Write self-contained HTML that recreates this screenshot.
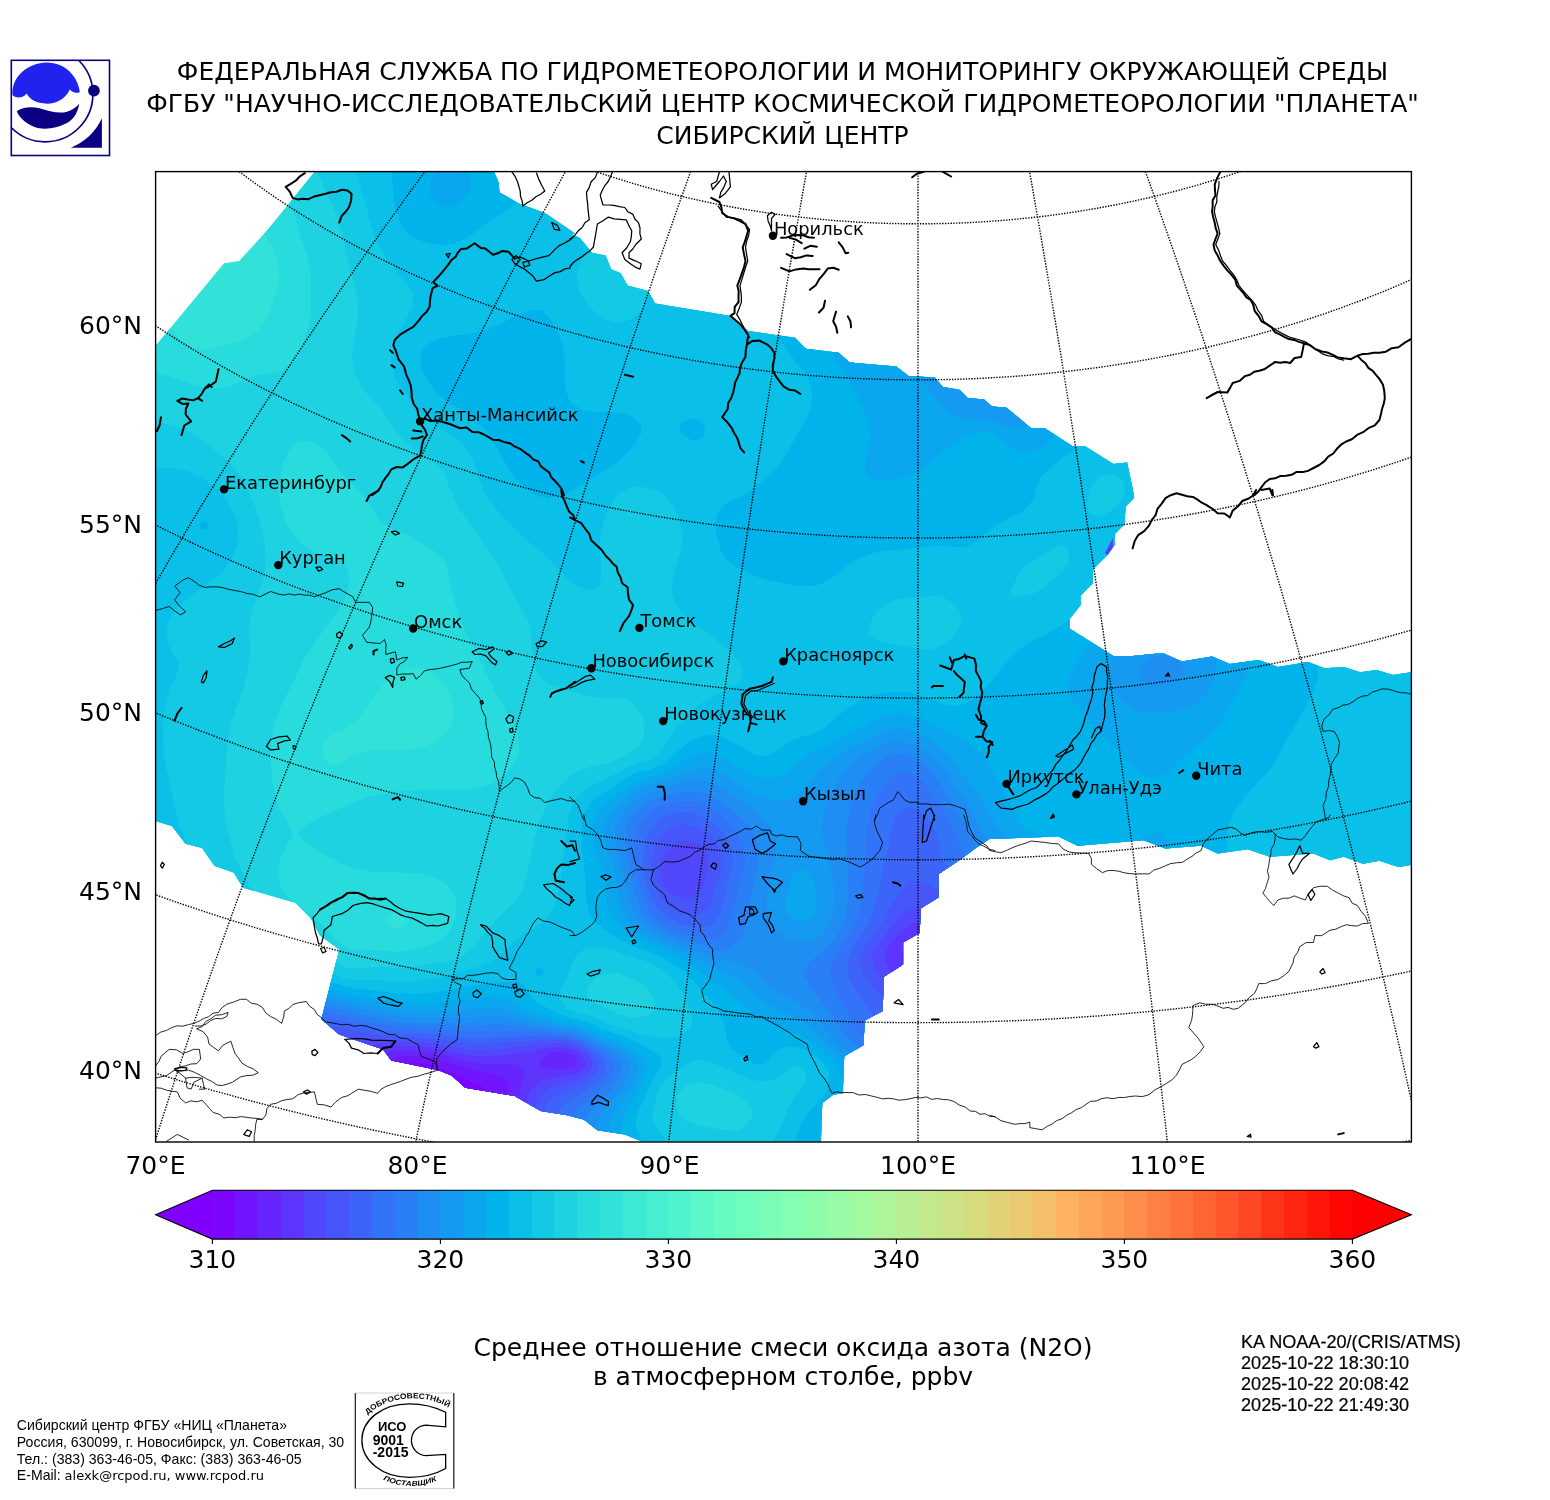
<!DOCTYPE html>
<html lang="ru"><head><meta charset="utf-8"><title>N2O</title>
<style>html,body{margin:0;padding:0;background:#fff}svg{display:block}text{font-family:"DejaVu Sans","Liberation Sans",sans-serif;fill:#000}.a text,.a{font-family:"Liberation Sans","DejaVu Sans",sans-serif}</style></head><body>
<svg width="1550" height="1500" viewBox="0 0 1550 1500">
<rect width="1550" height="1500" fill="#fff"/>
<defs>
<clipPath id="frame"><rect x="155.6" y="171.6" width="1255.8000000000002" height="970.4"/></clipPath>
<clipPath id="reg"><polygon points="314.5,171.9 287.1,206.1 267.9,229.4 239.1,261.0 224.0,263.2 155.5,346.0 155.5,821.0 171.9,826.0 185.6,843.8 202.1,847.9 214.4,865.7 233.6,872.6 243.2,887.7 295.3,902.7 310.4,917.8 320.0,935.6 339.2,949.4 321.4,1019.3 339.2,1034.4 383.1,1049.4 391.3,1060.4 437.9,1070.0 451.6,1075.5 465.3,1087.8 514.7,1096.0 540.7,1111.1 575.0,1116.6 570.0,1116.1 583.7,1119.4 597.4,1130.3 624.8,1134.4 641.3,1141.3 820.9,1141.3 822.3,1102.9 833.2,1094.7 842.8,1093.3 844.2,1056.3 863.4,1045.3 864.8,1020.6 882.6,1011.0 884.0,976.8 903.1,964.4 903.1,942.5 919.6,932.9 921.0,908.2 938.8,897.3 938.8,874.0 959.4,860.2 975.8,847.9 989.5,839.1 995.0,839.1 990.0,839.1 1058.5,836.4 1077.7,845.7 1143.5,840.2 1165.5,848.5 1201.1,845.7 1217.6,853.4 1247.7,849.3 1269.7,856.7 1313.5,853.4 1330.0,860.2 1343.7,856.7 1362.9,863.8 1379.4,860.8 1398.5,867.1 1410.9,864.9 1410.9,672.3 1393.1,675.1 1376.6,670.1 1360.2,672.3 1343.7,666.9 1324.5,668.2 1308.1,661.9 1277.9,666.9 1258.7,660.0 1229.9,664.1 1212.1,656.4 1181.9,661.4 1162.7,653.1 1132.6,655.9 1113.4,655.9 1069.5,628.5 1069.5,618.9 1080.5,605.2 1080.5,595.6 1092.8,583.2 1092.8,569.5 1107.9,554.4 1114.8,544.8 1114.8,533.9 1124.4,524.3 1125.7,506.5 1134.0,498.2 1134.0,490.0 1134.0,495.1 1127.1,462.5 1113.4,463.9 1084.6,446.0 1072.3,446.0 1044.8,428.2 1031.1,428.2 1006.5,407.7 990.0,406.3 995.0,409.0 984.0,399.4 967.6,398.1 959.4,389.8 942.9,387.1 934.7,377.5 908.6,376.1 896.3,366.5 849.7,362.4 838.7,352.8 805.8,348.7 794.8,337.7 748.2,330.9 729.0,315.8 655.0,303.5 648.1,291.1 627.6,285.6 620.7,273.3 611.1,269.2 605.6,255.5 591.9,252.7 579.6,237.7 570.0,233.5 575.0,233.5 544.8,213.0 518.8,203.4 499.6,192.4 498.2,181.5 494.1,171.9"/></clipPath>
</defs>
<g clip-path="url(#frame)"><g clip-path="url(#reg)">
<rect x="155.6" y="171.6" width="1255.8000000000002" height="970.4" fill="#32e2d9"/>
<path d="M148,164 153,164 158,164 163,164 168,164 173,164 178,164 183,164 188,164 193,164 198,164 203,164 208,164 213,164 218,164 223,164 228,164 233,164 238,164 243,164 248,164 253,164 258,164 263,164 268,164 273,164 278,164 283,164 288,164 293,164 298,164 303,164 308,164 313,164 318,164 323,164 328,164 333,164 338,164 343,164 348,164 353,164 358,164 363,164 368,164 373,164 378,164 383,164 388,164 393,164 398,164 403,164 408,164 413,164 418,164 423,164 428,164 433,164 438,164 443,164 448,164 453,164 458,164 463,164 468,164 473,164 478,164 483,164 488,164 493,164 498,164 503,164 508,164 513,164 518,164 523,164 528,164 533,164 538,164 543,164 548,164 553,164 558,164 563,164 568,164 573,164 578,164 583,164 588,164 593,164 598,164 603,164 608,164 613,164 618,164 623,164 628,164 633,164 638,164 643,164 648,164 653,164 658,164 663,164 668,164 673,164 678,164 683,164 688,164 693,164 698,164 703,164 708,164 713,164 718,164 723,164 728,164 733,164 738,164 743,164 748,164 753,164 758,164 763,164 768,164 773,164 778,164 783,164 788,164 793,164 798,164 803,164 808,164 813,164 818,164 823,164 828,164 833,164 838,164 843,164 848,164 853,164 858,164 863,164 868,164 873,164 878,164 883,164 888,164 893,164 898,164 903,164 908,164 913,164 918,164 923,164 928,164 933,164 938,164 943,164 948,164 953,164 958,164 963,164 968,164 973,164 978,164 983,164 988,164 993,164 998,164 1003,164 1008,164 1013,164 1018,164 1023,164 1028,164 1033,164 1038,164 1043,164 1048,164 1053,164 1058,164 1063,164 1068,164 1073,164 1078,164 1083,164 1088,164 1093,164 1098,164 1103,164 1108,164 1113,164 1118,164 1123,164 1128,164 1133,164 1138,164 1143,164 1148,164 1153,164 1158,164 1163,164 1168,164 1173,164 1178,164 1183,164 1188,164 1193,164 1198,164 1203,164 1208,164 1213,164 1218,164 1223,164 1228,164 1233,164 1238,164 1243,164 1248,164 1253,164 1258,164 1263,164 1268,164 1273,164 1278,164 1283,164 1288,164 1293,164 1298,164 1303,164 1308,164 1313,164 1318,164 1323,164 1328,164 1333,164 1338,164 1343,164 1348,164 1353,164 1358,164 1363,164 1368,164 1373,164 1378,164 1383,164 1388,164 1393,164 1398,164 1403,164 1408,164 1413,164 1418,164 1423,164 1423,169 1423,174 1423,179 1423,184 1423,189 1423,194 1423,199 1423,204 1423,209 1423,214 1423,219 1423,224 1423,229 1423,234 1423,239 1423,244 1423,249 1423,254 1423,259 1423,264 1423,269 1423,274 1423,279 1423,284 1423,289 1423,294 1423,299 1423,304 1423,309 1423,314 1423,319 1423,324 1423,329 1423,334 1423,339 1423,344 1423,349 1423,354 1423,359 1423,364 1423,369 1423,374 1423,379 1423,384 1423,389 1423,394 1423,399 1423,404 1423,409 1423,414 1423,419 1423,424 1423,429 1423,434 1423,439 1423,444 1423,449 1423,454 1423,459 1423,464 1423,469 1423,474 1423,479 1423,484 1423,489 1423,494 1423,499 1423,504 1423,509 1423,514 1423,519 1423,524 1423,529 1423,534 1423,539 1423,544 1423,549 1423,554 1423,559 1423,564 1423,569 1423,574 1423,579 1423,584 1423,589 1423,594 1423,599 1423,604 1423,609 1423,614 1423,619 1423,624 1423,629 1423,634 1423,639 1423,644 1423,649 1423,654 1423,659 1423,664 1423,669 1423,674 1423,679 1423,684 1423,689 1423,694 1423,699 1423,704 1423,709 1423,714 1423,719 1423,724 1423,729 1423,734 1423,739 1423,744 1423,749 1423,754 1423,759 1423,764 1423,769 1423,774 1423,779 1423,784 1423,789 1423,794 1423,799 1423,804 1423,809 1423,814 1423,819 1423,824 1423,829 1423,834 1423,839 1423,844 1423,849 1423,854 1423,859 1423,864 1423,869 1423,874 1423,879 1423,884 1423,889 1423,894 1423,899 1423,904 1423,909 1423,914 1423,919 1423,924 1423,929 1423,934 1423,939 1423,944 1423,949 1423,954 1423,959 1423,964 1423,969 1423,974 1423,979 1423,984 1423,989 1423,994 1423,999 1423,1004 1423,1009 1423,1014 1423,1019 1423,1024 1423,1029 1423,1034 1423,1039 1423,1044 1423,1049 1423,1054 1423,1059 1423,1064 1423,1069 1423,1074 1423,1079 1423,1084 1423,1089 1423,1094 1423,1099 1423,1104 1423,1109 1423,1114 1423,1119 1423,1124 1423,1129 1423,1134 1423,1139 1423,1144 1423,1149 1423,1154 1418,1154 1413,1154 1408,1154 1403,1154 1398,1154 1393,1154 1388,1154 1383,1154 1378,1154 1373,1154 1368,1154 1363,1154 1358,1154 1353,1154 1348,1154 1343,1154 1338,1154 1333,1154 1328,1154 1323,1154 1318,1154 1313,1154 1308,1154 1303,1154 1298,1154 1293,1154 1288,1154 1283,1154 1278,1154 1273,1154 1268,1154 1263,1154 1258,1154 1253,1154 1248,1154 1243,1154 1238,1154 1233,1154 1228,1154 1223,1154 1218,1154 1213,1154 1208,1154 1203,1154 1198,1154 1193,1154 1188,1154 1183,1154 1178,1154 1173,1154 1168,1154 1163,1154 1158,1154 1153,1154 1148,1154 1143,1154 1138,1154 1133,1154 1128,1154 1123,1154 1118,1154 1113,1154 1108,1154 1103,1154 1098,1154 1093,1154 1088,1154 1083,1154 1078,1154 1073,1154 1068,1154 1063,1154 1058,1154 1053,1154 1048,1154 1043,1154 1038,1154 1033,1154 1028,1154 1023,1154 1018,1154 1013,1154 1008,1154 1003,1154 998,1154 993,1154 988,1154 983,1154 978,1154 973,1154 968,1154 963,1154 958,1154 953,1154 948,1154 943,1154 938,1154 933,1154 928,1154 923,1154 918,1154 913,1154 908,1154 903,1154 898,1154 893,1154 888,1154 883,1154 878,1154 873,1154 868,1154 863,1154 858,1154 853,1154 848,1154 843,1154 838,1154 833,1154 828,1154 823,1154 818,1154 813,1154 808,1154 803,1154 798,1154 793,1154 788,1154 783,1154 778,1154 773,1154 768,1154 763,1154 758,1154 753,1154 748,1154 743,1154 738,1154 733,1154 728,1154 723,1154 718,1154 713,1154 708,1154 703,1154 698,1154 693,1154 688,1154 683,1154 678,1154 673,1154 668,1154 663,1154 658,1154 653,1154 648,1154 643,1154 638,1154 633,1154 628,1154 623,1154 618,1154 613,1154 608,1154 603,1154 598,1154 593,1154 588,1154 583,1154 578,1154 573,1154 568,1154 563,1154 558,1154 553,1154 548,1154 543,1154 538,1154 533,1154 528,1154 523,1154 518,1154 513,1154 508,1154 503,1154 498,1154 493,1154 488,1154 483,1154 478,1154 473,1154 468,1154 463,1154 458,1154 453,1154 448,1154 443,1154 438,1154 433,1154 428,1154 423,1154 418,1154 413,1154 408,1154 403,1154 398,1154 393,1154 388,1154 383,1154 378,1154 373,1154 368,1154 363,1154 358,1154 353,1154 348,1154 343,1154 338,1154 333,1154 328,1154 323,1154 318,1154 313,1154 308,1154 303,1154 298,1154 293,1154 288,1154 283,1154 278,1154 273,1154 268,1154 263,1154 258,1154 253,1154 248,1154 243,1154 238,1154 233,1154 228,1154 223,1154 218,1154 213,1154 208,1154 203,1154 198,1154 193,1154 188,1154 183,1154 178,1154 173,1154 168,1154 163,1154 158,1154 153,1154 148,1154 148,1149 148,1144 148,1139 148,1134 148,1129 148,1124 148,1119 148,1114 148,1109 148,1104 148,1099 148,1094 148,1089 148,1084 148,1079 148,1074 148,1069 148,1064 148,1059 148,1054 148,1049 148,1044 148,1039 148,1034 148,1029 148,1024 148,1019 148,1014 148,1009 148,1004 148,999 148,994 148,989 148,984 148,979 148,974 148,969 148,964 148,959 148,954 148,949 148,944 148,939 148,934 148,929 148,924 148,919 148,914 148,909 148,904 148,899 148,894 148,889 148,884 148,879 148,874 148,869 148,864 148,859 148,854 148,849 148,844 148,839 148,834 148,829 148,824 148,819 148,814 148,809 148,804 148,799 148,794 148,789 148,784 148,779 148,774 148,769 148,764 148,759 148,754 148,749 148,744 148,739 148,734 148,729 148,724 148,719 148,714 148,709 148,704 148,699 148,694 148,689 148,684 148,679 148,674 148,669 148,664 148,659 148,654 148,649 148,644 148,639 148,634 148,629 148,624 148,619 148,614 148,609 148,604 148,599 148,594 148,589 148,584 148,579 148,574 148,569 148,564 148,559 148,554 148,549 148,544 148,539 148,534 148,529 148,524 148,519 148,514 148,509 148,504 148,499 148,494 148,489 148,484 148,479 148,474 148,469 148,464 148,459 148,454 148,449 148,444 148,439 148,434 148,429 148,424 148,419 148,414 148,409 148,404 148,399 148,394 148,389 148,384 148,379 148,374 148,369 148,364 148,359 148,354 148,349 148,344 148,339 148,334 148,329 148,324 148,319 148,314 148,309 148,304 148,299 148,294 148,293 148,294 151,299 153,301 154,304 157,309 158,310 160,314 163,318 163,319 167,324 168,325 171,329 173,331 175,334 178,336 180,339 183,341 185,344 188,345 193,348 194,349 198,349 203,349 208,349 208,349 213,348 218,347 223,345 228,344 230,344 233,343 238,341 243,340 245,339 248,337 253,334 254,334 258,330 259,329 263,324 263,324 266,319 268,315 268,314 271,309 272,304 273,303 274,299 276,294 277,289 278,285 278,284 279,279 279,274 279,269 278,264 278,261 277,259 275,254 273,249 273,247 271,244 268,239 268,238 264,234 263,231 260,229 258,227 254,224 253,223 248,219 246,219 243,217 238,214 236,214 233,212 228,211 223,209 218,209 218,208 213,208 208,208 203,208 198,208 193,209 193,209 188,210 183,211 178,213 177,214 173,216 169,219 168,220 163,224 163,224 158,229 158,229 154,234 153,236 150,239 148,242 148,239 148,234 148,229 148,224 148,219 148,214 148,209 148,204 148,199 148,194 148,189 148,184 148,179 148,174 148,169ZM413,668 411,669 408,669 403,670 398,673 396,674 393,676 389,679 388,680 384,684 383,685 380,689 378,692 376,694 373,699 373,699 369,704 368,706 366,709 363,713 362,714 358,719 358,719 353,724 353,724 348,727 345,729 343,730 338,732 334,734 333,734 328,737 326,739 323,744 323,746 322,749 323,752 323,754 325,759 328,763 329,764 333,765 338,765 340,764 343,762 348,759 348,759 353,756 357,754 358,754 363,752 368,751 373,750 378,750 383,750 388,750 393,751 398,750 403,750 408,750 413,749 415,749 418,748 423,747 428,745 431,744 433,743 438,740 440,739 443,736 445,734 448,731 449,729 451,724 453,719 453,718 453,714 453,709 453,704 453,704 451,699 450,694 448,690 447,689 444,684 443,682 439,679 438,677 433,674 432,674 428,671 423,669 418,669 418,669ZM393,913 390,914 388,916 386,919 387,924 388,924 393,928 396,929 398,929 399,929 403,927 406,924 406,919 403,914 401,914 398,912Z" fill="#28dbdd" fill-rule="evenodd"/>
<path d="M260,164 263,164 268,164 273,164 278,164 283,164 288,164 293,164 298,164 303,164 308,164 313,164 318,164 323,164 328,164 333,164 338,164 343,164 348,164 353,164 358,164 363,164 368,164 373,164 378,164 383,164 388,164 393,164 398,164 403,164 408,164 413,164 418,164 423,164 428,164 433,164 438,164 443,164 448,164 453,164 458,164 463,164 468,164 473,164 478,164 483,164 488,164 493,164 498,164 503,164 508,164 513,164 518,164 523,164 528,164 533,164 538,164 543,164 548,164 553,164 558,164 563,164 568,164 573,164 578,164 583,164 588,164 593,164 598,164 603,164 608,164 613,164 618,164 623,164 628,164 633,164 638,164 643,164 648,164 653,164 658,164 663,164 668,164 673,164 678,164 683,164 688,164 693,164 698,164 703,164 708,164 713,164 718,164 723,164 728,164 733,164 738,164 743,164 748,164 753,164 758,164 763,164 768,164 773,164 778,164 783,164 788,164 793,164 798,164 803,164 808,164 813,164 818,164 823,164 828,164 833,164 838,164 843,164 848,164 853,164 858,164 863,164 868,164 873,164 878,164 883,164 888,164 893,164 898,164 903,164 908,164 913,164 918,164 923,164 928,164 933,164 938,164 943,164 948,164 953,164 958,164 963,164 968,164 973,164 978,164 983,164 988,164 993,164 998,164 1003,164 1008,164 1013,164 1018,164 1023,164 1028,164 1033,164 1038,164 1043,164 1048,164 1053,164 1058,164 1063,164 1068,164 1073,164 1078,164 1083,164 1088,164 1093,164 1098,164 1103,164 1108,164 1113,164 1118,164 1123,164 1128,164 1133,164 1138,164 1143,164 1148,164 1153,164 1158,164 1163,164 1168,164 1173,164 1178,164 1183,164 1188,164 1193,164 1198,164 1203,164 1208,164 1213,164 1218,164 1223,164 1228,164 1233,164 1238,164 1243,164 1248,164 1253,164 1258,164 1263,164 1268,164 1273,164 1278,164 1283,164 1288,164 1293,164 1298,164 1303,164 1308,164 1313,164 1318,164 1323,164 1328,164 1333,164 1338,164 1343,164 1348,164 1353,164 1358,164 1363,164 1368,164 1373,164 1378,164 1383,164 1388,164 1393,164 1398,164 1403,164 1408,164 1413,164 1418,164 1423,164 1423,169 1423,174 1423,179 1423,184 1423,189 1423,194 1423,199 1423,204 1423,209 1423,214 1423,219 1423,224 1423,229 1423,234 1423,239 1423,244 1423,249 1423,254 1423,259 1423,264 1423,269 1423,274 1423,279 1423,284 1423,289 1423,294 1423,299 1423,304 1423,309 1423,314 1423,319 1423,324 1423,329 1423,334 1423,339 1423,344 1423,349 1423,354 1423,359 1423,364 1423,369 1423,374 1423,379 1423,384 1423,389 1423,394 1423,399 1423,404 1423,409 1423,414 1423,419 1423,424 1423,429 1423,434 1423,439 1423,444 1423,449 1423,454 1423,459 1423,464 1423,469 1423,474 1423,479 1423,484 1423,489 1423,494 1423,499 1423,504 1423,509 1423,514 1423,519 1423,524 1423,529 1423,534 1423,539 1423,544 1423,549 1423,554 1423,559 1423,564 1423,569 1423,574 1423,579 1423,584 1423,589 1423,594 1423,599 1423,604 1423,609 1423,614 1423,619 1423,624 1423,629 1423,634 1423,639 1423,644 1423,649 1423,654 1423,659 1423,664 1423,669 1423,674 1423,679 1423,684 1423,689 1423,694 1423,699 1423,704 1423,709 1423,714 1423,719 1423,724 1423,729 1423,734 1423,739 1423,744 1423,749 1423,754 1423,759 1423,764 1423,769 1423,774 1423,779 1423,784 1423,789 1423,794 1423,799 1423,804 1423,809 1423,814 1423,819 1423,824 1423,829 1423,834 1423,839 1423,844 1423,849 1423,854 1423,859 1423,864 1423,869 1423,874 1423,879 1423,884 1423,889 1423,894 1423,899 1423,904 1423,909 1423,914 1423,919 1423,924 1423,929 1423,934 1423,939 1423,944 1423,949 1423,954 1423,959 1423,964 1423,969 1423,974 1423,979 1423,984 1423,989 1423,994 1423,999 1423,1004 1423,1009 1423,1014 1423,1019 1423,1024 1423,1029 1423,1034 1423,1039 1423,1044 1423,1049 1423,1054 1423,1059 1423,1064 1423,1069 1423,1074 1423,1079 1423,1084 1423,1089 1423,1094 1423,1099 1423,1104 1423,1109 1423,1114 1423,1119 1423,1124 1423,1129 1423,1134 1423,1139 1423,1144 1423,1149 1423,1154 1418,1154 1413,1154 1408,1154 1403,1154 1398,1154 1393,1154 1388,1154 1383,1154 1378,1154 1373,1154 1368,1154 1363,1154 1358,1154 1353,1154 1348,1154 1343,1154 1338,1154 1333,1154 1328,1154 1323,1154 1318,1154 1313,1154 1308,1154 1303,1154 1298,1154 1293,1154 1288,1154 1283,1154 1278,1154 1273,1154 1268,1154 1263,1154 1258,1154 1253,1154 1248,1154 1243,1154 1238,1154 1233,1154 1228,1154 1223,1154 1218,1154 1213,1154 1208,1154 1203,1154 1198,1154 1193,1154 1188,1154 1183,1154 1178,1154 1173,1154 1168,1154 1163,1154 1158,1154 1153,1154 1148,1154 1143,1154 1138,1154 1133,1154 1128,1154 1123,1154 1118,1154 1113,1154 1108,1154 1103,1154 1098,1154 1093,1154 1088,1154 1083,1154 1078,1154 1073,1154 1068,1154 1063,1154 1058,1154 1053,1154 1048,1154 1043,1154 1038,1154 1033,1154 1028,1154 1023,1154 1018,1154 1013,1154 1008,1154 1003,1154 998,1154 993,1154 988,1154 983,1154 978,1154 973,1154 968,1154 963,1154 958,1154 953,1154 948,1154 943,1154 938,1154 933,1154 928,1154 923,1154 918,1154 913,1154 908,1154 903,1154 898,1154 893,1154 888,1154 883,1154 878,1154 873,1154 868,1154 863,1154 858,1154 853,1154 848,1154 843,1154 838,1154 833,1154 828,1154 823,1154 818,1154 813,1154 808,1154 803,1154 798,1154 793,1154 788,1154 783,1154 778,1154 773,1154 768,1154 763,1154 758,1154 753,1154 748,1154 743,1154 738,1154 733,1154 728,1154 723,1154 718,1154 713,1154 708,1154 703,1154 698,1154 693,1154 688,1154 683,1154 678,1154 673,1154 668,1154 663,1154 658,1154 653,1154 648,1154 643,1154 638,1154 633,1154 628,1154 623,1154 618,1154 613,1154 608,1154 603,1154 598,1154 593,1154 588,1154 583,1154 578,1154 573,1154 568,1154 563,1154 558,1154 553,1154 548,1154 543,1154 538,1154 533,1154 528,1154 523,1154 518,1154 513,1154 508,1154 503,1154 498,1154 493,1154 488,1154 483,1154 478,1154 473,1154 468,1154 463,1154 458,1154 453,1154 448,1154 443,1154 438,1154 433,1154 428,1154 423,1154 418,1154 413,1154 408,1154 403,1154 398,1154 393,1154 388,1154 383,1154 378,1154 373,1154 368,1154 363,1154 358,1154 353,1154 348,1154 343,1154 338,1154 333,1154 328,1154 323,1154 318,1154 313,1154 308,1154 303,1154 298,1154 293,1154 288,1154 283,1154 278,1154 273,1154 268,1154 263,1154 258,1154 253,1154 248,1154 243,1154 238,1154 233,1154 228,1154 223,1154 218,1154 213,1154 208,1154 203,1154 198,1154 193,1154 188,1154 183,1154 178,1154 173,1154 168,1154 163,1154 158,1154 153,1154 148,1154 148,1149 148,1144 148,1139 148,1134 148,1129 148,1124 148,1119 148,1114 148,1109 148,1104 148,1099 148,1094 148,1089 148,1084 148,1079 148,1074 148,1069 148,1064 148,1059 148,1054 148,1049 148,1044 148,1039 148,1034 148,1029 148,1024 148,1019 148,1014 148,1009 148,1004 148,999 148,994 148,989 148,984 148,979 148,974 148,969 148,964 148,959 148,954 148,949 148,944 148,939 148,934 148,929 148,924 148,919 148,914 148,909 148,904 148,899 148,894 148,889 148,884 148,879 148,874 148,869 148,864 148,859 148,854 148,849 148,844 148,839 148,834 148,829 148,824 148,819 148,814 148,809 148,804 148,799 148,794 148,789 148,784 148,779 148,774 148,769 148,764 148,759 148,754 148,749 148,744 148,739 148,734 148,729 148,724 148,719 148,714 148,709 148,704 148,699 148,694 148,689 148,684 148,679 148,674 148,669 148,664 148,659 148,654 148,649 148,644 148,639 148,634 148,629 148,624 148,619 148,614 148,609 148,604 148,599 148,594 148,589 148,584 148,579 148,574 148,569 148,564 148,559 148,554 148,549 148,544 148,539 148,534 148,529 148,524 148,519 148,514 148,509 148,504 148,499 148,494 148,489 148,484 148,479 148,474 148,469 148,464 148,459 148,454 148,449 148,444 148,439 148,434 148,429 148,424 148,419 148,414 148,409 148,404 148,399 148,394 148,389 148,384 148,379 148,374 148,370 153,371 158,373 159,374 163,375 168,376 173,378 175,379 178,379 183,381 188,383 190,384 193,385 198,386 203,387 208,388 213,388 218,388 223,388 228,387 233,385 236,384 238,383 243,380 245,379 248,378 253,376 258,375 263,374 268,374 270,374 273,373 278,372 283,370 285,369 288,367 291,364 293,362 295,359 298,355 298,354 301,349 303,344 303,344 305,339 306,334 308,329 308,329 309,324 310,319 311,314 311,309 311,304 311,299 311,294 311,289 311,284 311,279 311,274 310,269 309,264 308,259 308,256 307,254 305,249 303,244 303,242 301,239 300,234 298,229 298,225 297,224 296,219 294,214 293,210 292,209 289,204 288,200 286,199 283,194 283,193 280,189 278,186 276,184 273,180 272,179 268,174 268,174 263,169 263,167ZM298,442 295,444 293,446 290,449 288,452 287,454 285,459 283,464 283,464 282,469 281,474 280,479 279,484 279,489 279,494 280,499 280,504 281,509 283,513 283,514 284,519 287,524 288,525 290,529 293,533 293,534 297,539 298,539 302,544 303,544 308,548 308,549 313,551 318,553 318,554 323,555 328,556 333,557 338,559 338,559 343,562 345,564 348,569 348,569 349,574 349,579 349,584 348,589 348,589 346,594 345,599 343,604 343,604 339,609 338,611 336,614 333,617 332,619 328,624 328,624 324,629 323,631 321,634 318,638 317,639 314,644 313,646 311,649 308,653 307,654 304,659 303,661 301,664 299,669 298,672 297,674 295,679 293,683 292,684 290,689 288,692 287,694 284,699 283,702 282,704 280,709 278,714 278,714 276,719 274,724 273,729 273,731 272,734 271,739 271,744 271,749 270,754 271,759 271,764 271,769 272,774 272,779 273,782 273,784 274,789 275,794 276,799 278,802 278,804 280,809 282,814 283,814 285,819 288,823 288,824 291,829 293,833 293,834 293,834 291,839 288,843 287,844 285,849 283,852 282,854 280,859 279,864 278,869 278,874 279,879 280,884 281,889 283,891 285,894 288,897 289,899 293,902 295,904 298,905 302,909 303,909 308,913 309,914 313,917 315,919 318,921 320,924 323,926 325,929 328,931 330,934 333,937 334,939 338,941 340,944 343,945 348,948 349,949 353,950 358,950 363,950 368,950 373,950 378,951 383,951 388,951 393,952 398,952 403,951 408,951 413,950 417,949 418,948 423,947 428,945 433,944 433,944 438,941 442,939 443,938 447,934 448,933 451,929 453,924 453,924 455,919 456,914 456,909 456,904 456,899 454,894 453,892 451,889 448,886 445,884 443,882 438,879 437,879 433,877 428,875 423,874 419,874 418,873 413,873 408,873 403,873 398,872 393,872 388,872 383,872 378,872 373,872 368,871 363,870 358,869 355,869 353,868 348,866 343,864 341,864 338,862 333,859 331,859 328,857 323,854 322,854 318,851 314,849 313,847 308,844 307,844 303,839 302,839 298,834 301,829 303,828 308,824 308,824 313,821 317,819 318,818 323,816 328,814 328,814 333,811 338,809 339,809 343,807 348,805 350,804 353,803 358,801 363,799 364,799 368,797 373,796 378,795 383,794 383,794 388,793 393,792 398,791 403,791 408,791 413,790 418,790 423,790 428,790 433,790 438,790 443,790 448,790 453,790 458,790 463,790 468,790 473,789 476,789 478,788 483,787 488,785 491,784 493,783 498,780 499,779 503,776 505,774 508,771 510,769 513,765 513,764 516,759 518,755 518,754 519,749 519,744 518,739 518,736 517,734 515,729 513,724 513,724 510,719 508,714 507,714 505,709 503,705 502,704 499,699 498,696 496,694 494,689 493,686 491,684 489,679 488,676 486,674 484,669 483,665 482,664 479,659 478,655 477,654 474,649 473,646 471,644 469,639 468,637 466,634 464,629 463,625 462,624 460,619 458,614 458,611 457,609 455,604 454,599 453,595 452,594 451,589 450,584 449,579 448,574 448,572 447,569 445,564 443,559 443,559 438,554 438,554 433,550 430,549 428,547 423,544 423,544 418,541 414,539 413,538 408,535 404,534 403,533 398,531 393,529 392,529 388,526 383,524 383,523 378,519 378,518 375,514 373,509 372,509 369,504 368,501 366,499 363,495 362,494 358,489 357,489 353,485 352,484 348,480 346,479 343,475 342,474 338,469 338,467 335,464 333,459 332,459 328,454 328,453 323,449 323,448 318,445 315,444 313,442 308,441 303,441Z" fill="#1ed2e1" fill-rule="evenodd"/>
<path d="M315,164 318,164 323,164 328,164 333,164 338,164 343,164 348,164 353,164 358,164 363,164 368,164 373,164 378,164 383,164 388,164 393,164 398,164 403,164 408,164 413,164 418,164 423,164 428,164 433,164 438,164 443,164 448,164 453,164 458,164 463,164 468,164 473,164 478,164 483,164 488,164 493,164 498,164 503,164 508,164 513,164 518,164 523,164 528,164 533,164 538,164 543,164 548,164 553,164 558,164 563,164 568,164 573,164 578,164 583,164 588,164 593,164 598,164 603,164 608,164 613,164 618,164 623,164 628,164 633,164 638,164 643,164 648,164 653,164 658,164 663,164 668,164 673,164 678,164 683,164 688,164 693,164 698,164 703,164 708,164 713,164 718,164 723,164 728,164 733,164 738,164 743,164 748,164 753,164 758,164 763,164 768,164 773,164 778,164 783,164 788,164 793,164 798,164 803,164 808,164 813,164 818,164 823,164 828,164 833,164 838,164 843,164 848,164 853,164 858,164 863,164 868,164 873,164 878,164 883,164 888,164 893,164 898,164 903,164 908,164 913,164 918,164 923,164 928,164 933,164 938,164 943,164 948,164 953,164 958,164 963,164 968,164 973,164 978,164 983,164 988,164 993,164 998,164 1003,164 1008,164 1013,164 1018,164 1023,164 1028,164 1033,164 1038,164 1043,164 1048,164 1053,164 1058,164 1063,164 1068,164 1073,164 1078,164 1083,164 1088,164 1093,164 1098,164 1103,164 1108,164 1113,164 1118,164 1123,164 1128,164 1133,164 1138,164 1143,164 1148,164 1153,164 1158,164 1163,164 1168,164 1173,164 1178,164 1183,164 1188,164 1193,164 1198,164 1203,164 1208,164 1213,164 1218,164 1223,164 1228,164 1233,164 1238,164 1243,164 1248,164 1253,164 1258,164 1263,164 1268,164 1273,164 1278,164 1283,164 1288,164 1293,164 1298,164 1303,164 1308,164 1313,164 1318,164 1323,164 1328,164 1333,164 1338,164 1343,164 1348,164 1353,164 1358,164 1363,164 1368,164 1373,164 1378,164 1383,164 1388,164 1393,164 1398,164 1403,164 1408,164 1413,164 1418,164 1423,164 1423,169 1423,174 1423,179 1423,184 1423,189 1423,194 1423,199 1423,204 1423,209 1423,214 1423,219 1423,224 1423,229 1423,234 1423,239 1423,244 1423,249 1423,254 1423,259 1423,264 1423,269 1423,274 1423,279 1423,284 1423,289 1423,294 1423,299 1423,304 1423,309 1423,314 1423,319 1423,324 1423,329 1423,334 1423,339 1423,344 1423,349 1423,354 1423,359 1423,364 1423,369 1423,374 1423,379 1423,384 1423,389 1423,394 1423,399 1423,404 1423,409 1423,414 1423,419 1423,424 1423,429 1423,434 1423,439 1423,444 1423,449 1423,454 1423,459 1423,464 1423,469 1423,474 1423,479 1423,484 1423,489 1423,494 1423,499 1423,504 1423,509 1423,514 1423,519 1423,524 1423,529 1423,534 1423,539 1423,544 1423,549 1423,554 1423,559 1423,564 1423,569 1423,574 1423,579 1423,584 1423,589 1423,594 1423,599 1423,604 1423,609 1423,614 1423,619 1423,624 1423,629 1423,634 1423,639 1423,644 1423,649 1423,654 1423,659 1423,664 1423,669 1423,674 1423,679 1423,684 1423,689 1423,694 1423,699 1423,704 1423,709 1423,714 1423,719 1423,724 1423,729 1423,734 1423,739 1423,744 1423,749 1423,754 1423,759 1423,764 1423,769 1423,774 1423,779 1423,784 1423,789 1423,794 1423,799 1423,804 1423,809 1423,814 1423,819 1423,824 1423,829 1423,834 1423,839 1423,844 1423,849 1423,854 1423,859 1423,864 1423,869 1423,874 1423,879 1423,884 1423,889 1423,894 1423,899 1423,904 1423,909 1423,914 1423,919 1423,924 1423,929 1423,934 1423,939 1423,944 1423,949 1423,954 1423,959 1423,964 1423,969 1423,974 1423,979 1423,984 1423,989 1423,994 1423,999 1423,1004 1423,1009 1423,1014 1423,1019 1423,1024 1423,1029 1423,1034 1423,1039 1423,1044 1423,1049 1423,1054 1423,1059 1423,1064 1423,1069 1423,1074 1423,1079 1423,1084 1423,1089 1423,1094 1423,1099 1423,1104 1423,1109 1423,1114 1423,1119 1423,1124 1423,1129 1423,1134 1423,1139 1423,1144 1423,1149 1423,1154 1418,1154 1413,1154 1408,1154 1403,1154 1398,1154 1393,1154 1388,1154 1383,1154 1378,1154 1373,1154 1368,1154 1363,1154 1358,1154 1353,1154 1348,1154 1343,1154 1338,1154 1333,1154 1328,1154 1323,1154 1318,1154 1313,1154 1308,1154 1303,1154 1298,1154 1293,1154 1288,1154 1283,1154 1278,1154 1273,1154 1268,1154 1263,1154 1258,1154 1253,1154 1248,1154 1243,1154 1238,1154 1233,1154 1228,1154 1223,1154 1218,1154 1213,1154 1208,1154 1203,1154 1198,1154 1193,1154 1188,1154 1183,1154 1178,1154 1173,1154 1168,1154 1163,1154 1158,1154 1153,1154 1148,1154 1143,1154 1138,1154 1133,1154 1128,1154 1123,1154 1118,1154 1113,1154 1108,1154 1103,1154 1098,1154 1093,1154 1088,1154 1083,1154 1078,1154 1073,1154 1068,1154 1063,1154 1058,1154 1053,1154 1048,1154 1043,1154 1038,1154 1033,1154 1028,1154 1023,1154 1018,1154 1013,1154 1008,1154 1003,1154 998,1154 993,1154 988,1154 983,1154 978,1154 973,1154 968,1154 963,1154 958,1154 953,1154 948,1154 943,1154 938,1154 933,1154 928,1154 923,1154 918,1154 913,1154 908,1154 903,1154 898,1154 893,1154 888,1154 883,1154 878,1154 873,1154 868,1154 863,1154 858,1154 853,1154 848,1154 843,1154 838,1154 833,1154 828,1154 823,1154 818,1154 813,1154 808,1154 803,1154 798,1154 793,1154 788,1154 783,1154 778,1154 773,1154 768,1154 763,1154 758,1154 753,1154 748,1154 743,1154 738,1154 733,1154 728,1154 723,1154 718,1154 713,1154 708,1154 703,1154 698,1154 693,1154 688,1154 683,1154 678,1154 673,1154 668,1154 663,1154 658,1154 653,1154 648,1154 643,1154 638,1154 633,1154 628,1154 623,1154 618,1154 613,1154 608,1154 603,1154 598,1154 593,1154 588,1154 583,1154 578,1154 573,1154 568,1154 563,1154 558,1154 553,1154 548,1154 543,1154 538,1154 533,1154 528,1154 523,1154 518,1154 513,1154 508,1154 503,1154 498,1154 493,1154 488,1154 483,1154 478,1154 473,1154 468,1154 463,1154 458,1154 453,1154 448,1154 443,1154 438,1154 433,1154 428,1154 423,1154 418,1154 413,1154 408,1154 403,1154 398,1154 393,1154 388,1154 383,1154 378,1154 373,1154 368,1154 363,1154 358,1154 353,1154 348,1154 343,1154 338,1154 333,1154 328,1154 323,1154 318,1154 313,1154 308,1154 303,1154 298,1154 293,1154 288,1154 283,1154 278,1154 273,1154 268,1154 263,1154 258,1154 253,1154 248,1154 243,1154 238,1154 233,1154 228,1154 223,1154 218,1154 213,1154 208,1154 203,1154 198,1154 193,1154 188,1154 183,1154 178,1154 173,1154 168,1154 163,1154 158,1154 153,1154 148,1154 148,1149 148,1144 148,1139 148,1134 148,1129 148,1124 148,1119 148,1114 148,1109 148,1104 148,1099 148,1094 148,1089 148,1084 148,1079 148,1074 148,1069 148,1064 148,1059 148,1054 148,1049 148,1044 148,1039 148,1034 148,1029 148,1024 148,1019 148,1014 148,1009 148,1004 148,999 148,994 148,989 148,984 148,979 148,974 148,969 148,964 148,959 148,954 148,949 148,944 148,939 148,934 148,929 148,924 148,919 148,914 148,909 148,904 148,899 148,894 148,889 148,884 148,879 148,874 148,869 148,864 148,859 148,854 148,849 148,844 148,839 148,834 148,829 148,824 148,819 148,814 148,809 148,804 148,799 148,794 148,789 148,784 148,779 148,774 148,769 148,764 148,759 148,754 148,749 148,744 148,739 148,734 148,729 148,724 148,719 148,714 148,709 148,704 148,699 148,694 148,689 148,684 148,679 148,674 148,669 148,664 148,659 148,654 148,649 148,644 148,639 148,634 148,629 148,624 148,619 148,614 148,609 148,604 148,599 148,594 148,589 148,584 148,579 148,574 148,569 148,564 148,559 148,554 148,549 148,544 148,539 148,534 148,529 148,524 148,519 148,514 148,509 148,504 148,499 148,494 148,489 148,484 148,479 148,474 148,469 148,464 148,459 148,454 148,449 148,444 148,439 148,434 148,429 148,424 148,420 153,421 158,422 163,423 166,424 168,424 173,425 178,427 182,429 183,429 188,431 193,433 193,434 198,436 201,439 203,440 208,444 208,444 213,448 213,449 218,452 219,454 223,457 225,459 228,461 230,464 233,466 235,469 238,472 239,474 242,479 243,480 245,484 247,489 248,489 250,494 252,499 253,500 254,504 256,509 257,514 258,514 259,519 260,524 262,529 263,533 263,534 264,539 265,544 265,549 265,554 266,559 265,564 265,569 264,574 263,579 263,580 262,584 260,589 258,594 258,595 256,599 254,604 253,608 252,609 251,614 250,619 250,624 249,629 249,634 250,639 250,644 250,649 250,654 250,659 249,664 248,669 248,673 247,674 246,679 245,684 243,689 243,690 241,694 240,699 238,704 238,704 236,709 234,714 233,718 232,719 231,724 230,729 229,734 228,739 228,740 227,744 227,749 226,754 226,759 226,764 226,769 225,774 225,779 225,784 224,789 224,794 224,799 224,804 224,809 225,814 225,819 226,824 227,829 228,830 228,834 230,839 231,844 233,848 233,849 234,854 236,859 238,862 238,864 241,869 243,873 243,874 245,879 248,882 248,884 251,889 253,890 255,894 258,897 258,899 263,904 263,904 267,909 268,909 273,913 273,914 278,918 279,919 283,921 285,924 288,925 292,929 293,929 298,932 299,934 303,936 306,939 308,940 313,943 313,944 318,947 319,949 323,951 326,954 328,955 332,959 333,959 338,962 339,964 343,966 348,968 352,969 353,969 354,969 358,968 363,968 368,967 373,967 378,967 383,967 388,967 393,968 398,968 403,968 408,967 413,967 418,966 423,965 428,964 430,964 433,963 438,963 443,962 448,961 453,960 456,959 458,958 463,955 465,954 468,951 471,949 473,947 476,944 478,941 480,939 483,935 484,934 488,929 488,929 493,924 493,924 497,919 498,918 502,914 503,913 507,909 508,908 512,904 513,903 516,899 518,897 520,894 522,889 523,888 524,884 526,879 527,874 528,870 528,869 529,864 530,859 531,854 532,849 533,846 533,844 534,839 536,834 537,829 538,828 539,824 541,819 543,814 543,814 545,809 547,804 548,803 550,799 553,795 553,794 557,789 558,788 562,784 563,783 567,779 568,778 573,774 574,774 578,771 583,769 584,769 588,767 593,766 598,765 603,764 605,764 608,763 613,761 618,759 619,759 623,756 627,754 628,753 633,750 634,749 638,746 640,744 643,739 643,739 644,734 644,729 644,724 643,719 643,717 641,714 638,709 638,708 633,704 633,703 628,700 623,699 621,699 618,698 613,698 608,698 603,698 598,698 593,697 588,696 583,695 579,694 578,693 573,692 568,690 563,689 561,689 558,687 553,686 548,684 548,683 543,679 542,679 538,674 538,672 536,669 535,664 534,659 533,654 533,651 532,649 532,644 531,639 531,634 530,629 529,624 528,620 527,619 524,614 523,611 521,609 518,604 518,602 516,599 513,594 513,593 510,589 508,584 508,584 505,579 503,574 502,574 500,569 498,565 497,564 494,559 493,556 491,554 488,549 488,549 484,544 483,541 481,539 478,535 477,534 473,529 473,528 469,524 468,521 466,519 463,514 463,514 459,509 458,505 457,504 454,499 453,495 452,494 450,489 448,484 448,482 446,479 444,474 443,470 441,469 438,465 436,464 433,462 428,459 428,459 423,456 420,454 418,452 413,449 413,448 408,444 407,444 403,439 402,439 398,434 398,434 394,429 393,427 391,424 388,419 388,419 384,414 383,411 381,409 378,405 376,404 373,400 372,399 368,394 367,394 363,389 363,388 360,384 358,379 357,379 355,374 354,369 353,364 353,361 352,359 352,354 353,350 353,349 353,344 354,339 355,334 356,329 357,324 358,319 358,318 358,314 358,309 358,304 358,301 357,299 356,294 355,289 354,284 353,279 353,278 352,274 350,269 349,264 348,259 348,259 346,254 345,249 344,244 343,239 343,237 342,234 341,229 339,224 338,219 338,218 336,214 334,209 333,206 331,204 329,199 328,195 327,194 325,189 323,184 323,184 320,179 318,174 318,172 316,169ZM693,1083 691,1084 688,1085 683,1088 682,1089 678,1094 678,1094 676,1099 676,1104 677,1109 678,1110 679,1114 683,1117 684,1119 688,1121 693,1123 694,1124 698,1125 703,1126 708,1127 713,1128 717,1129 718,1129 723,1130 728,1130 733,1130 738,1130 740,1129 743,1127 747,1124 748,1123 751,1119 752,1114 752,1109 748,1104 748,1103 743,1099 742,1099 738,1096 734,1094 733,1093 728,1091 723,1089 723,1088 718,1087 713,1085 708,1084 707,1084 703,1083 698,1083ZM608,973 604,974 603,974 598,977 595,979 593,981 590,984 588,989 588,989 587,994 588,996 589,999 593,1001 596,1004 598,1004 603,1007 606,1009 608,1009 613,1011 617,1014 618,1014 623,1015 628,1017 633,1018 638,1017 643,1017 648,1015 650,1014 653,1011 654,1009 655,1004 654,999 653,996 651,994 648,989 647,989 643,985 641,984 638,982 633,979 632,979 628,977 623,975 619,974 618,973 613,973Z" fill="#14c9e4" fill-rule="evenodd"/>
<path d="M356,164 358,164 363,164 368,164 373,164 378,164 383,164 388,164 393,164 398,164 403,164 408,164 413,164 418,164 423,164 428,164 433,164 438,164 443,164 448,164 453,164 458,164 463,164 468,164 473,164 478,164 483,164 488,164 493,164 498,164 503,164 508,164 513,164 518,164 523,164 528,164 533,164 538,164 543,164 548,164 553,164 558,164 563,164 568,164 573,164 578,164 583,164 588,164 593,164 598,164 603,164 608,164 613,164 618,164 623,164 628,164 633,164 638,164 643,164 648,164 653,164 658,164 663,164 668,164 673,164 678,164 683,164 688,164 693,164 698,164 703,164 708,164 713,164 718,164 723,164 728,164 733,164 738,164 743,164 748,164 753,164 758,164 763,164 768,164 773,164 778,164 783,164 788,164 793,164 798,164 803,164 808,164 813,164 818,164 823,164 828,164 833,164 838,164 843,164 848,164 853,164 858,164 863,164 868,164 873,164 878,164 883,164 888,164 893,164 898,164 903,164 908,164 913,164 918,164 923,164 928,164 933,164 938,164 943,164 948,164 953,164 958,164 963,164 968,164 973,164 978,164 983,164 988,164 993,164 998,164 1003,164 1008,164 1013,164 1018,164 1023,164 1028,164 1033,164 1038,164 1043,164 1048,164 1053,164 1058,164 1063,164 1068,164 1073,164 1078,164 1083,164 1088,164 1093,164 1098,164 1103,164 1108,164 1113,164 1118,164 1123,164 1128,164 1133,164 1138,164 1143,164 1148,164 1153,164 1158,164 1163,164 1168,164 1173,164 1178,164 1183,164 1188,164 1193,164 1198,164 1203,164 1208,164 1213,164 1218,164 1223,164 1228,164 1233,164 1238,164 1243,164 1248,164 1253,164 1258,164 1263,164 1268,164 1273,164 1278,164 1283,164 1288,164 1293,164 1298,164 1303,164 1308,164 1313,164 1318,164 1323,164 1328,164 1333,164 1338,164 1343,164 1348,164 1353,164 1358,164 1363,164 1368,164 1373,164 1378,164 1383,164 1388,164 1393,164 1398,164 1403,164 1408,164 1413,164 1418,164 1423,164 1423,169 1423,174 1423,179 1423,184 1423,189 1423,194 1423,199 1423,204 1423,209 1423,214 1423,219 1423,224 1423,229 1423,234 1423,239 1423,244 1423,249 1423,254 1423,259 1423,264 1423,269 1423,274 1423,279 1423,284 1423,289 1423,294 1423,299 1423,304 1423,309 1423,314 1423,319 1423,324 1423,329 1423,334 1423,339 1423,344 1423,349 1423,354 1423,359 1423,364 1423,369 1423,374 1423,379 1423,384 1423,389 1423,394 1423,399 1423,404 1423,409 1423,414 1423,419 1423,424 1423,429 1423,434 1423,439 1423,444 1423,449 1423,454 1423,459 1423,464 1423,469 1423,474 1423,479 1423,484 1423,489 1423,494 1423,499 1423,504 1423,509 1423,514 1423,519 1423,524 1423,529 1423,534 1423,539 1423,544 1423,549 1423,554 1423,559 1423,564 1423,569 1423,574 1423,579 1423,584 1423,589 1423,594 1423,599 1423,604 1423,609 1423,614 1423,619 1423,624 1423,629 1423,634 1423,639 1423,644 1423,649 1423,654 1423,659 1423,664 1423,669 1423,674 1423,679 1423,684 1423,689 1423,694 1423,699 1423,704 1423,709 1423,714 1423,719 1423,724 1423,729 1423,734 1423,739 1423,744 1423,749 1423,754 1423,759 1423,764 1423,769 1423,774 1423,779 1423,784 1423,789 1423,794 1423,799 1423,804 1423,809 1423,814 1423,819 1423,824 1423,829 1423,834 1423,839 1423,844 1423,849 1423,854 1423,859 1423,864 1423,869 1423,874 1423,879 1423,884 1423,889 1423,894 1423,899 1423,904 1423,909 1423,914 1423,919 1423,924 1423,929 1423,934 1423,939 1423,944 1423,949 1423,954 1423,959 1423,964 1423,969 1423,974 1423,979 1423,984 1423,989 1423,994 1423,999 1423,1004 1423,1009 1423,1014 1423,1019 1423,1024 1423,1029 1423,1034 1423,1039 1423,1044 1423,1049 1423,1054 1423,1059 1423,1064 1423,1069 1423,1074 1423,1079 1423,1084 1423,1089 1423,1094 1423,1099 1423,1104 1423,1109 1423,1114 1423,1119 1423,1124 1423,1129 1423,1134 1423,1139 1423,1144 1423,1149 1423,1154 1418,1154 1413,1154 1408,1154 1403,1154 1398,1154 1393,1154 1388,1154 1383,1154 1378,1154 1373,1154 1368,1154 1363,1154 1358,1154 1353,1154 1348,1154 1343,1154 1338,1154 1333,1154 1328,1154 1323,1154 1318,1154 1313,1154 1308,1154 1303,1154 1298,1154 1293,1154 1288,1154 1283,1154 1278,1154 1273,1154 1268,1154 1263,1154 1258,1154 1253,1154 1248,1154 1243,1154 1238,1154 1233,1154 1228,1154 1223,1154 1218,1154 1213,1154 1208,1154 1203,1154 1198,1154 1193,1154 1188,1154 1183,1154 1178,1154 1173,1154 1168,1154 1163,1154 1158,1154 1153,1154 1148,1154 1143,1154 1138,1154 1133,1154 1128,1154 1123,1154 1118,1154 1113,1154 1108,1154 1103,1154 1098,1154 1093,1154 1088,1154 1083,1154 1078,1154 1073,1154 1068,1154 1063,1154 1058,1154 1053,1154 1048,1154 1043,1154 1038,1154 1033,1154 1028,1154 1023,1154 1018,1154 1013,1154 1008,1154 1003,1154 998,1154 993,1154 988,1154 983,1154 978,1154 973,1154 968,1154 963,1154 958,1154 953,1154 948,1154 943,1154 938,1154 933,1154 928,1154 923,1154 918,1154 913,1154 908,1154 903,1154 898,1154 893,1154 888,1154 883,1154 878,1154 873,1154 868,1154 863,1154 858,1154 853,1154 848,1154 843,1154 838,1154 833,1154 828,1154 823,1154 818,1154 813,1154 808,1154 803,1154 798,1154 793,1154 788,1154 783,1154 778,1154 773,1154 768,1154 763,1154 766,1149 768,1147 770,1144 773,1141 774,1139 777,1134 778,1133 780,1129 782,1124 783,1121 784,1119 786,1114 788,1109 788,1109 791,1104 793,1100 794,1099 797,1094 798,1093 801,1089 803,1085 804,1084 806,1079 806,1074 804,1069 803,1068 798,1066 793,1067 791,1069 788,1071 784,1074 783,1075 778,1078 776,1079 773,1080 768,1081 763,1081 758,1081 753,1080 748,1079 748,1078 743,1076 738,1074 737,1074 733,1072 728,1069 726,1069 723,1067 718,1065 715,1064 713,1063 708,1061 703,1060 698,1060 693,1061 688,1064 688,1064 683,1067 680,1069 678,1070 673,1073 672,1074 668,1077 666,1079 663,1083 662,1084 659,1089 658,1093 657,1094 656,1099 655,1104 653,1109 653,1114 653,1119 655,1124 657,1129 658,1129 661,1134 663,1136 665,1139 668,1141 670,1144 673,1146 676,1149 678,1151 681,1154 678,1154 673,1154 668,1154 663,1154 658,1154 653,1154 648,1154 643,1154 638,1154 633,1154 628,1154 623,1154 618,1154 613,1154 608,1154 603,1154 598,1154 593,1154 588,1154 583,1154 578,1154 573,1154 568,1154 563,1154 558,1154 553,1154 548,1154 543,1154 538,1154 533,1154 528,1154 523,1154 518,1154 513,1154 508,1154 503,1154 498,1154 493,1154 488,1154 483,1154 478,1154 473,1154 468,1154 463,1154 458,1154 453,1154 448,1154 443,1154 438,1154 433,1154 428,1154 423,1154 418,1154 413,1154 408,1154 403,1154 398,1154 393,1154 388,1154 383,1154 378,1154 373,1154 368,1154 363,1154 358,1154 353,1154 348,1154 343,1154 338,1154 333,1154 328,1154 323,1154 318,1154 313,1154 308,1154 303,1154 298,1154 293,1154 288,1154 283,1154 278,1154 273,1154 268,1154 263,1154 258,1154 253,1154 248,1154 243,1154 238,1154 233,1154 228,1154 223,1154 218,1154 213,1154 208,1154 203,1154 198,1154 193,1154 188,1154 183,1154 178,1154 173,1154 168,1154 163,1154 158,1154 153,1154 148,1154 148,1149 148,1144 148,1139 148,1134 148,1129 148,1124 148,1119 148,1114 148,1109 148,1104 148,1099 148,1094 148,1089 148,1084 148,1079 148,1074 148,1069 148,1064 148,1059 148,1054 148,1049 148,1044 148,1039 148,1034 148,1029 148,1024 148,1019 148,1014 148,1009 148,1004 148,999 148,994 148,989 148,984 148,979 148,974 148,969 148,964 148,959 148,954 148,949 148,944 148,939 148,934 148,929 148,924 148,919 148,914 148,909 148,904 148,899 148,894 148,889 148,884 148,879 148,874 148,869 148,864 148,859 148,854 148,849 148,844 148,839 148,834 148,829 148,824 148,819 148,814 148,809 148,804 148,799 148,794 148,789 148,784 148,779 148,774 148,769 148,764 148,759 148,754 148,749 148,744 148,739 148,734 148,729 148,724 148,719 148,714 148,709 148,704 148,699 148,694 148,689 148,684 148,679 148,674 148,669 148,664 148,659 148,654 148,649 148,644 148,639 148,634 148,629 148,624 148,619 148,614 148,609 148,604 148,599 148,594 148,589 148,584 148,579 148,574 148,569 148,564 148,559 148,554 148,549 148,544 148,539 148,534 148,529 148,524 148,519 148,514 148,509 148,504 148,499 148,494 148,489 148,484 148,479 148,474 148,469 153,469 156,469 158,468 163,468 168,468 173,468 173,469 178,469 183,470 188,471 193,473 193,474 198,476 203,478 203,479 208,481 210,484 213,485 216,489 218,490 221,494 223,495 226,499 228,501 229,504 232,509 233,510 234,514 236,519 237,524 238,526 238,529 238,534 238,539 238,540 237,544 235,549 234,554 233,556 231,559 228,564 228,564 224,569 223,571 220,574 218,576 214,579 213,580 208,584 208,584 203,588 201,589 198,591 194,594 193,595 188,598 187,599 183,602 181,604 178,607 176,609 173,613 172,614 170,619 168,624 168,625 167,629 167,634 167,639 168,640 168,644 171,649 173,653 173,654 176,659 178,663 178,664 178,669 178,670 177,674 175,679 173,683 172,684 170,689 169,694 168,696 167,699 166,704 164,709 164,714 163,719 163,724 163,728 163,729 163,732 163,734 163,739 163,744 164,749 164,754 165,759 166,764 166,769 167,774 168,774 169,779 170,784 171,789 172,794 173,797 173,799 174,804 175,809 176,814 178,819 178,819 179,824 181,829 183,833 183,834 185,839 188,844 188,844 190,849 193,853 193,854 196,859 198,861 199,864 202,869 203,869 206,874 208,876 209,879 213,883 213,884 217,889 218,889 222,894 223,895 226,899 228,900 231,904 233,905 236,909 238,910 242,914 243,914 248,918 248,919 253,922 254,924 258,926 261,929 263,929 268,933 269,934 273,936 277,939 278,939 283,942 285,944 288,945 293,948 294,949 298,951 302,954 303,954 308,957 310,959 313,960 318,963 318,964 323,966 326,969 328,969 333,972 334,974 338,975 343,978 345,979 348,979 353,980 358,980 363,980 368,980 373,980 378,980 383,981 388,981 393,982 398,982 403,982 408,982 413,981 418,981 423,980 428,979 433,979 434,979 438,978 443,977 448,976 453,975 457,974 458,973 463,972 468,970 472,969 473,968 478,967 483,965 486,964 488,963 493,960 495,959 498,957 501,954 503,953 507,949 508,948 512,944 513,943 518,939 518,939 523,935 525,934 528,932 532,929 533,929 538,925 540,924 543,922 546,919 548,917 551,914 553,910 553,909 555,904 557,899 558,896 558,894 559,889 560,884 561,879 561,874 562,869 562,864 563,862 563,859 564,854 565,849 565,844 566,839 567,834 567,829 568,826 568,824 568,819 569,814 571,809 573,805 573,804 576,799 578,797 581,794 583,792 587,789 588,788 593,785 596,784 598,783 603,780 607,779 608,778 613,775 616,774 618,773 623,770 625,769 628,767 633,765 637,764 638,763 643,762 648,761 653,759 653,759 658,755 659,754 663,749 663,749 666,744 668,741 669,739 672,734 673,733 676,729 678,726 680,724 683,720 684,719 688,715 689,714 693,710 694,709 698,706 701,704 703,702 708,699 709,699 713,696 718,694 719,694 723,692 728,689 729,689 733,686 737,684 738,683 742,679 743,675 743,674 743,672 742,669 740,664 738,660 736,659 733,654 732,654 728,649 727,649 723,645 721,644 718,641 715,639 713,637 708,634 708,633 703,630 701,629 698,626 694,624 693,622 688,619 688,618 683,614 683,613 679,609 678,606 676,604 674,599 673,594 672,594 672,589 672,584 673,579 673,579 674,574 675,569 677,564 678,561 678,559 680,554 681,549 682,544 682,539 682,534 681,529 681,524 679,519 678,514 677,514 675,509 673,504 672,504 668,499 668,498 663,494 662,494 658,491 653,489 651,489 648,488 643,487 638,487 633,487 628,488 627,489 623,491 618,494 618,494 614,499 613,501 611,504 609,509 608,511 606,514 605,519 603,524 603,525 602,529 601,534 600,539 600,544 600,549 600,554 601,559 601,564 601,569 601,574 601,579 599,584 598,586 595,589 593,590 588,590 584,589 583,588 578,586 574,584 573,583 568,579 568,579 563,574 563,573 558,569 558,568 554,564 553,562 549,559 548,558 543,554 543,553 538,549 537,549 533,545 531,544 528,541 525,539 523,537 519,534 518,532 514,529 513,527 509,524 508,522 504,519 503,517 500,514 498,511 496,509 493,505 492,504 488,499 488,497 485,494 483,489 483,488 481,484 479,479 478,474 478,473 476,469 474,464 473,460 472,459 469,454 468,451 466,449 463,445 461,444 458,440 456,439 453,436 449,434 448,433 443,430 441,429 438,426 434,424 433,423 428,419 428,419 423,414 422,414 418,409 417,409 413,404 413,403 409,399 408,396 406,394 403,389 402,389 399,384 398,381 396,379 394,374 393,370 392,369 391,364 391,359 391,354 392,349 393,346 393,344 395,339 398,334 398,334 401,329 403,325 403,324 406,319 408,316 409,314 411,309 413,304 413,304 413,299 413,295 412,294 410,289 408,285 407,284 403,279 403,279 398,274 398,273 394,269 393,266 390,264 388,260 387,259 384,254 383,252 381,249 378,244 378,243 376,239 374,234 373,230 372,229 371,224 369,219 368,214 368,212 367,209 365,204 364,199 363,195 362,194 361,189 360,184 358,179 358,175 357,174 356,169ZM598,248 596,249 593,250 588,253 587,254 583,258 582,259 580,264 578,269 578,270 577,274 577,279 578,282 578,284 579,289 581,294 583,297 584,299 587,304 588,304 592,309 593,310 597,314 598,314 603,317 605,319 608,320 613,322 618,322 623,322 628,320 631,319 633,318 638,314 638,314 642,309 643,308 645,304 647,299 648,296 648,294 649,289 648,284 648,280 647,279 646,274 644,269 643,267 640,264 638,260 636,259 633,255 630,254 628,252 623,249 620,249 618,248 613,247 608,247 603,247ZM903,598 901,599 898,599 893,601 888,603 887,604 883,607 880,609 878,611 875,614 873,617 872,619 870,624 869,629 870,634 873,637 874,639 878,640 883,642 888,643 889,644 893,644 898,645 903,646 908,647 913,648 918,648 920,649 923,649 928,649 933,649 933,649 938,647 943,645 946,644 948,642 951,639 953,637 955,634 958,630 958,629 961,624 962,619 961,614 958,609 958,608 953,604 953,603 948,600 946,599 943,597 938,596 933,596 928,596 923,597 918,597 913,598 908,598ZM1008,598 1007,599 1008,599 1009,599ZM1053,548 1052,549 1048,552 1044,554 1043,555 1038,558 1036,559 1033,561 1028,564 1028,564 1023,568 1022,569 1018,574 1018,575 1016,579 1014,584 1013,587 1012,589 1010,594 1013,598 1018,597 1023,596 1028,595 1033,594 1033,594 1038,591 1042,589 1043,588 1048,584 1048,584 1053,579 1054,579 1058,575 1059,574 1063,570 1064,569 1067,564 1068,563 1069,559 1069,554 1068,549 1068,548 1063,545 1058,546ZM1098,478 1097,479 1093,484 1093,484 1090,489 1089,494 1088,498 1088,499 1087,504 1088,509 1088,509 1090,514 1093,515 1098,516 1103,515 1106,514 1108,513 1113,509 1113,509 1118,505 1119,504 1123,499 1123,499 1125,494 1125,489 1124,484 1123,481 1120,479 1118,477 1113,475 1108,475 1103,475ZM588,948 586,949 583,950 578,954 578,954 574,959 573,962 572,964 570,969 568,974 568,974 566,979 564,984 563,986 561,989 560,994 560,999 562,1004 563,1004 567,1009 568,1009 573,1011 578,1013 581,1014 583,1014 588,1015 593,1017 596,1019 598,1019 603,1021 607,1024 608,1024 613,1025 618,1027 623,1028 624,1029 628,1030 633,1032 638,1034 638,1034 643,1035 648,1036 653,1037 658,1037 663,1038 668,1038 673,1037 678,1036 683,1034 683,1034 688,1030 689,1029 692,1024 692,1019 692,1014 690,1009 688,1004 688,1003 686,999 683,994 683,993 680,989 678,985 677,984 673,979 672,979 668,974 667,974 663,971 660,969 658,967 653,964 652,964 648,962 643,960 638,959 637,959 633,957 628,956 623,954 623,954 618,952 613,950 608,949 608,949 603,948 598,947 593,948Z" fill="#0abfe8" fill-rule="evenodd"/>
<path d="M392,164 393,164 398,164 403,164 408,164 413,164 418,164 423,164 428,164 433,164 438,164 443,164 448,164 453,164 458,164 463,164 468,164 473,164 478,164 483,164 488,164 493,164 498,164 503,164 508,164 513,164 518,164 523,164 528,164 533,164 538,164 543,164 548,164 553,164 554,164 553,166 551,169 548,172 546,174 543,177 542,179 538,183 537,184 533,188 532,189 528,192 526,194 523,197 521,199 518,201 515,204 513,205 509,209 508,209 503,213 502,214 498,216 494,219 493,219 488,223 486,224 483,226 480,229 478,230 473,234 473,234 468,237 465,239 463,240 458,242 453,243 452,244 448,244 443,245 438,245 433,244 430,244 428,243 423,242 418,239 416,239 413,237 408,234 408,233 404,229 403,227 401,224 399,219 398,214 397,214 396,209 395,204 394,199 393,194 393,189 393,187 392,184 392,179 392,174 392,169ZM705,164 708,164 713,164 718,164 723,164 728,164 733,164 738,164 743,164 748,164 753,164 758,164 763,164 768,164 773,164 778,164 783,164 788,164 793,164 798,164 803,164 808,164 813,164 818,164 823,164 828,164 833,164 838,164 843,164 848,164 853,164 858,164 863,164 868,164 873,164 878,164 883,164 888,164 893,164 898,164 903,164 908,164 913,164 918,164 923,164 928,164 933,164 938,164 943,164 948,164 953,164 958,164 963,164 968,164 973,164 978,164 983,164 988,164 993,164 998,164 1003,164 1008,164 1013,164 1018,164 1023,164 1028,164 1033,164 1038,164 1043,164 1048,164 1053,164 1058,164 1063,164 1068,164 1073,164 1078,164 1083,164 1088,164 1093,164 1098,164 1103,164 1108,164 1113,164 1118,164 1123,164 1128,164 1133,164 1138,164 1143,164 1148,164 1153,164 1158,164 1163,164 1168,164 1173,164 1178,164 1183,164 1188,164 1193,164 1198,164 1203,164 1208,164 1213,164 1218,164 1223,164 1228,164 1233,164 1238,164 1243,164 1248,164 1253,164 1258,164 1263,164 1268,164 1273,164 1278,164 1283,164 1288,164 1293,164 1298,164 1303,164 1308,164 1313,164 1318,164 1323,164 1328,164 1333,164 1338,164 1343,164 1348,164 1353,164 1358,164 1363,164 1368,164 1373,164 1378,164 1383,164 1388,164 1393,164 1398,164 1403,164 1408,164 1413,164 1418,164 1423,164 1423,169 1423,174 1423,177 1422,179 1419,184 1418,186 1417,189 1415,194 1413,198 1412,199 1410,204 1408,209 1408,210 1406,214 1404,219 1403,221 1402,224 1399,229 1398,232 1397,234 1395,239 1393,243 1392,244 1390,249 1388,252 1387,254 1384,259 1383,261 1381,264 1379,269 1378,270 1376,274 1373,279 1373,279 1370,284 1368,287 1367,289 1363,294 1363,295 1360,299 1358,302 1357,304 1353,309 1353,309 1350,314 1348,316 1346,319 1343,323 1342,324 1338,329 1338,330 1334,334 1333,336 1330,339 1328,342 1326,344 1323,348 1322,349 1318,353 1317,354 1313,359 1313,359 1308,364 1308,364 1303,368 1302,369 1298,373 1297,374 1293,377 1291,379 1288,381 1285,384 1283,385 1278,389 1278,389 1273,392 1270,394 1268,395 1263,397 1260,399 1258,400 1253,402 1248,403 1247,404 1243,405 1238,406 1233,407 1228,408 1225,409 1223,409 1218,410 1213,410 1208,411 1203,411 1198,411 1193,412 1188,412 1183,413 1178,413 1175,414 1173,414 1168,414 1163,415 1158,416 1153,417 1148,418 1144,419 1143,419 1138,420 1133,421 1128,423 1125,424 1123,424 1118,426 1113,428 1111,429 1108,430 1103,432 1100,434 1098,435 1093,437 1091,439 1088,440 1083,443 1082,444 1078,447 1075,449 1073,450 1068,454 1068,454 1063,457 1061,459 1058,461 1055,464 1053,466 1049,469 1048,470 1044,474 1043,475 1040,479 1038,484 1038,484 1036,489 1035,494 1033,499 1033,499 1030,504 1028,506 1025,509 1023,511 1018,514 1018,514 1013,516 1008,518 1007,519 1003,521 998,524 998,524 993,527 991,529 988,531 985,534 983,536 979,539 978,540 973,543 972,544 968,546 963,547 958,547 953,547 948,546 943,546 938,546 933,546 928,547 923,547 918,548 913,548 908,549 907,549 903,549 898,550 893,550 888,551 883,551 878,552 873,553 871,554 868,555 863,557 858,559 858,559 853,562 850,564 848,565 843,569 843,569 838,573 837,574 833,577 830,579 828,580 823,583 820,584 818,585 813,586 808,586 803,586 798,586 793,585 788,584 784,584 783,583 778,582 773,581 768,580 763,579 763,578 758,577 753,575 750,574 748,573 743,570 739,569 738,568 733,565 731,564 728,560 726,559 723,554 723,554 720,549 719,544 718,539 718,539 716,534 716,529 715,524 716,519 717,514 718,513 721,509 723,506 726,504 728,503 733,500 736,499 738,498 743,495 745,494 748,492 752,489 753,488 758,484 759,484 763,480 765,479 768,476 770,474 773,471 775,469 778,466 779,464 783,459 783,459 786,454 788,451 789,449 792,444 793,442 795,439 798,434 798,434 800,429 803,425 803,424 806,419 808,415 808,414 810,409 811,404 812,399 812,394 811,389 810,384 808,379 808,378 805,374 803,370 801,369 798,364 797,364 793,359 793,357 790,354 788,351 786,349 783,344 782,344 779,339 778,336 776,334 773,329 773,328 770,324 768,319 768,319 765,314 763,309 763,307 761,304 759,299 758,294 757,294 756,289 754,284 753,279 753,279 751,274 750,269 748,264 748,262 747,259 745,254 744,249 743,245 742,244 741,239 739,234 738,230 737,229 735,224 733,219 733,216 732,214 729,209 728,204 727,204 725,199 723,194 722,194 720,189 718,185 717,184 714,179 713,177 711,174 708,169 708,169ZM520,314 523,313 528,311 533,310 538,310 543,311 545,314 548,316 550,319 553,322 553,324 556,329 558,331 559,334 560,339 562,344 563,346 563,349 564,354 565,359 565,364 565,369 565,374 565,379 565,384 566,389 567,394 568,396 569,399 572,404 573,404 578,407 580,409 583,410 588,411 593,412 598,412 603,412 608,412 613,412 618,413 623,414 623,414 628,415 633,417 635,419 638,421 640,424 642,429 641,434 638,439 638,439 635,444 633,446 631,449 628,452 626,454 623,457 621,459 618,461 615,464 613,465 608,469 607,469 603,472 599,474 598,475 593,478 591,479 588,481 583,484 583,484 578,487 575,489 573,490 568,493 565,494 563,495 558,496 553,497 548,498 543,497 538,496 534,494 533,493 528,490 526,489 523,485 521,484 518,480 516,479 513,474 512,474 509,469 508,467 506,464 503,459 503,458 500,454 498,449 497,449 494,444 493,441 491,439 488,434 488,433 484,429 483,427 479,424 478,422 474,419 473,418 468,414 467,414 463,411 459,409 458,408 453,405 450,404 448,402 443,399 443,398 438,394 438,394 433,389 433,388 430,384 428,380 427,379 424,374 423,370 422,369 421,364 420,359 421,354 423,349 423,349 428,344 428,344 433,341 438,339 439,339 443,338 448,337 453,336 458,335 463,335 468,334 469,334 473,333 478,332 483,331 488,329 489,329 493,327 498,325 500,324 503,322 508,320 509,319 513,317 518,315ZM691,419 693,418 693,419 698,420 703,423 703,424 705,429 705,434 703,438 701,439 698,440 693,440 689,439 688,438 683,434 682,434 680,429 680,424 683,422 688,419ZM1240,509 1243,508 1248,508 1253,508 1258,509 1258,509 1263,510 1268,511 1273,514 1273,514 1278,516 1281,519 1283,520 1287,524 1288,524 1292,529 1293,530 1296,534 1298,536 1299,539 1303,544 1303,544 1305,549 1308,554 1308,554 1310,559 1312,564 1313,567 1313,569 1315,574 1316,579 1317,584 1318,588 1318,589 1318,594 1319,599 1319,604 1320,609 1320,614 1320,619 1320,624 1320,629 1320,634 1320,639 1319,644 1319,649 1319,654 1319,659 1318,664 1318,669 1318,674 1318,675 1317,679 1316,684 1314,689 1313,691 1312,694 1309,699 1308,702 1307,704 1304,709 1303,712 1302,714 1299,719 1298,721 1296,724 1293,729 1293,729 1290,734 1288,737 1287,739 1284,744 1283,747 1282,749 1280,754 1278,757 1277,759 1274,764 1273,765 1270,769 1268,772 1266,774 1263,777 1261,779 1258,782 1257,784 1253,788 1252,789 1248,793 1247,794 1243,799 1243,799 1240,804 1238,806 1236,809 1233,814 1233,815 1231,819 1229,824 1228,829 1228,831 1227,834 1227,839 1227,844 1228,847 1228,849 1229,854 1230,859 1232,864 1233,865 1234,869 1237,874 1238,875 1240,879 1243,883 1243,884 1247,889 1248,889 1251,894 1253,895 1256,899 1258,901 1260,904 1263,906 1265,909 1268,911 1271,914 1273,915 1276,919 1278,920 1282,924 1283,924 1288,928 1289,929 1293,932 1295,934 1298,936 1302,939 1303,939 1308,943 1309,944 1313,946 1316,949 1318,950 1323,953 1323,954 1328,956 1331,959 1333,960 1338,963 1339,964 1343,966 1347,969 1348,969 1353,972 1356,974 1358,975 1363,977 1365,979 1368,980 1373,983 1374,984 1378,986 1383,988 1384,989 1388,991 1393,993 1394,994 1398,996 1403,998 1404,999 1408,1000 1413,1002 1416,1004 1418,1004 1423,1006 1423,1009 1423,1014 1423,1019 1423,1024 1423,1029 1423,1034 1423,1039 1423,1044 1423,1049 1423,1054 1423,1059 1423,1064 1423,1069 1423,1074 1423,1079 1423,1084 1423,1089 1423,1094 1423,1099 1423,1104 1423,1109 1423,1114 1423,1119 1423,1124 1423,1129 1423,1134 1423,1139 1423,1144 1423,1149 1423,1154 1418,1154 1413,1154 1408,1154 1403,1154 1398,1154 1393,1154 1388,1154 1383,1154 1378,1154 1373,1154 1368,1154 1363,1154 1358,1154 1353,1154 1348,1154 1343,1154 1338,1154 1333,1154 1328,1154 1323,1154 1318,1154 1313,1154 1308,1154 1303,1154 1298,1154 1293,1154 1288,1154 1283,1154 1278,1154 1273,1154 1268,1154 1263,1154 1258,1154 1253,1154 1248,1154 1243,1154 1238,1154 1233,1154 1228,1154 1223,1154 1218,1154 1213,1154 1208,1154 1203,1154 1198,1154 1193,1154 1188,1154 1183,1154 1178,1154 1173,1154 1168,1154 1163,1154 1158,1154 1153,1154 1148,1154 1143,1154 1138,1154 1133,1154 1128,1154 1123,1154 1118,1154 1113,1154 1108,1154 1103,1154 1098,1154 1093,1154 1088,1154 1083,1154 1078,1154 1073,1154 1068,1154 1063,1154 1058,1154 1053,1154 1048,1154 1043,1154 1038,1154 1033,1154 1028,1154 1023,1154 1018,1154 1013,1154 1008,1154 1003,1154 998,1154 993,1154 988,1154 983,1154 978,1154 973,1154 968,1154 963,1154 958,1154 953,1154 948,1154 943,1154 938,1154 933,1154 928,1154 923,1154 918,1154 913,1154 908,1154 903,1154 898,1154 893,1154 888,1154 883,1154 878,1154 873,1154 868,1154 863,1154 858,1154 853,1154 848,1154 843,1154 838,1154 833,1154 828,1154 823,1154 818,1154 813,1154 808,1154 803,1154 798,1154 793,1154 792,1154 793,1151 793,1149 794,1144 796,1139 797,1134 798,1133 799,1129 801,1124 803,1120 804,1119 807,1114 808,1113 812,1109 813,1108 817,1104 818,1103 821,1099 823,1097 825,1094 827,1089 828,1087 829,1084 829,1079 829,1074 828,1069 828,1068 824,1064 823,1062 818,1059 818,1058 813,1055 811,1054 808,1051 803,1049 801,1049 798,1047 793,1047 788,1047 783,1048 780,1049 778,1050 773,1054 773,1054 769,1059 768,1060 763,1064 762,1064 758,1064 755,1064 753,1063 748,1060 746,1059 743,1056 738,1054 738,1053 733,1049 732,1049 729,1044 728,1041 727,1039 726,1034 725,1029 724,1024 723,1020 722,1019 720,1014 718,1010 717,1009 713,1004 713,1003 709,999 708,997 704,994 703,992 700,989 698,986 696,984 693,980 691,979 688,975 687,974 683,970 681,969 678,967 673,964 673,964 668,961 664,959 663,958 658,955 655,954 653,953 648,951 643,949 640,949 638,948 633,946 628,944 628,943 623,941 619,939 618,938 613,935 610,934 608,932 603,929 603,928 598,924 597,924 593,919 593,919 589,914 588,909 588,908 587,904 586,899 586,894 586,889 586,884 585,879 585,874 584,869 584,864 583,859 583,854 583,854 582,849 582,844 582,839 582,834 582,829 582,824 583,821 583,819 584,814 587,809 588,807 590,804 593,801 595,799 598,797 602,794 603,793 608,791 611,789 613,787 618,784 618,784 623,780 625,779 628,777 633,774 635,774 638,772 643,771 648,770 652,769 653,768 658,766 663,764 663,764 668,760 670,759 673,756 675,754 678,751 681,749 683,747 687,744 688,743 693,740 695,739 698,738 703,736 708,735 713,735 718,736 723,737 725,739 728,740 733,742 735,744 738,745 743,748 743,749 748,751 752,754 753,754 758,756 763,756 768,755 771,754 773,753 778,750 779,749 783,746 787,744 788,743 793,740 796,739 798,738 803,736 808,735 812,734 813,733 818,732 823,729 823,729 828,725 829,724 833,720 834,719 838,716 840,714 843,712 847,709 848,708 853,705 854,704 858,702 863,699 863,699 868,697 873,695 878,694 878,694 883,693 888,692 893,692 898,692 903,692 908,692 913,693 913,694 918,695 923,696 928,698 930,699 933,700 938,702 941,704 943,704 948,705 953,706 958,705 963,704 963,704 968,702 973,699 973,699 978,695 979,694 983,690 984,689 988,685 989,684 993,679 993,679 997,674 998,673 1001,669 1003,667 1005,664 1008,661 1010,659 1013,656 1015,654 1018,651 1020,649 1023,647 1027,644 1028,643 1033,641 1037,639 1038,638 1043,636 1047,634 1048,633 1053,631 1056,629 1058,628 1063,624 1063,624 1068,620 1069,619 1073,616 1075,614 1078,611 1080,609 1083,606 1085,604 1088,601 1090,599 1093,596 1095,594 1098,591 1100,589 1103,586 1105,584 1108,581 1111,579 1113,577 1117,574 1118,573 1123,569 1123,569 1128,565 1130,564 1133,562 1138,559 1138,559 1143,555 1146,554 1148,552 1153,549 1154,549 1158,546 1162,544 1163,543 1168,541 1171,539 1173,538 1178,535 1180,534 1183,532 1188,529 1189,529 1193,527 1198,524 1199,524 1203,522 1208,519 1209,519 1213,517 1218,515 1221,514 1223,513 1228,511 1233,510 1238,509ZM199,524 203,521 208,522 209,524 208,529 208,529 203,529 202,529ZM148,864 148,860 152,864 153,864 157,869 158,869 161,874 163,875 166,879 168,880 171,884 173,885 176,889 178,890 181,894 183,895 187,899 188,899 193,904 193,904 198,908 199,909 203,912 205,914 208,916 212,919 213,919 218,923 219,924 223,926 226,929 228,929 233,932 234,934 238,935 243,938 243,939 248,941 252,944 253,944 258,946 262,949 263,949 268,951 273,954 273,954 278,956 283,958 283,959 288,961 293,963 294,964 298,965 303,967 305,969 308,970 313,972 315,974 318,975 323,977 326,979 328,980 333,982 336,984 338,984 343,986 348,987 353,988 356,989 358,989 363,989 368,990 373,990 378,991 383,992 388,992 393,993 398,993 403,993 408,994 408,994 413,994 418,994 423,994 425,994 428,993 433,993 438,992 443,991 448,990 453,989 455,989 458,988 463,987 468,986 473,985 478,985 483,984 485,984 488,983 493,983 498,982 503,982 508,982 513,982 518,982 521,984 523,984 527,989 528,990 529,994 532,999 533,999 538,1004 538,1004 543,1006 548,1008 549,1009 553,1010 558,1013 558,1014 563,1015 568,1017 573,1019 573,1019 578,1019 583,1021 588,1022 591,1024 593,1024 598,1027 600,1029 603,1030 608,1031 613,1033 615,1034 618,1034 623,1036 628,1038 629,1039 633,1041 638,1043 638,1044 643,1046 648,1048 648,1049 653,1051 657,1054 658,1054 661,1059 661,1064 659,1069 658,1070 656,1074 653,1079 653,1079 651,1084 648,1089 648,1091 646,1094 644,1099 643,1101 642,1104 639,1109 638,1113 637,1114 636,1119 636,1124 637,1129 638,1130 639,1134 641,1139 643,1142 643,1144 646,1149 648,1152 648,1154 648,1154 643,1154 638,1154 633,1154 628,1154 623,1154 618,1154 613,1154 608,1154 603,1154 598,1154 593,1154 588,1154 583,1154 578,1154 573,1154 568,1154 563,1154 558,1154 553,1154 548,1154 543,1154 538,1154 533,1154 528,1154 523,1154 518,1154 513,1154 508,1154 503,1154 498,1154 493,1154 488,1154 483,1154 478,1154 473,1154 468,1154 463,1154 458,1154 453,1154 448,1154 443,1154 438,1154 433,1154 428,1154 423,1154 418,1154 413,1154 408,1154 403,1154 398,1154 393,1154 388,1154 383,1154 378,1154 373,1154 368,1154 363,1154 358,1154 353,1154 348,1154 343,1154 338,1154 333,1154 328,1154 323,1154 318,1154 313,1154 308,1154 303,1154 298,1154 293,1154 288,1154 283,1154 278,1154 273,1154 268,1154 263,1154 258,1154 253,1154 248,1154 243,1154 238,1154 233,1154 228,1154 223,1154 218,1154 213,1154 208,1154 203,1154 198,1154 193,1154 188,1154 183,1154 178,1154 173,1154 168,1154 163,1154 158,1154 153,1154 148,1154 148,1149 148,1144 148,1139 148,1134 148,1129 148,1124 148,1119 148,1114 148,1109 148,1104 148,1099 148,1094 148,1089 148,1084 148,1079 148,1074 148,1069 148,1064 148,1059 148,1054 148,1049 148,1044 148,1039 148,1034 148,1029 148,1024 148,1019 148,1014 148,1009 148,1004 148,999 148,994 148,989 148,984 148,979 148,974 148,969 148,964 148,959 148,954 148,949 148,944 148,939 148,934 148,929 148,924 148,919 148,914 148,909 148,904 148,899 148,894 148,889 148,884 148,879 148,874 148,869ZM536,969 538,968 543,968 543,969 544,974 543,975 538,976 535,974Z" fill="#00b4eb" fill-rule="evenodd"/>
<path d="M443,164 443,164 448,164 453,164 458,164 463,164 464,164 467,169 468,170 469,174 470,179 471,184 470,189 468,194 468,194 464,199 463,200 458,204 458,204 453,206 448,207 443,206 438,204 437,204 433,200 432,199 430,194 430,189 430,184 432,179 433,178 435,174 438,170 439,169ZM851,164 853,164 858,164 863,164 868,164 873,164 878,164 883,164 888,164 893,164 898,164 903,164 908,164 913,164 918,164 923,164 928,164 933,164 938,164 943,164 948,164 953,164 958,164 963,164 968,164 973,164 978,164 983,164 988,164 993,164 998,164 1003,164 1008,164 1013,164 1018,164 1023,164 1028,164 1033,164 1038,164 1043,164 1048,164 1053,164 1058,164 1063,164 1068,164 1073,164 1078,164 1083,164 1088,164 1093,164 1098,164 1103,164 1108,164 1113,164 1118,164 1123,164 1128,164 1133,164 1138,164 1143,164 1148,164 1153,164 1158,164 1163,164 1164,164 1165,169 1166,174 1167,179 1168,182 1168,184 1169,189 1169,194 1170,199 1170,204 1171,209 1171,214 1171,219 1171,224 1171,229 1170,234 1170,239 1169,244 1169,249 1168,254 1168,255 1167,259 1166,264 1165,269 1164,274 1163,277 1162,279 1161,284 1159,289 1158,292 1157,294 1155,299 1153,304 1153,305 1151,309 1149,314 1148,316 1146,319 1144,324 1143,325 1141,329 1138,334 1138,334 1135,339 1133,342 1132,344 1128,349 1128,349 1125,354 1123,357 1121,359 1118,363 1117,364 1114,369 1113,370 1110,374 1108,376 1106,379 1103,382 1101,384 1098,388 1097,389 1093,394 1093,394 1088,399 1088,400 1084,404 1083,405 1080,409 1078,411 1075,414 1073,417 1071,419 1068,422 1066,424 1063,428 1062,429 1058,433 1057,434 1053,439 1053,439 1048,443 1047,444 1043,447 1039,449 1038,449 1033,451 1028,452 1023,452 1018,451 1013,449 1013,448 1008,445 1006,444 1003,441 1000,439 998,437 993,434 993,433 988,432 983,432 978,432 973,434 973,434 968,436 963,438 961,439 958,441 953,444 953,444 948,448 947,449 943,452 941,454 938,457 935,459 933,461 929,464 928,465 923,468 922,469 918,471 913,474 913,474 908,476 903,478 900,479 898,479 893,480 888,481 883,481 878,480 873,479 871,479 868,476 866,474 864,469 865,464 866,459 867,454 868,451 868,449 869,444 869,439 870,434 869,429 869,424 868,420 867,419 865,414 863,409 863,408 861,404 858,399 858,397 856,394 853,389 853,387 851,384 848,379 847,379 844,374 843,371 841,369 838,364 837,364 834,359 833,355 832,354 830,349 829,344 828,339 828,338 827,334 827,329 827,324 826,319 826,314 826,309 827,304 827,299 827,294 827,289 827,284 828,282 828,279 828,274 829,269 829,264 830,259 831,254 831,249 832,244 833,239 833,239 834,234 834,229 835,224 836,219 837,214 838,212 838,209 840,204 841,199 842,194 843,192 843,189 845,184 846,179 848,175 848,174 849,169ZM1162,589 1163,588 1168,587 1173,586 1178,585 1183,585 1188,585 1193,585 1198,585 1203,586 1208,587 1213,588 1213,589 1218,590 1223,593 1224,594 1228,596 1231,599 1233,600 1236,604 1238,605 1240,609 1243,612 1244,614 1246,619 1248,621 1248,624 1250,629 1251,634 1252,639 1252,644 1252,649 1252,654 1251,659 1250,664 1248,669 1248,671 1247,674 1245,679 1243,683 1242,684 1240,689 1238,692 1237,694 1234,699 1233,700 1231,704 1228,709 1228,710 1226,714 1223,719 1223,719 1219,724 1218,726 1216,729 1213,732 1211,734 1208,737 1206,739 1203,741 1200,744 1198,745 1193,749 1193,749 1188,753 1187,754 1183,757 1181,759 1178,762 1176,764 1173,767 1171,769 1168,772 1165,774 1163,776 1158,778 1153,778 1148,777 1143,775 1141,774 1138,771 1135,769 1133,767 1130,764 1128,762 1125,759 1123,756 1120,754 1118,751 1115,749 1113,747 1110,744 1108,742 1105,739 1103,736 1100,734 1098,731 1096,729 1093,724 1092,724 1089,719 1088,717 1085,714 1083,711 1080,709 1078,706 1075,704 1073,700 1071,699 1069,694 1068,689 1068,684 1069,679 1071,674 1073,670 1073,669 1076,664 1078,661 1079,659 1082,654 1083,652 1085,649 1088,645 1088,644 1092,639 1093,638 1096,634 1098,631 1100,629 1103,626 1105,624 1108,621 1110,619 1113,616 1115,614 1118,612 1122,609 1123,608 1128,605 1129,604 1133,601 1138,599 1138,599 1143,596 1148,594 1148,594 1153,592 1158,590ZM898,714 898,714 898,714 903,714 908,714 913,716 918,717 921,719 923,719 928,722 931,724 933,724 938,727 941,729 943,729 948,732 952,734 953,734 958,736 961,739 963,739 968,742 969,744 973,746 976,749 978,750 981,754 983,755 986,759 988,761 989,764 992,769 993,769 995,774 998,778 998,779 1000,784 1003,788 1003,789 1006,794 1008,798 1008,799 1010,804 1013,809 1013,809 1015,814 1018,818 1018,819 1021,824 1023,825 1026,829 1028,830 1033,832 1036,834 1038,834 1043,836 1048,837 1053,838 1054,839 1058,840 1063,841 1068,842 1073,843 1074,844 1078,844 1083,845 1088,846 1093,847 1098,847 1103,847 1108,847 1113,847 1118,846 1123,845 1128,844 1129,844 1133,842 1138,840 1142,839 1143,838 1148,835 1151,834 1153,833 1158,831 1163,833 1163,834 1166,839 1168,842 1168,844 1169,849 1170,854 1171,859 1173,863 1173,864 1174,869 1176,874 1178,877 1178,879 1180,884 1183,888 1183,889 1185,894 1188,898 1188,899 1191,904 1193,907 1194,909 1197,914 1198,915 1200,919 1203,923 1203,924 1206,929 1208,931 1209,934 1213,938 1213,939 1216,944 1218,945 1220,949 1223,952 1224,954 1227,959 1228,959 1231,964 1233,966 1235,969 1238,972 1239,974 1243,979 1243,979 1246,984 1248,985 1250,989 1253,991 1254,994 1258,998 1258,999 1262,1004 1263,1004 1267,1009 1268,1010 1271,1014 1273,1016 1275,1019 1278,1022 1279,1024 1283,1028 1283,1029 1288,1034 1288,1034 1292,1039 1293,1039 1296,1044 1298,1045 1301,1049 1303,1051 1305,1054 1308,1056 1310,1059 1313,1062 1314,1064 1318,1067 1319,1069 1323,1073 1324,1074 1328,1078 1328,1079 1333,1083 1333,1084 1338,1088 1338,1089 1343,1093 1343,1094 1348,1098 1348,1099 1353,1103 1353,1104 1358,1108 1358,1109 1363,1113 1363,1114 1368,1118 1369,1119 1373,1122 1374,1124 1378,1127 1380,1129 1383,1131 1385,1134 1388,1136 1391,1139 1393,1140 1397,1144 1398,1145 1402,1149 1403,1150 1406,1154 1403,1154 1398,1154 1393,1154 1388,1154 1383,1154 1378,1154 1373,1154 1368,1154 1363,1154 1358,1154 1353,1154 1348,1154 1343,1154 1338,1154 1333,1154 1328,1154 1323,1154 1318,1154 1313,1154 1308,1154 1303,1154 1298,1154 1293,1154 1288,1154 1283,1154 1278,1154 1273,1154 1268,1154 1263,1154 1258,1154 1253,1154 1248,1154 1243,1154 1238,1154 1233,1154 1228,1154 1223,1154 1218,1154 1213,1154 1208,1154 1203,1154 1198,1154 1193,1154 1188,1154 1183,1154 1178,1154 1173,1154 1168,1154 1163,1154 1158,1154 1153,1154 1148,1154 1143,1154 1138,1154 1133,1154 1128,1154 1123,1154 1118,1154 1113,1154 1108,1154 1103,1154 1098,1154 1093,1154 1088,1154 1083,1154 1078,1154 1073,1154 1068,1154 1063,1154 1058,1154 1053,1154 1048,1154 1043,1154 1038,1154 1033,1154 1028,1154 1023,1154 1018,1154 1013,1154 1008,1154 1003,1154 998,1154 993,1154 988,1154 983,1154 978,1154 973,1154 968,1154 963,1154 958,1154 953,1154 948,1154 943,1154 938,1154 933,1154 928,1154 923,1154 918,1154 913,1154 908,1154 903,1154 898,1154 893,1154 888,1154 883,1154 878,1154 873,1154 868,1154 863,1154 858,1154 853,1154 848,1154 843,1154 838,1154 833,1154 828,1154 823,1154 820,1154 820,1149 821,1144 822,1139 823,1137 824,1134 827,1129 828,1128 831,1124 833,1121 834,1119 837,1114 838,1113 839,1109 841,1104 842,1099 843,1096 843,1094 843,1089 843,1084 843,1080 842,1079 841,1074 839,1069 838,1066 836,1064 833,1059 832,1059 828,1055 826,1054 823,1051 820,1049 818,1047 814,1044 813,1043 808,1039 806,1039 803,1036 798,1034 797,1034 793,1032 788,1030 783,1029 783,1028 778,1027 773,1024 771,1024 768,1022 763,1020 761,1019 758,1017 753,1014 752,1014 748,1010 746,1009 743,1005 741,1004 738,1000 736,999 733,996 730,994 728,991 724,989 723,988 718,984 716,984 713,981 709,979 708,978 703,974 703,974 698,970 696,969 693,966 689,964 688,963 683,960 680,959 678,957 673,955 670,954 668,953 663,950 660,949 658,948 653,945 648,944 648,943 643,941 638,939 637,939 633,936 629,934 628,933 623,929 623,929 618,924 618,923 614,919 613,917 611,914 608,909 608,906 607,904 606,899 605,894 605,889 605,884 604,879 603,874 603,871 602,869 600,864 598,859 598,857 597,854 595,849 594,844 594,839 593,834 593,829 593,824 595,819 597,814 598,812 600,809 603,806 605,804 608,802 612,799 613,798 618,794 618,794 623,790 625,789 628,787 632,784 633,783 638,781 642,779 643,779 648,777 653,776 658,774 659,774 663,772 668,770 671,769 673,767 678,764 679,764 683,761 687,759 688,758 693,756 698,754 698,754 703,752 708,752 713,753 716,754 718,754 723,757 726,759 728,759 733,763 734,764 738,766 742,769 743,769 748,772 752,774 753,774 758,776 763,777 768,778 773,777 778,776 783,774 783,774 788,771 791,769 793,767 797,764 798,763 802,759 803,758 808,754 809,754 813,752 818,750 820,749 823,748 828,746 831,744 833,743 838,740 839,739 843,737 848,734 849,734 853,732 858,729 859,729 863,727 867,724 868,723 873,720 876,719 878,718 883,716 888,715 893,714ZM148,914 148,910 153,912 156,914 158,915 163,918 164,919 168,921 172,924 173,924 178,927 181,929 183,930 188,932 190,934 193,935 198,938 199,939 203,940 208,943 210,944 213,945 218,947 220,949 223,950 228,952 232,954 233,954 238,956 243,958 245,959 248,960 253,961 258,963 258,964 263,965 268,967 273,968 273,969 278,970 283,972 288,973 288,974 293,975 298,977 303,979 303,979 308,980 313,982 317,984 318,984 323,986 328,988 330,989 333,989 338,991 343,993 346,994 348,994 353,995 358,996 363,997 368,997 373,998 374,999 378,999 383,1000 388,1001 393,1001 398,1002 403,1002 408,1003 413,1003 416,1004 418,1004 423,1004 428,1004 428,1004 433,1003 438,1003 443,1002 448,1001 453,1001 458,1000 463,1000 468,999 473,999 474,999 478,998 483,998 488,997 493,997 498,997 503,998 507,999 508,999 513,1001 518,1004 518,1004 523,1007 525,1009 528,1010 533,1012 538,1014 538,1014 543,1015 548,1016 553,1018 554,1019 558,1020 563,1021 568,1022 573,1023 574,1024 578,1024 583,1026 588,1028 590,1029 593,1030 598,1033 599,1034 603,1035 608,1037 613,1039 613,1039 618,1040 623,1042 625,1044 628,1045 633,1048 633,1049 638,1052 640,1054 643,1056 645,1059 647,1064 647,1069 646,1074 644,1079 643,1082 642,1084 639,1089 638,1092 637,1094 634,1099 633,1100 630,1104 628,1108 627,1109 625,1114 623,1119 623,1122 622,1124 622,1129 622,1134 623,1134 623,1139 625,1144 626,1149 628,1153 628,1154 628,1154 623,1154 618,1154 613,1154 608,1154 603,1154 598,1154 593,1154 588,1154 583,1154 578,1154 573,1154 568,1154 563,1154 558,1154 553,1154 548,1154 543,1154 538,1154 533,1154 528,1154 523,1154 518,1154 513,1154 508,1154 503,1154 498,1154 493,1154 488,1154 483,1154 478,1154 473,1154 468,1154 463,1154 458,1154 453,1154 448,1154 443,1154 438,1154 433,1154 428,1154 423,1154 418,1154 413,1154 408,1154 403,1154 398,1154 393,1154 388,1154 383,1154 378,1154 373,1154 368,1154 363,1154 358,1154 353,1154 348,1154 343,1154 338,1154 333,1154 328,1154 323,1154 318,1154 313,1154 308,1154 303,1154 298,1154 293,1154 288,1154 283,1154 278,1154 273,1154 268,1154 263,1154 258,1154 253,1154 248,1154 243,1154 238,1154 233,1154 228,1154 223,1154 218,1154 213,1154 208,1154 203,1154 198,1154 193,1154 188,1154 183,1154 178,1154 173,1154 168,1154 163,1154 158,1154 153,1154 148,1154 148,1149 148,1144 148,1139 148,1134 148,1129 148,1124 148,1119 148,1114 148,1109 148,1104 148,1099 148,1094 148,1089 148,1084 148,1079 148,1074 148,1069 148,1064 148,1059 148,1054 148,1049 148,1044 148,1039 148,1034 148,1029 148,1024 148,1019 148,1014 148,1009 148,1004 148,999 148,994 148,989 148,984 148,979 148,974 148,969 148,964 148,959 148,954 148,949 148,944 148,939 148,934 148,929 148,924 148,919Z" fill="#0ba7ee" fill-rule="evenodd"/>
<path d="M968,249 973,248 978,247 983,246 988,246 993,247 998,247 1003,248 1004,249 1008,250 1013,252 1017,254 1018,254 1023,257 1025,259 1028,261 1031,264 1033,265 1036,269 1038,270 1041,274 1043,276 1044,279 1047,284 1048,284 1050,289 1052,294 1053,294 1054,299 1056,304 1057,309 1058,310 1058,314 1059,319 1060,324 1060,329 1060,334 1060,339 1060,344 1060,349 1059,354 1059,359 1058,364 1058,364 1057,369 1055,374 1054,379 1053,383 1052,384 1051,389 1049,394 1048,396 1047,399 1044,404 1043,407 1042,409 1039,414 1038,415 1035,419 1033,421 1030,424 1028,425 1023,427 1018,428 1013,427 1008,426 1003,425 1000,424 998,423 993,421 988,420 983,419 978,419 973,419 968,419 967,419 963,418 958,417 953,415 951,414 948,411 944,409 943,406 940,404 938,400 937,399 933,394 933,394 928,389 928,388 924,384 923,382 920,379 918,376 916,374 913,369 913,367 911,364 908,359 908,357 906,354 905,349 903,344 903,339 903,338 902,334 902,329 903,325 903,324 904,319 905,314 906,309 908,305 908,304 910,299 913,294 913,294 916,289 918,286 919,284 923,279 923,279 928,274 928,274 933,269 933,269 938,264 939,264 943,261 946,259 948,257 953,255 955,254 958,252 963,250 968,249ZM1156,624 1158,623 1163,622 1168,622 1173,622 1178,622 1183,623 1185,624 1188,624 1193,627 1196,629 1198,629 1203,633 1203,634 1208,639 1208,639 1211,644 1213,647 1213,649 1215,654 1216,659 1216,664 1216,669 1216,674 1214,679 1213,682 1212,684 1209,689 1208,691 1206,694 1203,697 1201,699 1198,702 1194,704 1193,705 1188,707 1184,709 1183,709 1178,710 1173,711 1168,712 1163,713 1158,713 1153,713 1148,713 1143,712 1138,711 1133,709 1133,708 1128,705 1126,704 1123,701 1120,699 1118,695 1117,694 1114,689 1113,686 1112,684 1110,679 1110,674 1110,669 1110,664 1112,659 1113,657 1114,654 1117,649 1118,648 1121,644 1123,642 1126,639 1128,638 1133,634 1133,634 1138,631 1142,629 1143,628 1148,626 1153,624ZM879,734 883,732 888,730 893,729 898,729 903,729 908,730 913,731 918,733 918,734 923,736 927,739 928,739 933,742 935,744 938,745 942,749 943,749 947,754 948,754 952,759 953,760 955,764 958,767 959,769 962,774 963,774 966,779 968,780 970,784 973,786 974,789 978,793 978,794 981,799 983,801 984,804 987,809 988,809 990,814 992,819 993,819 995,824 998,827 999,829 1003,833 1003,834 1008,839 1008,839 1013,843 1013,844 1018,847 1020,849 1023,851 1027,854 1028,854 1033,857 1036,859 1038,859 1043,862 1046,864 1048,865 1053,867 1056,869 1058,870 1063,872 1066,874 1068,875 1073,877 1076,879 1078,880 1083,882 1085,884 1088,885 1093,888 1094,889 1098,891 1102,894 1103,894 1108,897 1110,899 1113,901 1116,904 1118,905 1122,909 1123,909 1127,914 1128,914 1132,919 1133,919 1137,924 1138,925 1141,929 1143,931 1145,934 1148,937 1148,939 1152,944 1153,945 1155,949 1158,952 1158,954 1162,959 1163,960 1165,964 1168,969 1168,969 1170,974 1173,978 1173,979 1176,984 1178,987 1179,989 1181,994 1183,996 1184,999 1186,1004 1188,1006 1189,1009 1191,1014 1193,1016 1194,1019 1196,1024 1198,1027 1199,1029 1201,1034 1203,1037 1203,1039 1205,1044 1208,1048 1208,1049 1210,1054 1212,1059 1213,1060 1214,1064 1216,1069 1218,1071 1219,1074 1221,1079 1223,1083 1223,1084 1225,1089 1227,1094 1228,1095 1229,1099 1231,1104 1233,1107 1233,1109 1236,1114 1238,1118 1238,1119 1240,1124 1242,1129 1243,1130 1244,1134 1246,1139 1248,1142 1248,1144 1250,1149 1252,1154 1248,1154 1243,1154 1238,1154 1233,1154 1228,1154 1223,1154 1218,1154 1213,1154 1208,1154 1203,1154 1198,1154 1193,1154 1188,1154 1183,1154 1178,1154 1173,1154 1168,1154 1163,1154 1158,1154 1153,1154 1148,1154 1143,1154 1138,1154 1133,1154 1128,1154 1123,1154 1118,1154 1113,1154 1108,1154 1103,1154 1098,1154 1093,1154 1088,1154 1083,1154 1078,1154 1073,1154 1068,1154 1063,1154 1058,1154 1053,1154 1048,1154 1043,1154 1038,1154 1033,1154 1028,1154 1023,1154 1018,1154 1013,1154 1008,1154 1003,1154 998,1154 993,1154 988,1154 983,1154 978,1154 973,1154 968,1154 963,1154 958,1154 953,1154 948,1154 943,1154 938,1154 933,1154 928,1154 923,1154 918,1154 913,1154 908,1154 903,1154 898,1154 893,1154 888,1154 883,1154 878,1154 873,1154 868,1154 864,1154 864,1149 864,1144 863,1139 863,1134 863,1129 863,1124 863,1119 863,1114 863,1111 862,1109 862,1104 861,1099 860,1094 859,1089 858,1085 857,1084 855,1079 853,1074 853,1073 850,1069 848,1065 847,1064 843,1059 843,1058 838,1054 838,1053 833,1049 832,1049 828,1045 826,1044 823,1040 821,1039 818,1035 816,1034 813,1030 811,1029 808,1026 804,1024 803,1022 798,1019 796,1019 793,1017 788,1014 786,1014 783,1012 778,1010 775,1009 773,1007 768,1004 767,1004 763,1001 760,999 758,997 754,994 753,992 749,989 748,988 744,984 743,983 738,979 737,979 733,976 728,974 727,974 723,972 718,970 715,969 713,968 708,965 706,964 703,962 698,959 697,959 693,957 688,954 686,954 683,952 678,950 674,949 673,948 668,946 663,944 663,943 658,941 653,939 652,939 648,937 643,934 642,934 638,930 636,929 633,926 631,924 628,920 627,919 624,914 623,911 621,909 620,904 618,899 618,894 618,894 617,889 617,884 616,879 615,874 614,869 613,864 612,864 610,859 608,854 608,851 607,849 606,844 605,839 604,834 604,829 605,824 606,819 608,817 609,814 613,810 614,809 618,805 619,804 623,800 624,799 628,796 631,794 633,792 638,789 638,789 643,786 648,785 650,784 653,783 658,782 663,780 667,779 668,778 673,777 678,775 680,774 683,773 688,771 693,769 694,769 698,767 703,767 708,767 713,768 714,769 718,770 723,773 723,774 728,776 731,779 733,780 738,783 738,784 743,787 746,789 748,790 753,793 755,794 758,795 763,797 768,798 770,799 773,799 778,800 783,800 788,799 789,799 793,797 798,794 798,794 803,790 804,789 808,785 808,784 813,779 813,779 817,774 818,773 821,769 823,768 827,764 828,763 833,759 833,759 838,756 840,754 843,752 848,749 848,749 853,746 858,744 859,744 863,742 868,740 870,739 873,737 878,734ZM798,870 794,874 793,875 791,879 790,884 788,889 788,891 787,894 786,899 785,904 786,909 787,914 788,914 793,918 793,919 798,920 803,921 808,919 809,919 813,915 813,914 816,909 817,904 817,899 817,894 815,889 814,884 813,880 812,879 809,874 808,872 803,869ZM148,949 148,945 153,946 158,948 159,949 163,950 168,952 173,954 173,954 178,955 183,957 187,959 188,959 193,961 198,962 202,964 203,964 208,965 213,967 218,968 219,969 223,970 228,971 233,972 238,974 238,974 243,975 248,976 253,977 258,978 259,979 263,979 268,981 273,982 278,983 281,984 283,984 288,985 293,986 298,987 303,988 304,989 308,989 313,991 318,992 323,993 324,994 328,995 333,996 338,997 342,999 343,999 348,1000 353,1001 358,1002 363,1003 365,1004 368,1004 373,1005 378,1006 383,1007 388,1008 393,1009 393,1009 398,1009 403,1010 408,1011 413,1011 418,1011 423,1012 428,1011 433,1011 438,1011 443,1011 448,1010 453,1010 458,1010 463,1010 468,1009 473,1009 477,1009 478,1009 483,1008 488,1008 493,1007 498,1007 503,1008 506,1009 508,1009 513,1011 518,1013 519,1014 523,1015 528,1017 533,1019 533,1019 538,1019 543,1020 548,1021 553,1023 555,1024 558,1024 563,1025 568,1026 573,1027 578,1028 579,1029 583,1030 588,1032 591,1034 593,1035 598,1037 600,1039 603,1040 608,1042 613,1043 613,1044 618,1046 623,1048 623,1049 628,1052 630,1054 633,1056 635,1059 637,1064 638,1066 638,1069 638,1071 637,1074 636,1079 633,1084 633,1085 631,1089 628,1093 627,1094 624,1099 623,1100 620,1104 618,1107 616,1109 614,1114 613,1116 611,1119 610,1124 609,1129 609,1134 609,1139 610,1144 610,1149 611,1154 608,1154 603,1154 598,1154 593,1154 588,1154 583,1154 578,1154 573,1154 568,1154 563,1154 558,1154 553,1154 548,1154 543,1154 538,1154 533,1154 528,1154 523,1154 518,1154 513,1154 508,1154 503,1154 498,1154 493,1154 488,1154 483,1154 478,1154 473,1154 468,1154 463,1154 458,1154 453,1154 448,1154 443,1154 438,1154 433,1154 428,1154 423,1154 418,1154 413,1154 408,1154 403,1154 398,1154 393,1154 388,1154 383,1154 378,1154 373,1154 368,1154 363,1154 358,1154 353,1154 348,1154 343,1154 338,1154 333,1154 328,1154 323,1154 318,1154 313,1154 308,1154 303,1154 298,1154 293,1154 288,1154 283,1154 278,1154 273,1154 268,1154 263,1154 258,1154 253,1154 248,1154 243,1154 238,1154 233,1154 228,1154 223,1154 218,1154 213,1154 208,1154 203,1154 198,1154 193,1154 188,1154 183,1154 178,1154 173,1154 168,1154 163,1154 158,1154 153,1154 148,1154 148,1149 148,1144 148,1139 148,1134 148,1129 148,1124 148,1119 148,1114 148,1109 148,1104 148,1099 148,1094 148,1089 148,1084 148,1079 148,1074 148,1069 148,1064 148,1059 148,1054 148,1049 148,1044 148,1039 148,1034 148,1029 148,1024 148,1019 148,1014 148,1009 148,1004 148,999 148,994 148,989 148,984 148,979 148,974 148,969 148,964 148,959 148,954Z" fill="#159af1" fill-rule="evenodd"/>
<path d="M979,374 983,372 988,373 989,374 993,376 995,379 997,384 997,389 995,394 993,396 989,399 988,399 983,400 978,399 977,399 973,395 972,394 970,389 971,384 973,379 973,379 978,374ZM1151,659 1153,658 1158,656 1163,655 1168,656 1173,657 1176,659 1178,660 1181,664 1183,667 1183,669 1183,674 1183,674 1179,679 1178,679 1173,682 1168,683 1167,684 1163,684 1158,684 1153,684 1152,684 1148,683 1143,680 1141,679 1139,674 1140,669 1143,665 1144,664 1148,661ZM885,744 888,743 893,742 898,741 903,742 908,743 910,744 913,744 918,747 921,749 923,750 928,753 928,754 933,758 934,759 938,763 939,764 943,768 943,769 947,774 948,775 950,779 953,782 954,784 957,789 958,789 961,794 963,796 965,799 968,803 968,804 971,809 973,812 974,814 976,819 978,822 978,824 981,829 983,832 984,834 987,839 988,839 991,844 993,845 996,849 998,851 1001,854 1003,856 1006,859 1008,860 1011,864 1013,865 1017,869 1018,869 1023,873 1024,874 1028,877 1030,879 1033,880 1037,884 1038,884 1043,888 1043,889 1048,892 1050,894 1053,896 1056,899 1058,900 1062,904 1063,904 1068,909 1068,909 1073,913 1073,914 1078,918 1078,919 1083,924 1083,924 1087,929 1088,929 1091,934 1093,935 1095,939 1098,942 1099,944 1102,949 1103,949 1105,954 1108,957 1108,959 1111,964 1113,966 1114,969 1116,974 1118,976 1119,979 1121,984 1123,988 1123,989 1125,994 1127,999 1128,1001 1128,1004 1130,1009 1132,1014 1133,1017 1133,1019 1134,1024 1136,1029 1137,1034 1138,1038 1138,1039 1139,1044 1140,1049 1140,1054 1141,1059 1142,1064 1142,1069 1143,1070 1143,1074 1143,1079 1144,1084 1144,1089 1144,1094 1144,1099 1144,1104 1144,1109 1144,1114 1144,1119 1144,1124 1144,1129 1143,1134 1143,1139 1143,1140 1142,1144 1142,1149 1141,1154 1138,1154 1133,1154 1128,1154 1123,1154 1118,1154 1113,1154 1108,1154 1103,1154 1098,1154 1093,1154 1088,1154 1083,1154 1078,1154 1073,1154 1068,1154 1063,1154 1058,1154 1053,1154 1048,1154 1043,1154 1038,1154 1033,1154 1028,1154 1023,1154 1018,1154 1013,1154 1008,1154 1003,1154 998,1154 993,1154 988,1154 983,1154 978,1154 973,1154 968,1154 963,1154 958,1154 953,1154 948,1154 943,1154 938,1154 933,1154 928,1154 923,1154 918,1154 913,1154 910,1154 909,1149 908,1147 906,1144 904,1139 903,1137 901,1134 898,1129 898,1127 896,1124 893,1119 893,1117 891,1114 888,1109 888,1107 886,1104 883,1099 883,1098 880,1094 878,1089 877,1089 875,1084 873,1081 871,1079 868,1074 868,1073 864,1069 863,1067 860,1064 858,1061 855,1059 853,1056 850,1054 848,1051 845,1049 843,1047 839,1044 838,1043 833,1039 833,1038 829,1034 828,1031 825,1029 823,1025 822,1024 818,1019 817,1019 813,1014 812,1014 808,1010 806,1009 803,1006 799,1004 798,1002 793,1000 791,999 788,997 783,995 780,994 778,992 773,989 771,989 768,985 766,984 763,981 761,979 758,975 756,974 753,971 750,969 748,967 743,964 742,964 738,962 733,962 728,961 723,961 718,960 715,959 713,958 708,955 704,954 703,953 698,951 693,949 691,949 688,947 683,946 678,944 677,944 673,942 668,940 665,939 663,937 658,935 655,934 653,932 648,929 647,929 643,925 641,924 638,919 637,919 634,914 633,911 632,909 630,904 628,899 628,896 627,894 626,889 625,884 624,879 623,874 623,869 622,869 621,864 620,859 618,854 618,851 617,849 616,844 615,839 615,834 615,829 616,824 618,821 619,819 622,814 623,813 626,809 628,807 631,804 633,802 637,799 638,798 643,795 645,794 648,793 653,791 658,789 659,789 663,788 668,786 673,785 678,784 678,784 683,782 688,781 693,781 698,780 703,781 708,782 713,783 713,784 718,786 723,789 723,789 728,792 730,794 733,795 737,799 738,799 743,803 744,804 748,806 751,809 753,810 758,813 758,814 763,818 764,819 768,823 768,824 772,829 773,830 774,834 776,839 776,844 776,849 775,854 775,859 774,864 773,868 772,869 771,874 771,879 770,884 769,889 768,894 768,896 767,899 767,904 767,909 767,914 768,917 768,919 770,924 773,927 774,929 778,932 781,934 783,935 788,938 790,939 793,940 798,942 803,942 808,942 813,940 816,939 818,938 822,934 823,933 826,929 828,926 829,924 831,919 833,914 833,914 833,909 834,904 834,899 834,894 834,889 833,884 833,879 833,878 832,874 831,869 830,864 829,859 828,855 827,854 826,849 824,844 823,839 823,835 822,834 822,829 822,824 823,821 823,819 824,814 825,809 827,804 828,803 829,799 831,794 833,791 834,789 836,784 838,782 839,779 843,774 843,774 847,769 848,767 851,764 853,762 857,759 858,758 863,755 866,754 868,753 873,750 875,749 878,747 883,745ZM148,979 148,975 153,976 158,977 163,978 167,979 168,979 173,980 178,981 183,982 188,982 193,983 194,984 198,984 203,985 208,986 213,987 218,987 223,988 226,989 228,989 233,989 238,990 243,991 248,991 253,992 258,992 263,993 268,993 269,994 273,994 278,995 283,995 288,996 293,996 298,997 303,997 308,998 313,998 313,999 318,999 323,1000 328,1001 333,1002 338,1003 339,1004 343,1004 348,1006 353,1007 358,1008 360,1009 363,1009 368,1010 373,1011 378,1012 383,1013 384,1014 388,1014 393,1015 398,1016 403,1017 408,1017 413,1018 418,1018 423,1018 428,1018 433,1018 438,1018 443,1018 448,1018 453,1018 458,1018 463,1018 468,1018 473,1018 478,1017 483,1017 488,1016 493,1016 498,1016 503,1016 508,1017 512,1019 513,1019 518,1020 523,1022 528,1023 532,1024 533,1024 538,1024 543,1025 548,1026 553,1027 558,1028 561,1029 563,1029 568,1030 573,1030 578,1032 583,1033 583,1034 588,1036 592,1039 593,1039 598,1041 602,1044 603,1044 608,1046 613,1048 613,1049 618,1051 621,1054 623,1055 626,1059 628,1061 629,1064 630,1069 629,1074 628,1078 627,1079 625,1084 623,1087 621,1089 618,1093 617,1094 613,1099 613,1099 609,1104 608,1106 605,1109 603,1112 602,1114 599,1119 598,1123 597,1124 596,1129 596,1134 596,1139 596,1144 596,1149 597,1154 593,1154 588,1154 583,1154 578,1154 573,1154 568,1154 563,1154 558,1154 553,1154 548,1154 543,1154 538,1154 533,1154 528,1154 523,1154 518,1154 513,1154 508,1154 503,1154 498,1154 493,1154 488,1154 483,1154 478,1154 473,1154 468,1154 463,1154 458,1154 453,1154 448,1154 443,1154 438,1154 433,1154 428,1154 423,1154 418,1154 413,1154 408,1154 403,1154 398,1154 393,1154 388,1154 383,1154 378,1154 373,1154 368,1154 363,1154 358,1154 353,1154 348,1154 343,1154 338,1154 333,1154 328,1154 323,1154 318,1154 313,1154 308,1154 303,1154 298,1154 293,1154 288,1154 283,1154 278,1154 273,1154 268,1154 263,1154 258,1154 253,1154 248,1154 243,1154 238,1154 233,1154 228,1154 223,1154 218,1154 213,1154 208,1154 203,1154 198,1154 193,1154 188,1154 183,1154 178,1154 173,1154 168,1154 163,1154 158,1154 153,1154 148,1154 148,1149 148,1144 148,1139 148,1134 148,1129 148,1124 148,1119 148,1114 148,1109 148,1104 148,1099 148,1094 148,1089 148,1084 148,1079 148,1074 148,1069 148,1064 148,1059 148,1054 148,1049 148,1044 148,1039 148,1034 148,1029 148,1024 148,1019 148,1014 148,1009 148,1004 148,999 148,994 148,989 148,984Z" fill="#1f8ef3" fill-rule="evenodd"/>
<path d="M897,754 898,754 898,754 903,754 908,755 913,757 915,759 918,760 922,764 923,764 928,768 928,769 933,773 933,774 937,779 938,780 940,784 943,787 944,789 947,794 948,795 950,799 953,802 953,804 956,809 958,811 959,814 962,819 963,820 965,824 967,829 968,830 969,834 972,839 973,840 974,844 978,849 978,849 981,854 983,856 985,859 988,862 989,864 993,867 994,869 998,873 998,874 1003,878 1003,879 1008,883 1008,884 1013,888 1013,889 1018,893 1018,894 1023,898 1023,899 1028,903 1028,904 1033,908 1033,909 1037,914 1038,914 1042,919 1043,920 1046,924 1048,926 1049,929 1053,933 1053,934 1056,939 1058,941 1059,944 1062,949 1063,949 1065,954 1067,959 1068,959 1070,964 1072,969 1073,971 1074,974 1076,979 1077,984 1078,986 1078,989 1080,994 1081,999 1082,1004 1082,1009 1083,1010 1083,1014 1083,1019 1084,1024 1084,1029 1084,1034 1084,1039 1083,1044 1083,1049 1083,1049 1082,1054 1081,1059 1080,1064 1079,1069 1078,1072 1077,1074 1075,1079 1073,1084 1073,1085 1071,1089 1069,1094 1068,1095 1066,1099 1063,1103 1062,1104 1059,1109 1058,1110 1054,1114 1053,1115 1049,1119 1048,1120 1043,1124 1043,1124 1038,1127 1035,1129 1033,1130 1028,1132 1023,1134 1023,1134 1018,1135 1013,1136 1008,1137 1003,1138 998,1138 993,1137 988,1137 983,1136 978,1135 974,1134 973,1133 968,1131 963,1129 961,1129 958,1127 953,1125 951,1124 948,1122 943,1119 942,1119 938,1116 935,1114 933,1112 928,1109 928,1108 923,1104 922,1104 918,1100 916,1099 913,1096 910,1094 908,1091 905,1089 903,1087 899,1084 898,1082 894,1079 893,1077 889,1074 888,1072 884,1069 883,1068 878,1064 878,1063 873,1059 872,1059 868,1055 866,1054 863,1051 860,1049 858,1047 854,1044 853,1043 848,1039 848,1038 843,1034 843,1033 840,1029 838,1025 837,1024 834,1019 833,1017 830,1014 828,1009 827,1009 823,1004 823,1003 819,999 818,996 815,994 813,990 812,989 808,984 808,982 805,979 804,974 805,969 808,964 808,964 813,959 813,959 818,954 818,954 823,950 824,949 828,945 829,944 833,940 834,939 838,934 838,933 841,929 843,925 843,924 845,919 846,914 847,909 847,904 848,900 848,899 848,894 848,889 848,884 848,879 848,874 848,869 848,864 848,859 848,858 847,854 847,849 847,844 847,839 847,834 847,829 847,824 848,821 848,819 849,814 850,809 851,804 853,800 853,799 855,794 857,789 858,788 860,784 863,779 863,779 866,774 868,772 871,769 873,767 877,764 878,763 883,759 883,759 888,756 893,754ZM672,794 673,794 678,793 683,792 688,792 693,792 698,792 703,793 704,794 708,795 713,797 716,799 718,800 723,803 724,804 728,806 731,809 733,810 737,814 738,814 742,819 743,819 747,824 748,824 751,829 753,832 753,834 756,839 757,844 758,848 758,849 758,854 758,859 758,863 758,864 757,869 756,874 755,879 754,884 753,889 753,891 752,894 751,899 750,904 749,909 748,914 748,915 747,919 746,924 745,929 743,934 743,934 740,939 738,941 735,944 733,946 728,949 728,949 723,951 718,951 713,949 711,949 708,947 703,945 698,944 698,944 693,942 688,941 683,939 680,939 678,938 673,936 668,934 668,933 663,931 658,929 658,928 653,925 651,924 648,920 647,919 643,914 643,913 641,909 638,904 638,901 637,899 635,894 634,889 633,884 633,884 631,879 631,874 630,869 629,864 628,859 628,858 627,854 626,849 626,844 625,839 626,834 626,829 628,824 628,824 630,819 633,815 634,814 638,810 639,809 643,805 645,804 648,802 653,799 654,799 658,797 663,796 668,795ZM148,1004 148,1003 153,1003 158,1003 160,1004 163,1004 168,1004 173,1004 178,1005 183,1005 188,1005 193,1005 198,1005 203,1005 208,1006 213,1006 218,1006 223,1006 228,1006 233,1006 238,1006 243,1006 248,1006 253,1006 258,1006 263,1006 268,1006 273,1006 278,1006 283,1006 288,1006 293,1006 298,1006 303,1006 308,1006 313,1006 318,1006 323,1006 328,1007 333,1008 338,1009 338,1009 343,1010 348,1011 353,1012 357,1014 358,1014 363,1015 368,1016 373,1017 378,1018 380,1019 383,1019 388,1020 393,1021 398,1022 403,1022 408,1023 413,1023 418,1024 419,1024 423,1024 428,1024 433,1024 438,1024 443,1024 448,1024 453,1024 458,1025 463,1025 468,1025 473,1025 478,1025 483,1025 488,1024 493,1024 498,1024 503,1024 508,1025 513,1026 518,1026 523,1027 528,1028 533,1028 538,1028 539,1029 543,1029 548,1030 553,1030 558,1031 563,1032 568,1033 573,1034 573,1034 578,1035 583,1037 586,1039 588,1039 593,1042 595,1044 598,1045 603,1048 604,1049 608,1051 613,1053 613,1054 618,1058 618,1059 621,1064 622,1069 621,1074 619,1079 618,1080 616,1084 613,1087 612,1089 608,1093 607,1094 603,1098 602,1099 598,1103 597,1104 593,1108 592,1109 589,1114 588,1116 586,1119 584,1124 583,1129 583,1133 582,1134 582,1139 582,1144 582,1149 583,1153 583,1154 583,1154 578,1154 573,1154 568,1154 563,1154 558,1154 553,1154 548,1154 543,1154 538,1154 533,1154 528,1154 523,1154 518,1154 513,1154 508,1154 503,1154 498,1154 493,1154 488,1154 483,1154 478,1154 473,1154 468,1154 463,1154 458,1154 453,1154 448,1154 443,1154 438,1154 433,1154 428,1154 423,1154 418,1154 413,1154 408,1154 403,1154 398,1154 393,1154 388,1154 383,1154 378,1154 373,1154 368,1154 363,1154 358,1154 353,1154 348,1154 343,1154 338,1154 333,1154 328,1154 323,1154 318,1154 313,1154 308,1154 303,1154 298,1154 293,1154 288,1154 283,1154 278,1154 273,1154 268,1154 263,1154 258,1154 253,1154 248,1154 243,1154 238,1154 233,1154 228,1154 223,1154 218,1154 213,1154 208,1154 203,1154 198,1154 193,1154 188,1154 183,1154 178,1154 173,1154 168,1154 163,1154 158,1154 153,1154 148,1154 148,1149 148,1144 148,1139 148,1134 148,1129 148,1124 148,1119 148,1114 148,1109 148,1104 148,1099 148,1094 148,1089 148,1084 148,1079 148,1074 148,1069 148,1064 148,1059 148,1054 148,1049 148,1044 148,1039 148,1034 148,1029 148,1024 148,1019 148,1014 148,1009Z" fill="#2980f6" fill-rule="evenodd"/>
<path d="M897,774 898,773 903,772 908,772 911,774 913,774 918,777 919,779 923,781 925,784 928,786 929,789 933,794 933,794 935,799 938,802 938,804 942,809 943,810 945,814 948,818 948,819 951,824 953,827 953,829 956,834 958,837 958,839 960,844 962,849 963,850 964,854 967,859 968,860 970,864 973,868 973,869 977,874 978,874 981,879 983,880 985,884 988,886 990,889 993,892 994,894 998,898 999,899 1003,904 1003,904 1007,909 1008,910 1011,914 1013,917 1014,919 1018,924 1018,924 1021,929 1023,932 1024,934 1026,939 1028,941 1029,944 1031,949 1033,952 1033,954 1035,959 1037,964 1038,966 1038,969 1040,974 1041,979 1041,984 1042,989 1042,994 1043,999 1042,1004 1042,1009 1042,1014 1041,1019 1040,1024 1038,1029 1038,1031 1037,1034 1035,1039 1033,1043 1032,1044 1029,1049 1028,1051 1026,1054 1023,1058 1022,1059 1018,1063 1017,1064 1013,1068 1011,1069 1008,1071 1004,1074 1003,1074 998,1077 993,1078 992,1079 988,1080 983,1081 978,1082 973,1082 968,1082 963,1082 958,1081 953,1081 948,1080 944,1079 943,1078 938,1077 933,1075 930,1074 928,1073 923,1071 919,1069 918,1068 913,1066 909,1064 908,1063 903,1060 901,1059 898,1057 893,1054 892,1054 888,1051 884,1049 883,1048 878,1045 876,1044 873,1042 868,1039 867,1039 863,1035 861,1034 858,1030 856,1029 853,1024 853,1022 851,1019 848,1014 848,1012 846,1009 843,1004 843,1003 840,999 838,994 837,994 835,989 833,984 832,984 831,979 830,974 830,969 831,964 833,960 833,959 836,954 838,952 840,949 843,944 843,944 846,939 848,937 850,934 852,929 853,928 855,924 857,919 858,916 859,914 860,909 861,904 861,899 862,894 862,889 863,884 863,884 863,879 864,874 864,869 864,864 865,859 865,854 866,849 866,844 866,839 867,834 867,829 868,826 868,824 869,819 870,814 871,809 873,805 873,804 875,799 877,794 878,793 880,789 883,786 884,784 888,780 889,779 893,776ZM668,804 673,803 678,802 683,802 688,802 693,802 698,803 698,804 703,805 708,807 710,809 713,810 718,813 719,814 723,816 725,819 728,821 731,824 733,826 735,829 738,832 738,834 741,839 743,844 743,844 744,849 744,854 745,859 744,864 744,869 743,874 743,874 741,879 740,884 738,889 738,891 737,894 736,899 735,904 733,909 733,910 732,914 731,919 729,924 728,927 727,929 724,934 723,935 718,939 718,939 713,939 711,939 708,938 703,937 698,936 693,935 688,934 686,934 683,933 678,931 673,929 672,929 668,926 663,924 663,923 658,919 657,919 653,914 652,914 649,909 648,906 647,904 644,899 643,894 643,894 641,889 639,884 638,879 638,875 637,874 637,869 636,864 635,859 635,854 635,849 635,844 635,839 636,834 638,829 638,829 640,824 643,819 643,819 648,814 648,814 653,810 655,809 658,807 663,805 668,804ZM312,1014 313,1014 318,1013 323,1013 328,1013 333,1013 335,1014 338,1014 343,1015 348,1017 353,1018 355,1019 358,1019 363,1021 368,1022 373,1023 378,1024 378,1024 383,1024 388,1025 393,1026 398,1027 403,1028 408,1028 413,1028 418,1029 418,1029 423,1029 428,1029 433,1029 438,1029 443,1030 448,1030 453,1030 458,1031 463,1031 468,1032 473,1032 478,1032 483,1031 488,1031 493,1031 498,1031 503,1031 508,1031 513,1031 518,1032 523,1032 528,1032 533,1032 538,1032 543,1033 548,1033 553,1034 553,1034 558,1034 563,1035 568,1035 573,1037 578,1038 579,1039 583,1040 588,1043 589,1044 593,1046 597,1049 598,1049 603,1052 605,1054 608,1056 610,1059 613,1062 613,1064 614,1069 613,1074 613,1074 610,1079 608,1082 606,1084 603,1087 601,1089 598,1091 595,1094 593,1096 589,1099 588,1100 583,1104 582,1104 578,1108 577,1109 574,1114 573,1116 572,1119 570,1124 569,1129 569,1134 569,1139 569,1144 569,1149 569,1154 568,1154 563,1154 558,1154 553,1154 548,1154 543,1154 538,1154 533,1154 528,1154 523,1154 518,1154 513,1154 508,1154 503,1154 498,1154 493,1154 488,1154 483,1154 478,1154 473,1154 468,1154 463,1154 458,1154 453,1154 448,1154 443,1154 438,1154 433,1154 428,1154 423,1154 418,1154 413,1154 408,1154 403,1154 398,1154 393,1154 388,1154 383,1154 378,1154 373,1154 368,1154 363,1154 358,1154 353,1154 348,1154 343,1154 338,1154 333,1154 328,1154 323,1154 318,1154 313,1154 308,1154 303,1154 298,1154 293,1154 288,1154 283,1154 278,1154 273,1154 268,1154 263,1154 258,1154 253,1154 248,1154 243,1154 238,1154 233,1154 228,1154 223,1154 218,1154 213,1154 208,1154 203,1154 198,1154 193,1154 188,1154 183,1154 178,1154 173,1154 168,1154 163,1154 158,1154 153,1154 148,1154 148,1149 148,1144 148,1139 148,1134 148,1129 148,1124 148,1119 148,1114 148,1109 148,1104 148,1099 148,1094 148,1089 148,1084 148,1079 148,1074 148,1069 148,1064 148,1059 148,1054 148,1049 148,1044 148,1039 148,1034 148,1031 153,1031 158,1030 163,1030 168,1029 173,1029 175,1029 178,1028 183,1028 188,1027 193,1027 198,1027 203,1026 208,1026 213,1025 218,1024 223,1024 226,1024 228,1023 233,1023 238,1022 243,1022 248,1021 253,1021 258,1020 263,1019 268,1019 269,1019 273,1018 278,1018 283,1017 288,1016 293,1016 298,1015 303,1015 308,1014Z" fill="#3373f8" fill-rule="evenodd"/>
<path d="M902,809 903,808 908,807 913,808 915,809 918,810 922,814 923,814 927,819 928,819 931,824 933,826 934,829 937,834 938,836 938,839 940,844 940,849 941,854 942,859 943,859 945,864 948,867 949,869 953,873 953,874 958,878 958,879 963,884 963,884 967,889 968,889 972,894 973,895 976,899 978,901 980,904 983,907 984,909 987,914 988,914 991,919 993,921 994,924 997,929 998,930 999,934 1002,939 1003,941 1004,944 1006,949 1007,954 1008,956 1008,959 1009,964 1010,969 1011,974 1011,979 1011,984 1010,989 1010,994 1009,999 1008,1003 1007,1004 1006,1009 1003,1014 1003,1015 1001,1019 998,1023 997,1024 993,1029 993,1029 988,1034 988,1034 983,1038 981,1039 978,1041 973,1043 971,1044 968,1045 963,1046 958,1047 953,1048 948,1048 943,1048 938,1047 933,1047 928,1046 923,1045 919,1044 918,1043 913,1041 908,1040 905,1039 903,1037 898,1035 895,1034 893,1032 888,1029 886,1029 883,1026 879,1024 878,1022 874,1019 873,1016 871,1014 868,1009 868,1008 865,1004 863,1001 861,999 858,994 858,993 854,989 853,985 852,984 849,979 848,974 848,972 847,969 847,964 848,962 848,959 850,954 852,949 853,947 855,944 858,939 858,939 861,934 863,931 864,929 868,924 868,923 870,919 872,914 873,912 874,909 875,904 876,899 878,894 878,893 879,889 880,884 881,879 882,874 883,870 883,869 884,864 886,859 887,854 888,849 888,849 889,844 889,839 890,834 891,829 893,824 893,823 894,819 897,814 898,812ZM671,814 673,813 678,812 683,812 688,812 693,813 693,814 698,815 703,817 705,819 708,820 713,823 713,824 718,827 719,829 723,832 724,834 727,839 728,839 730,844 731,849 732,854 733,859 732,864 732,869 731,874 729,879 728,883 727,884 726,889 725,894 724,899 723,904 723,904 721,909 720,914 718,918 717,919 713,924 713,924 708,926 703,926 698,926 693,926 688,926 683,925 679,924 678,923 673,920 670,919 668,917 663,914 663,913 659,909 658,907 655,904 653,899 652,899 650,894 648,889 648,888 646,884 645,879 644,874 643,869 643,864 643,859 643,854 644,849 645,844 646,839 648,834 648,834 650,829 653,825 654,824 658,820 660,819 663,817 668,815ZM304,1024 308,1023 313,1022 318,1021 323,1020 328,1019 333,1019 338,1020 343,1021 348,1022 352,1024 353,1024 358,1025 363,1026 368,1027 373,1028 377,1029 378,1029 383,1030 388,1031 393,1031 398,1032 403,1033 408,1033 413,1033 418,1033 423,1033 425,1034 428,1034 433,1034 438,1034 443,1035 448,1035 453,1036 458,1037 463,1037 468,1038 473,1038 478,1038 483,1038 488,1038 493,1037 498,1037 503,1037 508,1037 513,1037 518,1037 523,1037 528,1036 533,1036 538,1036 543,1036 548,1036 553,1037 558,1037 563,1038 568,1038 569,1039 573,1040 578,1041 583,1044 583,1044 588,1046 591,1049 593,1050 598,1053 598,1054 603,1058 603,1059 606,1064 606,1069 604,1074 603,1076 601,1079 598,1082 595,1084 593,1086 588,1089 588,1089 583,1092 580,1094 578,1095 573,1098 572,1099 568,1102 565,1104 563,1107 561,1109 559,1114 558,1118 557,1119 557,1124 556,1129 556,1134 556,1139 556,1144 556,1149 556,1154 553,1154 548,1154 543,1154 538,1154 533,1154 528,1154 523,1154 518,1154 513,1154 508,1154 503,1154 498,1154 493,1154 488,1154 483,1154 478,1154 473,1154 468,1154 463,1154 458,1154 453,1154 448,1154 443,1154 438,1154 433,1154 428,1154 423,1154 418,1154 413,1154 408,1154 403,1154 398,1154 393,1154 388,1154 383,1154 378,1154 373,1154 368,1154 363,1154 358,1154 353,1154 348,1154 343,1154 338,1154 333,1154 328,1154 323,1154 318,1154 313,1154 308,1154 303,1154 298,1154 293,1154 288,1154 283,1154 278,1154 273,1154 268,1154 263,1154 258,1154 253,1154 248,1154 243,1154 238,1154 233,1154 228,1154 223,1154 218,1154 213,1154 208,1154 203,1154 198,1154 193,1154 188,1154 183,1154 178,1154 173,1154 168,1154 163,1154 158,1154 153,1154 148,1154 148,1149 148,1144 148,1139 148,1134 148,1129 148,1124 148,1119 148,1114 148,1109 148,1104 148,1099 148,1094 148,1089 148,1084 148,1079 148,1074 148,1069 148,1064 148,1060 153,1059 156,1059 158,1058 163,1057 168,1056 173,1055 177,1054 178,1054 183,1052 188,1051 193,1050 198,1049 199,1049 203,1048 208,1047 213,1045 218,1044 220,1044 223,1043 228,1042 233,1041 238,1039 241,1039 243,1038 248,1037 253,1036 258,1035 262,1034 263,1033 268,1032 273,1031 278,1030 283,1029 283,1029 288,1028 293,1026 298,1025 303,1024Z" fill="#3d64f9" fill-rule="evenodd"/>
<path d="M668,829 673,826 678,825 683,824 688,825 693,826 698,828 699,829 703,831 707,834 708,834 713,839 713,839 716,844 718,847 719,849 720,854 721,859 721,864 721,869 720,874 718,879 718,881 717,884 715,889 713,894 713,896 712,899 710,904 708,908 707,909 703,912 699,914 698,914 693,915 688,915 683,914 682,914 678,912 673,909 672,909 668,905 666,904 663,899 662,899 659,894 658,892 656,889 654,884 653,881 652,879 651,874 651,869 651,864 652,859 653,854 653,854 654,849 656,844 658,841 659,839 662,834 663,833 668,829ZM907,884 908,883 913,881 918,881 923,882 925,884 928,884 933,887 936,889 938,889 943,892 945,894 948,896 951,899 953,900 957,904 958,905 961,909 963,910 965,914 968,917 969,919 972,924 973,924 975,929 977,934 978,934 979,939 981,944 983,949 983,949 984,954 984,959 985,964 985,969 985,974 984,979 983,984 983,984 981,989 979,994 978,996 976,999 973,1003 972,1004 968,1009 968,1009 963,1013 961,1014 958,1016 953,1018 951,1019 948,1020 943,1021 938,1022 933,1022 928,1022 923,1021 918,1020 913,1019 911,1019 908,1017 903,1015 900,1014 898,1012 893,1009 892,1009 888,1004 887,1004 883,999 882,999 878,994 878,993 874,989 873,987 870,984 868,980 866,979 863,974 863,972 861,969 860,964 860,959 861,954 863,949 863,949 866,944 868,941 869,939 873,935 874,934 878,929 878,929 881,924 883,921 884,919 886,914 888,911 889,909 892,904 893,902 895,899 898,894 898,894 902,889 903,888ZM322,1029 323,1028 328,1027 333,1027 338,1027 343,1028 346,1029 348,1029 353,1030 358,1031 363,1032 368,1033 373,1033 375,1034 378,1034 383,1035 388,1036 393,1036 398,1037 403,1037 408,1037 413,1037 418,1038 423,1038 428,1038 432,1039 433,1039 438,1039 443,1040 448,1040 453,1041 458,1042 463,1043 468,1044 468,1044 473,1044 478,1044 483,1044 488,1044 488,1044 493,1043 498,1043 503,1042 508,1042 513,1042 518,1042 523,1041 528,1041 533,1041 538,1040 543,1040 548,1040 553,1040 558,1040 563,1040 568,1041 573,1043 575,1044 578,1044 583,1047 585,1049 588,1050 592,1054 593,1054 597,1059 598,1061 599,1064 599,1069 598,1071 596,1074 593,1077 590,1079 588,1081 583,1084 583,1084 578,1086 573,1089 573,1089 568,1091 563,1093 560,1094 558,1095 553,1098 552,1099 548,1104 548,1104 546,1109 545,1114 545,1119 544,1124 544,1129 544,1134 543,1139 543,1144 543,1149 543,1154 543,1154 538,1154 533,1154 528,1154 523,1154 518,1154 513,1154 508,1154 503,1154 498,1154 493,1154 488,1154 483,1154 478,1154 473,1154 468,1154 463,1154 458,1154 453,1154 448,1154 443,1154 438,1154 433,1154 428,1154 423,1154 418,1154 413,1154 408,1154 403,1154 398,1154 393,1154 388,1154 383,1154 378,1154 373,1154 368,1154 363,1154 358,1154 353,1154 348,1154 343,1154 338,1154 333,1154 328,1154 323,1154 318,1154 313,1154 308,1154 303,1154 298,1154 293,1154 288,1154 283,1154 278,1154 273,1154 268,1154 263,1154 258,1154 253,1154 248,1154 243,1154 238,1154 233,1154 228,1154 223,1154 218,1154 213,1154 208,1154 203,1154 198,1154 193,1154 188,1154 183,1154 178,1154 173,1154 168,1154 163,1154 158,1154 153,1154 148,1154 148,1149 148,1144 148,1139 148,1134 148,1129 148,1124 148,1119 148,1114 148,1109 148,1104 148,1099 148,1094 148,1093 153,1091 158,1089 160,1089 163,1087 168,1085 172,1084 173,1083 178,1082 183,1080 185,1079 188,1078 193,1076 198,1074 198,1074 203,1072 208,1070 211,1069 213,1068 218,1066 223,1064 224,1064 228,1062 233,1060 237,1059 238,1058 243,1056 248,1055 250,1054 253,1053 258,1051 263,1049 264,1049 268,1047 273,1045 277,1044 278,1044 283,1042 288,1040 291,1039 293,1038 298,1037 303,1035 306,1034 308,1033 313,1031 318,1030Z" fill="#4756fb" fill-rule="evenodd"/>
<path d="M675,844 678,842 683,841 688,841 693,842 698,844 698,844 703,848 703,849 706,854 707,859 708,860 708,864 708,869 708,873 707,874 706,879 704,884 703,886 701,889 698,893 697,894 693,897 688,899 688,899 683,899 682,899 678,897 673,895 671,894 668,890 666,889 663,884 663,883 661,879 659,874 659,869 661,864 662,859 663,858 665,854 668,850 669,849 673,845ZM912,909 913,908 918,907 923,906 928,907 932,909 933,909 938,912 940,914 943,915 946,919 948,920 950,924 953,927 954,929 956,934 958,936 959,939 960,944 961,949 962,954 962,959 962,964 961,969 959,974 958,978 957,979 954,984 953,986 950,989 948,991 944,994 943,994 938,997 933,999 932,999 928,1000 923,1000 918,1000 913,999 912,999 908,997 903,995 899,994 898,993 893,989 892,989 888,984 887,984 883,979 882,979 878,974 878,972 875,969 873,964 873,961 872,959 873,955 873,954 875,949 878,944 878,944 882,939 883,937 886,934 888,931 890,929 893,925 894,924 898,919 898,919 903,914 903,914 908,910ZM324,1039 328,1038 333,1037 338,1036 343,1036 348,1037 353,1037 358,1038 363,1038 368,1038 369,1039 373,1039 378,1039 383,1040 388,1041 393,1041 398,1041 403,1041 408,1042 413,1042 418,1042 423,1042 428,1043 433,1043 436,1044 438,1044 443,1045 448,1046 453,1047 458,1048 463,1048 464,1049 468,1049 473,1050 478,1050 483,1050 488,1050 493,1049 498,1049 500,1049 503,1048 508,1048 513,1047 518,1047 523,1046 528,1046 533,1045 538,1045 543,1044 547,1044 548,1044 553,1043 558,1043 563,1043 564,1044 568,1044 573,1046 578,1048 579,1049 583,1051 586,1054 588,1055 591,1059 592,1064 591,1069 588,1073 587,1074 583,1076 578,1079 578,1079 573,1081 568,1082 563,1083 562,1084 558,1085 553,1087 548,1089 548,1089 543,1093 542,1094 538,1099 538,1100 536,1104 535,1109 534,1114 533,1119 533,1124 533,1126 532,1129 532,1134 531,1139 531,1144 530,1149 530,1154 528,1154 523,1154 518,1154 513,1154 508,1154 503,1154 498,1154 493,1154 488,1154 483,1154 478,1154 473,1154 468,1154 463,1154 458,1154 453,1154 448,1154 443,1154 438,1154 433,1154 428,1154 423,1154 418,1154 413,1154 408,1154 403,1154 398,1154 393,1154 388,1154 383,1154 378,1154 373,1154 368,1154 363,1154 358,1154 353,1154 348,1154 343,1154 338,1154 333,1154 328,1154 323,1154 318,1154 313,1154 308,1154 303,1154 298,1154 293,1154 288,1154 283,1154 278,1154 273,1154 268,1154 263,1154 258,1154 253,1154 248,1154 243,1154 238,1154 233,1154 228,1154 223,1154 218,1154 213,1154 208,1154 203,1154 198,1154 193,1154 188,1154 183,1154 178,1154 173,1154 168,1154 163,1154 158,1154 153,1154 148,1154 148,1149 148,1144 148,1139 148,1134 148,1132 153,1130 155,1129 158,1127 163,1124 164,1124 168,1121 172,1119 173,1118 178,1115 180,1114 183,1112 188,1109 188,1109 193,1106 197,1104 198,1103 203,1100 205,1099 208,1097 213,1094 214,1094 218,1092 223,1089 223,1089 228,1086 232,1084 233,1083 238,1080 241,1079 243,1078 248,1075 250,1074 253,1072 258,1070 260,1069 263,1067 268,1065 270,1064 273,1062 278,1060 279,1059 283,1057 288,1055 290,1054 293,1052 298,1050 300,1049 303,1048 308,1045 311,1044 313,1043 318,1041 323,1039Z" fill="#5147fc" fill-rule="evenodd"/>
<path d="M915,924 918,923 920,924 923,924 928,927 930,929 933,931 935,934 937,939 938,939 939,944 940,949 940,954 940,959 939,964 938,966 936,969 933,973 932,974 928,977 925,979 923,980 918,981 913,981 908,981 903,979 901,979 898,977 893,974 893,973 889,969 888,967 886,964 885,959 885,954 887,949 888,947 890,944 893,940 894,939 898,935 899,934 903,930 904,929 908,926 913,924ZM332,1049 333,1048 338,1047 343,1046 348,1046 353,1046 358,1046 363,1045 368,1045 373,1045 378,1045 383,1046 388,1046 393,1046 398,1046 403,1046 408,1046 413,1046 418,1046 423,1047 428,1047 433,1048 438,1049 438,1049 443,1050 448,1051 453,1052 458,1053 460,1054 463,1054 468,1055 473,1056 478,1056 483,1056 488,1056 493,1056 498,1056 503,1055 508,1055 513,1054 516,1054 518,1053 523,1053 528,1052 533,1052 538,1050 543,1049 544,1049 548,1048 553,1047 558,1047 563,1047 568,1048 570,1049 573,1050 578,1052 580,1054 583,1057 584,1059 586,1064 583,1069 583,1069 578,1072 574,1074 573,1074 568,1075 563,1076 558,1077 553,1078 548,1079 548,1079 543,1080 538,1083 537,1084 533,1088 532,1089 529,1094 528,1098 527,1099 526,1104 525,1109 524,1114 523,1119 523,1120 522,1124 521,1129 520,1134 519,1139 518,1144 518,1145 517,1149 516,1154 513,1154 508,1154 503,1154 498,1154 493,1154 488,1154 483,1154 478,1154 473,1154 468,1154 463,1154 458,1154 453,1154 448,1154 443,1154 438,1154 433,1154 428,1154 423,1154 418,1154 413,1154 408,1154 403,1154 398,1154 393,1154 388,1154 383,1154 378,1154 373,1154 368,1154 363,1154 358,1154 353,1154 348,1154 343,1154 338,1154 333,1154 328,1154 323,1154 318,1154 313,1154 308,1154 303,1154 298,1154 293,1154 288,1154 283,1154 278,1154 273,1154 268,1154 263,1154 258,1154 253,1154 248,1154 243,1154 238,1154 233,1154 228,1154 223,1154 218,1154 213,1154 208,1154 203,1154 198,1154 193,1154 188,1154 192,1149 193,1148 196,1144 198,1143 202,1139 203,1138 208,1134 208,1134 213,1129 213,1129 218,1125 219,1124 223,1121 225,1119 228,1117 231,1114 233,1113 238,1109 238,1109 243,1105 244,1104 248,1101 251,1099 253,1097 257,1094 258,1093 263,1090 264,1089 268,1086 271,1084 273,1083 278,1079 279,1079 283,1076 286,1074 288,1073 293,1069 294,1069 298,1066 302,1064 303,1063 308,1060 310,1059 313,1057 318,1055 320,1054 323,1052 328,1050Z" fill="#5d35fd" fill-rule="evenodd"/>
<path d="M907,949 908,948 909,949 913,951 914,954 913,959 913,959 908,962 903,961 900,959 901,954 903,951ZM367,1054 368,1054 373,1053 378,1052 383,1052 388,1052 393,1051 398,1051 403,1051 408,1051 413,1051 418,1051 423,1051 428,1052 433,1053 437,1054 438,1054 443,1055 448,1056 453,1058 456,1059 458,1059 463,1060 468,1061 473,1062 478,1063 483,1064 484,1064 488,1064 493,1064 498,1064 503,1064 508,1064 513,1064 518,1065 523,1068 523,1069 524,1074 523,1079 523,1079 522,1084 520,1089 519,1094 518,1099 518,1099 516,1104 515,1109 513,1114 513,1115 512,1119 510,1124 509,1129 508,1132 507,1134 506,1139 504,1144 503,1149 503,1151 502,1154 498,1154 493,1154 488,1154 483,1154 478,1154 473,1154 468,1154 463,1154 458,1154 453,1154 448,1154 443,1154 438,1154 433,1154 428,1154 423,1154 418,1154 413,1154 408,1154 403,1154 398,1154 393,1154 388,1154 383,1154 378,1154 373,1154 368,1154 363,1154 358,1154 353,1154 348,1154 343,1154 338,1154 333,1154 328,1154 323,1154 318,1154 313,1154 308,1154 303,1154 298,1154 293,1154 288,1154 283,1154 278,1154 273,1154 268,1154 263,1154 258,1154 253,1154 248,1154 243,1154 238,1154 240,1149 243,1146 244,1144 248,1139 248,1139 252,1134 253,1133 256,1129 258,1127 261,1124 263,1122 265,1119 268,1116 270,1114 273,1111 275,1109 278,1106 280,1104 283,1101 285,1099 288,1097 291,1094 293,1092 297,1089 298,1088 303,1084 303,1084 308,1080 309,1079 313,1076 316,1074 318,1072 323,1069 323,1069 328,1066 332,1064 333,1063 338,1061 343,1059 344,1059 348,1058 353,1056 358,1055 363,1054ZM549,1054 553,1052 558,1052 563,1052 568,1053 570,1054 573,1055 576,1059 577,1064 573,1067 568,1068 566,1069 563,1069 558,1069 553,1069 548,1069 547,1069 543,1067 539,1064 541,1059 543,1058 548,1054Z" fill="#6725fe" fill-rule="evenodd"/>
<path d="M388,1059 388,1059 393,1058 398,1057 403,1056 408,1056 413,1056 418,1056 423,1057 428,1057 433,1058 434,1059 438,1060 443,1061 448,1063 451,1064 453,1064 458,1066 463,1067 467,1069 468,1069 473,1070 478,1071 483,1072 488,1073 491,1074 493,1074 498,1075 503,1077 505,1079 508,1081 509,1084 509,1089 508,1094 508,1095 506,1099 504,1104 503,1108 502,1109 500,1114 498,1119 498,1121 496,1124 495,1129 493,1134 493,1134 491,1139 489,1144 488,1146 487,1149 485,1154 483,1154 478,1154 473,1154 468,1154 463,1154 458,1154 453,1154 448,1154 443,1154 438,1154 433,1154 428,1154 423,1154 418,1154 413,1154 408,1154 403,1154 398,1154 393,1154 388,1154 383,1154 378,1154 373,1154 368,1154 363,1154 358,1154 353,1154 348,1154 343,1154 338,1154 333,1154 328,1154 323,1154 318,1154 313,1154 308,1154 303,1154 298,1154 293,1154 288,1154 283,1154 280,1154 282,1149 283,1147 284,1144 287,1139 288,1138 290,1134 293,1129 293,1129 296,1124 298,1122 300,1119 303,1115 304,1114 308,1109 308,1109 312,1104 313,1103 316,1099 318,1097 321,1094 323,1092 326,1089 328,1087 332,1084 333,1083 338,1079 338,1079 343,1076 346,1074 348,1073 353,1070 356,1069 358,1068 363,1066 368,1064 369,1064 373,1063 378,1061 383,1060Z" fill="#7115fe" fill-rule="evenodd"/>
<path d="M406,1064 408,1063 413,1063 418,1063 423,1063 424,1064 428,1064 433,1066 438,1067 441,1069 443,1069 448,1071 453,1073 454,1074 458,1075 463,1077 466,1079 468,1080 473,1082 477,1084 478,1084 483,1087 484,1089 487,1094 487,1099 486,1104 485,1109 483,1114 483,1115 481,1119 479,1124 478,1126 476,1129 474,1134 473,1136 471,1139 468,1144 468,1145 466,1149 464,1154 463,1154 458,1154 453,1154 448,1154 443,1154 438,1154 433,1154 428,1154 423,1154 418,1154 413,1154 408,1154 403,1154 398,1154 393,1154 388,1154 383,1154 378,1154 373,1154 368,1154 363,1154 358,1154 353,1154 348,1154 343,1154 338,1154 333,1154 328,1154 323,1154 321,1154 322,1149 323,1145 323,1144 324,1139 326,1134 328,1130 328,1129 330,1124 333,1119 333,1119 336,1114 338,1111 339,1109 342,1104 343,1103 346,1099 348,1097 351,1094 353,1092 356,1089 358,1087 362,1084 363,1083 368,1080 369,1079 373,1077 378,1074 378,1074 383,1071 388,1069 388,1069 393,1067 398,1065 403,1064Z" fill="#7b06fe" fill-rule="evenodd"/>
<polygon points="1105,553 1113,538 1113,548 1108,556" fill="#5a3cf8"/>
</g></g>
<g clip-path="url(#frame)" fill="none" stroke="#000">
<path d="M-286.2,1642.7 L-281.7,1626.3 -277.1,1609.9 -272.4,1593.6 -267.7,1577.2 -262.9,1560.9 -258.1,1544.6 -253.1,1528.2 -248.2,1511.9 -243.1,1495.7 -238.0,1479.4 -232.8,1463.2 -227.6,1446.9 -222.3,1430.7 -216.9,1414.5 -211.5,1398.3 -206.0,1382.1 -200.5,1366.0 -194.9,1349.9 -189.2,1333.8 -183.5,1317.7 -177.7,1301.6 -171.8,1285.5 -165.9,1269.5 -159.9,1253.5 -153.9,1237.5 -147.8,1221.5 -141.7,1205.6 -135.4,1189.7 -129.2,1173.7 -122.8,1157.9 -116.4,1142.0 -110.0,1126.2 -103.5,1110.4 -96.9,1094.6 -90.3,1078.8 -83.6,1063.1 -76.8,1047.4 -70.0,1031.7 -63.2,1016.0 -56.2,1000.4 -49.3,984.8 -42.2,969.2 -35.1,953.6 -28.0,938.1 -20.8,922.6 -13.5,907.1 -6.2,891.7 1.2,876.3 8.7,860.9 16.1,845.6 23.7,830.2 31.3,814.9 39.0,799.7 46.7,784.5 54.5,769.3 62.3,754.1 70.2,739.0 78.1,723.9 86.1,708.8 94.2,693.8 102.3,678.8 110.4,663.9 118.7,648.9 126.9,634.1 135.3,619.2 143.6,604.4 152.1,589.6 160.6,574.9 169.1,560.2 177.7,545.5 186.3,530.9 195.0,516.3 203.8,501.8 212.6,487.3 221.5,472.8 230.4,458.4 239.3,444.0 248.4,429.6 257.4,415.3 266.6,401.1 275.7,386.9 285.0,372.7 294.3,358.5 303.6,344.5 313.0,330.4 322.4,316.4 331.9,302.5 341.4,288.5 351.0,274.7 360.7,260.9 370.4,247.1 380.1,233.4 389.9,219.7 399.8,206.1 409.6,192.5 419.6,178.9 429.6,165.5 439.6,152.0 449.7,138.6 459.9,125.3 470.1,112.0 480.3,98.8 490.6,85.6 501.0,72.5 511.4,59.4 521.8,46.4 532.3,33.4 542.9,20.5 553.5,7.6 564.1,-5.2 574.8,-17.9 585.5,-30.6 596.3,-43.3 607.2,-55.9 618.0,-68.4 629.0,-80.9 640.0,-93.3 651.0,-105.6 662.1,-117.9 673.2,-130.2 684.4,-142.3 695.6,-154.5 706.9,-166.5 718.2,-178.5 729.6,-190.5 741.0,-202.3 752.4,-214.1 763.9,-225.9 775.5,-237.6 787.1,-249.2 798.8,-260.8 810.5,-272.2 822.2,-283.7 834.0,-295.0 845.8,-306.3 857.7,-317.6 869.7,-328.7 881.6,-339.8 893.7,-350.9 M1.8,1731.5 L5.2,1715.2 8.6,1698.8 12.1,1682.5 15.6,1666.1 19.1,1649.8 22.7,1633.4 26.4,1617.1 30.1,1600.8 33.9,1584.5 37.7,1568.2 41.5,1551.9 45.4,1535.6 49.4,1519.3 53.3,1503.0 57.4,1486.8 61.5,1470.5 65.6,1454.3 69.8,1438.0 74.0,1421.8 78.3,1405.6 82.6,1389.4 87.0,1373.2 91.4,1357.0 95.9,1340.8 100.4,1324.6 105.0,1308.5 109.6,1292.4 114.2,1276.2 118.9,1260.1 123.7,1244.0 128.4,1227.9 133.3,1211.9 138.2,1195.8 143.1,1179.8 148.1,1163.8 153.1,1147.8 158.1,1131.8 163.2,1115.8 168.4,1099.8 173.6,1083.9 178.8,1068.0 184.1,1052.1 189.4,1036.2 194.8,1020.3 200.2,1004.5 205.7,988.7 211.2,972.9 216.8,957.1 222.4,941.3 228.0,925.6 233.7,909.8 239.4,894.1 245.2,878.4 251.0,862.8 256.9,847.1 262.8,831.5 268.7,815.9 274.7,800.4 280.8,784.8 286.9,769.3 293.0,753.8 299.1,738.4 305.4,722.9 311.6,707.5 317.9,692.1 324.2,676.7 330.6,661.4 337.0,646.1 343.5,630.8 350.0,615.6 356.6,600.3 363.2,585.1 369.8,570.0 376.5,554.8 383.2,539.7 390.0,524.6 396.8,509.6 403.6,494.6 410.5,479.6 417.4,464.6 424.4,449.7 431.4,434.8 438.5,420.0 445.6,405.2 452.7,390.4 459.9,375.6 467.1,360.9 474.4,346.2 481.7,331.5 489.0,316.9 496.4,302.4 503.9,287.8 511.3,273.3 518.8,258.8 526.4,244.4 534.0,230.0 541.6,215.6 549.3,201.3 557.0,187.0 564.8,172.8 572.6,158.6 580.4,144.4 588.3,130.3 596.2,116.2 604.2,102.2 612.2,88.2 620.2,74.2 628.3,60.3 636.4,46.4 644.6,32.6 652.8,18.8 661.1,5.1 669.4,-8.6 677.7,-22.3 686.0,-35.9 694.5,-49.5 702.9,-63.0 711.4,-76.5 719.9,-89.9 728.5,-103.3 737.1,-116.6 745.8,-129.9 754.5,-143.1 763.2,-156.3 772.0,-169.4 780.8,-182.5 789.6,-195.6 798.5,-208.6 807.5,-221.5 816.5,-234.4 825.5,-247.2 834.5,-260.0 843.6,-272.8 852.8,-285.4 862.0,-298.1 871.2,-310.6 880.4,-323.2 889.7,-335.6 899.1,-348.0 M301.1,1794.6 L303.3,1778.3 305.6,1761.9 307.9,1745.6 310.2,1729.3 312.5,1712.9 314.9,1696.6 317.4,1680.3 319.8,1663.9 322.3,1647.6 324.8,1631.3 327.4,1615.0 330.0,1598.6 332.6,1582.3 335.2,1566.0 337.9,1549.7 340.6,1533.3 343.4,1517.0 346.2,1500.7 349.0,1484.4 351.8,1468.1 354.7,1451.8 357.6,1435.5 360.5,1419.2 363.5,1403.0 366.5,1386.7 369.5,1370.4 372.6,1354.2 375.7,1337.9 378.8,1321.7 382.0,1305.4 385.2,1289.2 388.4,1273.0 391.6,1256.8 394.9,1240.6 398.2,1224.4 401.6,1208.2 404.9,1192.0 408.3,1175.8 411.8,1159.7 415.3,1143.5 418.8,1127.4 422.3,1111.3 425.8,1095.2 429.4,1079.1 433.0,1063.0 436.7,1046.9 440.4,1030.8 444.1,1014.8 447.8,998.8 451.6,982.7 455.4,966.7 459.2,950.8 463.1,934.8 467.0,918.8 470.9,902.9 474.9,887.0 478.8,871.0 482.9,855.1 486.9,839.3 491.0,823.4 495.1,807.6 499.2,791.8 503.4,775.9 507.6,760.2 511.8,744.4 516.0,728.6 520.3,712.9 524.6,697.2 528.9,681.5 533.3,665.9 537.7,650.2 542.1,634.6 546.6,619.0 551.1,603.4 555.6,587.9 560.1,572.3 564.7,556.8 569.3,541.3 573.9,525.9 578.6,510.4 583.3,495.0 588.0,479.6 592.8,464.2 597.5,448.9 602.3,433.6 607.2,418.3 612.0,403.0 616.9,387.8 621.9,372.6 626.8,357.4 631.8,342.3 636.8,327.1 641.8,312.0 646.9,297.0 652.0,281.9 657.1,266.9 662.3,251.9 667.5,237.0 672.7,222.1 677.9,207.2 683.2,192.3 688.5,177.5 693.8,162.7 699.2,147.9 704.6,133.2 710.0,118.5 715.4,103.8 720.9,89.2 726.4,74.6 731.9,60.1 737.5,45.5 743.1,31.0 748.7,16.6 754.3,2.1 760.0,-12.2 765.7,-26.6 771.5,-40.9 777.2,-55.2 783.0,-69.4 788.8,-83.6 794.7,-97.8 800.6,-111.9 806.5,-126.0 812.4,-140.1 818.4,-154.1 824.4,-168.1 830.4,-182.0 836.5,-195.9 842.6,-209.7 848.7,-223.5 854.8,-237.3 861.0,-251.0 867.2,-264.7 873.4,-278.4 879.7,-292.0 886.0,-305.5 892.3,-319.1 898.7,-332.5 905.1,-346.0 M607.7,1832.3 L608.8,1816.0 610.0,1799.7 611.1,1783.3 612.3,1767.0 613.4,1750.7 614.6,1734.4 615.8,1718.0 617.1,1701.7 618.3,1685.4 619.6,1669.0 620.8,1652.7 622.1,1636.3 623.4,1620.0 624.7,1603.6 626.1,1587.3 627.4,1570.9 628.8,1554.6 630.2,1538.2 631.6,1521.9 633.0,1505.6 634.4,1489.2 635.9,1472.9 637.4,1456.5 638.8,1440.2 640.3,1423.8 641.9,1407.5 643.4,1391.2 644.9,1374.8 646.5,1358.5 648.1,1342.2 649.7,1325.9 651.3,1309.6 652.9,1293.3 654.5,1277.0 656.2,1260.7 657.9,1244.4 659.6,1228.1 661.3,1211.8 663.0,1195.5 664.7,1179.3 666.5,1163.0 668.2,1146.8 670.0,1130.5 671.8,1114.3 673.6,1098.1 675.4,1081.8 677.3,1065.6 679.1,1049.4 681.0,1033.3 682.9,1017.1 684.8,1000.9 686.7,984.8 688.7,968.6 690.6,952.5 692.6,936.4 694.6,920.2 696.5,904.1 698.6,888.1 700.6,872.0 702.6,855.9 704.7,839.9 706.8,823.9 708.8,807.8 710.9,791.8 713.1,775.8 715.2,759.9 717.3,743.9 719.5,728.0 721.7,712.1 723.9,696.1 726.1,680.2 728.3,664.4 730.5,648.5 732.8,632.7 735.1,616.9 737.3,601.0 739.6,585.3 741.9,569.5 744.3,553.7 746.6,538.0 749.0,522.3 751.3,506.6 753.7,491.0 756.1,475.3 758.5,459.7 761.0,444.1 763.4,428.5 765.9,412.9 768.4,397.4 770.9,381.9 773.4,366.4 775.9,350.9 778.4,335.5 781.0,320.0 783.5,304.6 786.1,289.3 788.7,273.9 791.3,258.6 794.0,243.3 796.6,228.0 799.3,212.8 801.9,197.5 804.6,182.3 807.3,167.2 810.0,152.0 812.8,136.9 815.5,121.8 818.3,106.8 821.0,91.7 823.8,76.7 826.6,61.7 829.5,46.8 832.3,31.9 835.1,17.0 838.0,2.1 840.9,-12.7 843.8,-27.5 846.7,-42.3 849.6,-57.0 852.6,-71.7 855.5,-86.4 858.5,-101.0 861.5,-115.6 864.5,-130.2 867.5,-144.7 870.6,-159.2 873.6,-173.7 876.7,-188.1 879.8,-202.6 882.9,-216.9 886.0,-231.3 889.1,-245.6 892.3,-259.8 895.4,-274.1 898.6,-288.3 901.8,-302.4 905.0,-316.5 908.2,-330.6 911.5,-344.7 M918.0,1844.8 L918.0,1828.5 918.0,1812.2 918.0,1795.9 918.0,1779.6 918.0,1763.3 918.0,1746.9 918.0,1730.6 918.0,1714.3 918.0,1697.9 918.0,1681.6 918.0,1665.2 918.0,1648.9 918.0,1632.5 918.0,1616.2 918.0,1599.8 918.0,1583.5 918.0,1567.1 918.0,1550.7 918.0,1534.4 918.0,1518.0 918.0,1501.6 918.0,1485.3 918.0,1468.9 918.0,1452.6 918.0,1436.2 918.0,1419.9 918.0,1403.5 918.0,1387.1 918.0,1370.8 918.0,1354.4 918.0,1338.1 918.0,1321.8 918.0,1305.4 918.0,1289.1 918.0,1272.8 918.0,1256.4 918.0,1240.1 918.0,1223.8 918.0,1207.5 918.0,1191.2 918.0,1174.9 918.0,1158.6 918.0,1142.3 918.0,1126.0 918.0,1109.8 918.0,1093.5 918.0,1077.2 918.0,1061.0 918.0,1044.7 918.0,1028.5 918.0,1012.3 918.0,996.1 918.0,979.9 918.0,963.7 918.0,947.5 918.0,931.3 918.0,915.2 918.0,899.0 918.0,882.9 918.0,866.8 918.0,850.7 918.0,834.6 918.0,818.5 918.0,802.4 918.0,786.3 918.0,770.3 918.0,754.3 918.0,738.2 918.0,722.2 918.0,706.3 918.0,690.3 918.0,674.3 918.0,658.4 918.0,642.4 918.0,626.5 918.0,610.6 918.0,594.8 918.0,578.9 918.0,563.1 918.0,547.2 918.0,531.4 918.0,515.7 918.0,499.9 918.0,484.1 918.0,468.4 918.0,452.7 918.0,437.0 918.0,421.3 918.0,405.7 918.0,390.1 918.0,374.4 918.0,358.9 918.0,343.3 918.0,327.8 918.0,312.2 918.0,296.7 918.0,281.3 918.0,265.8 918.0,250.4 918.0,235.0 918.0,219.6 918.0,204.2 918.0,188.9 918.0,173.6 918.0,158.3 918.0,143.1 918.0,127.8 918.0,112.6 918.0,97.5 918.0,82.3 918.0,67.2 918.0,52.1 918.0,37.0 918.0,22.0 918.0,7.0 918.0,-8.0 918.0,-23.0 918.0,-37.9 918.0,-52.8 918.0,-67.7 918.0,-82.5 918.0,-97.3 918.0,-112.1 918.0,-126.9 918.0,-141.6 918.0,-156.3 918.0,-170.9 918.0,-185.6 918.0,-200.1 918.0,-214.7 918.0,-229.2 918.0,-243.7 918.0,-258.2 918.0,-272.6 918.0,-287.0 918.0,-301.4 918.0,-315.7 918.0,-330.0 918.0,-344.2 M1228.3,1832.3 L1227.2,1816.0 1226.1,1799.7 1225.0,1783.3 1223.8,1767.0 1222.6,1750.7 1221.4,1734.4 1220.2,1718.0 1219.0,1701.7 1217.8,1685.4 1216.5,1669.0 1215.2,1652.7 1213.9,1636.3 1212.6,1620.0 1211.3,1603.6 1210.0,1587.3 1208.6,1570.9 1207.3,1554.6 1205.9,1538.2 1204.5,1521.9 1203.0,1505.6 1201.6,1489.2 1200.2,1472.9 1198.7,1456.5 1197.2,1440.2 1195.7,1423.8 1194.2,1407.5 1192.7,1391.2 1191.1,1374.8 1189.6,1358.5 1188.0,1342.2 1186.4,1325.9 1184.8,1309.6 1183.2,1293.3 1181.5,1277.0 1179.9,1260.7 1178.2,1244.4 1176.5,1228.1 1174.8,1211.8 1173.1,1195.5 1171.4,1179.3 1169.6,1163.0 1167.8,1146.8 1166.1,1130.5 1164.3,1114.3 1162.4,1098.1 1160.6,1081.8 1158.8,1065.6 1156.9,1049.4 1155.0,1033.3 1153.2,1017.1 1151.3,1000.9 1149.3,984.8 1147.4,968.6 1145.5,952.5 1143.5,936.4 1141.5,920.2 1139.5,904.1 1137.5,888.1 1135.5,872.0 1133.4,855.9 1131.4,839.9 1129.3,823.9 1127.2,807.8 1125.1,791.8 1123.0,775.8 1120.9,759.9 1118.7,743.9 1116.6,728.0 1114.4,712.1 1112.2,696.1 1110.0,680.2 1107.8,664.4 1105.5,648.5 1103.3,632.7 1101.0,616.9 1098.7,601.0 1096.4,585.3 1094.1,569.5 1091.8,553.7 1089.4,538.0 1087.1,522.3 1084.7,506.6 1082.3,491.0 1079.9,475.3 1077.5,459.7 1075.1,444.1 1072.6,428.5 1070.2,412.9 1067.7,397.4 1065.2,381.9 1062.7,366.4 1060.2,350.9 1057.6,335.5 1055.1,320.0 1052.5,304.6 1049.9,289.3 1047.3,273.9 1044.7,258.6 1042.1,243.3 1039.5,228.0 1036.8,212.8 1034.1,197.5 1031.5,182.3 1028.7,167.2 1026.0,152.0 1023.3,136.9 1020.6,121.8 1017.8,106.8 1015.0,91.7 1012.2,76.7 1009.4,61.7 1006.6,46.8 1003.8,31.9 1000.9,17.0 998.0,2.1 995.2,-12.7 992.3,-27.5 989.3,-42.3 986.4,-57.0 983.5,-71.7 980.5,-86.4 977.5,-101.0 974.6,-115.6 971.6,-130.2 968.5,-144.7 965.5,-159.2 962.4,-173.7 959.4,-188.1 956.3,-202.6 953.2,-216.9 950.1,-231.3 947.0,-245.6 943.8,-259.8 940.6,-274.1 937.5,-288.3 934.3,-302.4 931.1,-316.5 927.8,-330.6 924.6,-344.7 M1535.0,1794.6 L1532.8,1778.3 1530.5,1761.9 1528.2,1745.6 1525.9,1729.3 1523.5,1712.9 1521.1,1696.6 1518.7,1680.3 1516.2,1663.9 1513.8,1647.6 1511.2,1631.3 1508.7,1615.0 1506.1,1598.6 1503.5,1582.3 1500.8,1566.0 1498.1,1549.7 1495.4,1533.3 1492.7,1517.0 1489.9,1500.7 1487.1,1484.4 1484.3,1468.1 1481.4,1451.8 1478.5,1435.5 1475.5,1419.2 1472.6,1403.0 1469.6,1386.7 1466.5,1370.4 1463.5,1354.2 1460.4,1337.9 1457.2,1321.7 1454.1,1305.4 1450.9,1289.2 1447.7,1273.0 1444.4,1256.8 1441.1,1240.6 1437.8,1224.4 1434.5,1208.2 1431.1,1192.0 1427.7,1175.8 1424.3,1159.7 1420.8,1143.5 1417.3,1127.4 1413.8,1111.3 1410.2,1095.2 1406.6,1079.1 1403.0,1063.0 1399.4,1046.9 1395.7,1030.8 1392.0,1014.8 1388.2,998.8 1384.5,982.7 1380.7,966.7 1376.8,950.8 1373.0,934.8 1369.1,918.8 1365.1,902.9 1361.2,887.0 1357.2,871.0 1353.2,855.1 1349.2,839.3 1345.1,823.4 1341.0,807.6 1336.9,791.8 1332.7,775.9 1328.5,760.2 1324.3,744.4 1320.0,728.6 1315.8,712.9 1311.5,697.2 1307.1,681.5 1302.7,665.9 1298.3,650.2 1293.9,634.6 1289.5,619.0 1285.0,603.4 1280.5,587.9 1275.9,572.3 1271.3,556.8 1266.7,541.3 1262.1,525.9 1257.5,510.4 1252.8,495.0 1248.0,479.6 1243.3,464.2 1238.5,448.9 1233.7,433.6 1228.9,418.3 1224.0,403.0 1219.1,387.8 1214.2,372.6 1209.2,357.4 1204.3,342.3 1199.3,327.1 1194.2,312.0 1189.1,297.0 1184.1,281.9 1178.9,266.9 1173.8,251.9 1168.6,237.0 1163.4,222.1 1158.1,207.2 1152.9,192.3 1147.6,177.5 1142.2,162.7 1136.9,147.9 1131.5,133.2 1126.1,118.5 1120.6,103.8 1115.2,89.2 1109.7,74.6 1104.1,60.1 1098.6,45.5 1093.0,31.0 1087.4,16.6 1081.7,2.1 1076.0,-12.2 1070.3,-26.6 1064.6,-40.9 1058.8,-55.2 1053.0,-69.4 1047.2,-83.6 1041.4,-97.8 1035.5,-111.9 1029.6,-126.0 1023.6,-140.1 1017.7,-154.1 1011.7,-168.1 1005.6,-182.0 999.6,-195.9 993.5,-209.7 987.4,-223.5 981.2,-237.3 975.1,-251.0 968.8,-264.7 962.6,-278.4 956.3,-292.0 950.1,-305.5 943.7,-319.1 937.4,-332.5 931.0,-346.0 M-763.0,423.4 L-757.0,432.9 -750.9,442.4 -744.7,451.8 -738.5,461.1 -732.1,470.4 -725.7,479.6 -719.2,488.7 -712.5,497.8 -705.8,506.9 -699.1,515.9 -692.2,524.8 -685.2,533.7 -678.2,542.5 -671.0,551.2 -663.8,559.9 -656.5,568.5 -649.2,577.1 -641.7,585.6 -634.2,594.1 -626.6,602.5 -618.9,610.8 -611.1,619.1 -603.3,627.3 -595.4,635.5 -587.4,643.6 -579.3,651.6 -571.2,659.6 -563.0,667.5 -554.7,675.4 -546.3,683.2 -537.9,690.9 -529.4,698.6 -520.8,706.3 -512.2,713.8 -503.5,721.3 -494.7,728.8 -485.9,736.2 -477.0,743.5 -468.0,750.8 -459.0,758.0 -449.9,765.1 -440.7,772.2 -431.5,779.2 -422.2,786.2 -412.8,793.1 -403.4,800.0 -394.0,806.7 -384.4,813.5 -374.8,820.1 -365.2,826.7 -355.5,833.3 -345.7,839.8 -335.9,846.2 -326.0,852.6 -316.1,858.9 -306.1,865.1 -296.1,871.3 -286.0,877.4 -275.8,883.5 -265.6,889.5 -255.4,895.4 -245.1,901.3 -234.7,907.2 -224.3,912.9 -213.9,918.6 -203.4,924.3 -192.8,929.9 -182.2,935.4 -171.6,940.8 -160.9,946.2 -150.2,951.6 -139.4,956.9 -128.6,962.1 -117.7,967.3 -106.8,972.4 -95.8,977.4 -84.8,982.4 -73.8,987.3 -62.7,992.2 -51.6,997.0 -40.4,1001.7 -29.2,1006.4 -18.0,1011.0 -6.7,1015.6 4.6,1020.1 16.0,1024.5 27.4,1028.9 38.8,1033.2 50.2,1037.5 61.7,1041.7 73.3,1045.8 84.9,1049.9 96.5,1053.9 108.1,1057.9 119.8,1061.8 131.5,1065.6 143.2,1069.4 155.0,1073.1 166.8,1076.7 178.6,1080.3 190.4,1083.9 202.3,1087.4 214.2,1090.8 226.2,1094.1 238.1,1097.4 250.1,1100.7 262.2,1103.8 274.2,1107.0 286.3,1110.0 298.4,1113.0 310.5,1116.0 322.6,1118.8 334.8,1121.6 347.0,1124.4 359.2,1127.1 371.5,1129.7 383.7,1132.3 396.0,1134.8 408.3,1137.3 420.6,1139.7 433.0,1142.0 445.3,1144.3 457.7,1146.5 470.1,1148.7 482.5,1150.8 494.9,1152.8 507.4,1154.8 519.8,1156.7 532.3,1158.6 544.8,1160.4 557.3,1162.1 569.8,1163.8 582.3,1165.4 594.9,1166.9 607.4,1168.4 620.0,1169.9 632.6,1171.3 645.2,1172.6 657.8,1173.8 670.4,1175.0 683.0,1176.2 695.7,1177.3 708.3,1178.3 720.9,1179.2 733.6,1180.1 746.3,1181.0 758.9,1181.8 771.6,1182.5 784.3,1183.1 797.0,1183.7 809.7,1184.3 822.4,1184.8 835.1,1185.2 847.8,1185.5 860.5,1185.8 873.2,1186.1 885.9,1186.3 898.6,1186.4 911.3,1186.4 924.0,1186.4 936.7,1186.4 949.4,1186.3 962.1,1186.1 974.8,1185.9 987.5,1185.6 1000.3,1185.2 1012.9,1184.8 1025.6,1184.3 1038.3,1183.8 1051.0,1183.2 1063.7,1182.5 1076.4,1181.8 1089.0,1181.0 1101.7,1180.2 1114.4,1179.3 1127.0,1178.3 1139.7,1177.3 1152.3,1176.2 1164.9,1175.1 1177.5,1173.9 1190.1,1172.7 1202.7,1171.3 1215.3,1170.0 1227.9,1168.5 1240.4,1167.0 1253.0,1165.5 1265.5,1163.9 1278.0,1162.2 1290.5,1160.5 1303.0,1158.7 1315.5,1156.8 1328.0,1154.9 1340.4,1152.9 1352.8,1150.9 1365.2,1148.8 1377.6,1146.6 1390.0,1144.4 1402.4,1142.2 1414.7,1139.8 1427.0,1137.4 1439.3,1135.0 1451.6,1132.5 1463.9,1129.9 1476.1,1127.3 1488.3,1124.6 1500.5,1121.8 1512.7,1119.0 1524.8,1116.1 1537.0,1113.2 1549.1,1110.2 1561.1,1107.1 1573.2,1104.0 1585.2,1100.9 1597.2,1097.6 1609.2,1094.3 1621.1,1091.0 1633.0,1087.6 1644.9,1084.1 1656.8,1080.6 1668.6,1077.0 1680.4,1073.3 1692.2,1069.6 1703.9,1065.8 1715.6,1062.0 1727.3,1058.1 1738.9,1054.1 1750.5,1050.1 1762.1,1046.0 1773.6,1041.9 1785.1,1037.7 1796.6,1033.5 1808.0,1029.1 1819.4,1024.8 1830.8,1020.3 1842.1,1015.8 1853.4,1011.3 1864.6,1006.7 1875.8,1002.0 1887.0,997.2 1898.1,992.4 1909.2,987.6 1920.3,982.7 1931.3,977.7 1942.2,972.7 1953.1,967.6 1964.0,962.4 1974.8,957.2 1985.6,951.9 1996.3,946.6 2007.0,941.2 2017.7,935.7 2028.3,930.2 2038.8,924.6 2049.3,919.0 2059.8,913.3 2070.2,907.5 2080.5,901.7 2090.8,895.8 2101.1,889.9 2111.3,883.9 2121.4,877.8 2131.5,871.7 2141.6,865.5 2151.6,859.2 2161.5,852.9 2171.4,846.6 2181.2,840.2 2191.0,833.7 2200.7,827.1 2210.3,820.5 2219.9,813.9 2229.5,807.1 2238.9,800.4 2248.3,793.5 2257.7,786.6 2267.0,779.6 2276.2,772.6 2285.4,765.5 2294.5,758.4 2303.5,751.2 2312.5,743.9 2321.4,736.6 2330.3,729.2 2339.0,721.8 2347.7,714.3 2356.4,706.7 2364.9,699.1 2373.5,691.4 2381.9,683.7 2390.2,675.9 2398.5,668.0 2406.8,660.1 2414.9,652.1 2423.0,644.1 2431.0,636.0 2438.9,627.8 2446.7,619.6 2454.5,611.3 2462.2,603.0 2469.8,594.6 2477.3,586.1 2484.8,577.6 2492.2,569.0 2499.5,560.4 2506.7,551.7 2513.8,543.0 2520.9,534.2 2527.8,525.3 2534.7,516.4 2541.5,507.4 2548.2,498.4 2554.8,489.3 2561.4,480.1 2567.8,470.9 2574.2,461.6 2580.4,452.3 2586.6,442.9 2592.7,433.5 2598.7,424.0 2604.6,414.4 2610.4,404.8 2616.1,395.2 2621.7,385.4 2627.2,375.7 2632.7,365.8 2638.0,355.9 2643.2,346.0 2648.3,336.0 2653.3,325.9 2658.3,315.8 2663.1,305.6 2667.8,295.4 2672.4,285.1 2676.9,274.8 2681.3,264.4 2685.6,253.9 2689.8,243.4 2693.9,232.9 2697.8,222.3 M-621.2,297.8 L-616.0,306.7 -610.7,315.5 -605.3,324.3 -599.9,333.1 -594.3,341.8 -588.7,350.5 -583.0,359.1 -577.1,367.6 -571.2,376.1 -565.3,384.6 -559.2,393.0 -553.1,401.3 -546.8,409.6 -540.5,417.9 -534.1,426.1 -527.7,434.2 -521.1,442.3 -514.5,450.3 -507.8,458.3 -501.0,466.2 -494.2,474.1 -487.3,481.9 -480.3,489.7 -473.2,497.4 -466.0,505.1 -458.8,512.7 -451.5,520.2 -444.2,527.7 -436.7,535.2 -429.2,542.6 -421.7,549.9 -414.0,557.2 -406.3,564.4 -398.5,571.6 -390.7,578.7 -382.8,585.7 -374.8,592.7 -366.8,599.7 -358.7,606.6 -350.5,613.4 -342.3,620.2 -334.0,626.9 -325.6,633.6 -317.2,640.2 -308.7,646.8 -300.2,653.3 -291.6,659.7 -283.0,666.1 -274.2,672.5 -265.5,678.8 -256.7,685.0 -247.8,691.2 -238.8,697.3 -229.9,703.3 -220.8,709.3 -211.7,715.3 -202.6,721.2 -193.4,727.0 -184.1,732.8 -174.8,738.5 -165.4,744.2 -156.0,749.8 -146.6,755.3 -137.1,760.8 -127.5,766.3 -117.9,771.7 -108.2,777.0 -98.6,782.3 -88.8,787.5 -79.0,792.6 -69.2,797.7 -59.3,802.8 -49.4,807.8 -39.4,812.7 -29.4,817.6 -19.3,822.4 -9.2,827.1 0.9,831.8 11.1,836.5 21.3,841.1 31.5,845.6 41.8,850.1 52.2,854.5 62.5,858.9 73.0,863.2 83.4,867.4 93.9,871.6 104.4,875.7 115.0,879.8 125.6,883.8 136.2,887.8 146.8,891.7 157.5,895.5 168.3,899.3 179.0,903.1 189.8,906.7 200.6,910.3 211.5,913.9 222.4,917.4 233.3,920.9 244.2,924.2 255.2,927.6 266.2,930.9 277.2,934.1 288.3,937.2 299.4,940.3 310.5,943.4 321.6,946.4 332.8,949.3 343.9,952.2 355.1,955.0 366.4,957.7 377.6,960.4 388.9,963.1 400.2,965.7 411.5,968.2 422.9,970.7 434.2,973.1 445.6,975.4 457.0,977.7 468.4,980.0 479.9,982.2 491.3,984.3 502.8,986.4 514.3,988.4 525.8,990.3 537.3,992.2 548.9,994.1 560.4,995.9 572.0,997.6 583.6,999.3 595.2,1000.9 606.8,1002.4 618.4,1003.9 630.0,1005.4 641.7,1006.7 653.4,1008.1 665.0,1009.3 676.7,1010.5 688.4,1011.7 700.1,1012.8 711.8,1013.8 723.5,1014.8 735.3,1015.7 747.0,1016.6 758.7,1017.4 770.5,1018.1 782.2,1018.8 794.0,1019.5 805.8,1020.0 817.5,1020.6 829.3,1021.0 841.1,1021.4 852.9,1021.8 864.6,1022.1 876.4,1022.3 888.2,1022.5 900.0,1022.6 911.8,1022.6 923.6,1022.6 935.4,1022.6 947.2,1022.5 958.9,1022.3 970.7,1022.1 982.5,1021.8 994.3,1021.4 1006.1,1021.0 1017.8,1020.6 1029.6,1020.1 1041.4,1019.5 1053.1,1018.9 1064.9,1018.2 1076.6,1017.4 1088.4,1016.6 1100.1,1015.8 1111.8,1014.8 1123.6,1013.9 1135.3,1012.8 1147.0,1011.7 1158.7,1010.6 1170.3,1009.4 1182.0,1008.1 1193.7,1006.8 1205.3,1005.4 1217.0,1004.0 1228.6,1002.5 1240.2,1001.0 1251.8,999.4 1263.4,997.7 1275.0,996.0 1286.5,994.2 1298.1,992.3 1309.6,990.5 1321.1,988.5 1332.6,986.5 1344.1,984.4 1355.5,982.3 1367.0,980.1 1378.4,977.9 1389.8,975.6 1401.2,973.2 1412.5,970.8 1423.9,968.4 1435.2,965.8 1446.5,963.2 1457.8,960.6 1469.0,957.9 1480.3,955.2 1491.5,952.3 1502.7,949.5 1513.8,946.5 1524.9,943.6 1536.1,940.5 1547.1,937.4 1558.2,934.3 1569.2,931.0 1580.2,927.8 1591.2,924.4 1602.1,921.1 1613.0,917.6 1623.9,914.1 1634.8,910.6 1645.6,906.9 1656.4,903.3 1667.2,899.5 1677.9,895.8 1688.6,891.9 1699.2,888.0 1709.9,884.1 1720.5,880.0 1731.0,876.0 1741.5,871.8 1752.0,867.7 1762.5,863.4 1772.9,859.1 1783.3,854.8 1793.6,850.3 1803.9,845.9 1814.2,841.3 1824.4,836.8 1834.6,832.1 1844.7,827.4 1854.8,822.7 1864.9,817.8 1874.9,813.0 1884.8,808.1 1894.8,803.1 1904.7,798.0 1914.5,792.9 1924.3,787.8 1934.0,782.6 1943.7,777.3 1953.4,772.0 1963.0,766.6 1972.6,761.2 1982.1,755.7 1991.5,750.1 2000.9,744.5 2010.3,738.9 2019.6,733.1 2028.9,727.4 2038.1,721.5 2047.2,715.6 2056.3,709.7 2065.4,703.7 2074.4,697.6 2083.3,691.5 2092.2,685.4 2101.0,679.1 2109.8,672.9 2118.5,666.5 2127.2,660.1 2135.8,653.7 2144.3,647.2 2152.8,640.6 2161.2,634.0 2169.5,627.3 2177.8,620.6 2186.1,613.8 2194.2,607.0 2202.3,600.1 2210.4,593.1 2218.4,586.1 2226.3,579.1 2234.1,572.0 2241.9,564.8 2249.6,557.6 2257.3,550.3 2264.8,543.0 2272.3,535.6 2279.8,528.2 2287.2,520.7 2294.4,513.1 2301.7,505.5 2308.8,497.9 2315.9,490.2 2322.9,482.4 2329.8,474.6 2336.7,466.7 2343.5,458.8 2350.2,450.8 2356.8,442.8 2363.4,434.7 2369.8,426.6 2376.2,418.4 2382.5,410.1 2388.8,401.8 2394.9,393.5 2401.0,385.1 2407.0,376.6 2412.9,368.1 2418.7,359.6 2424.4,351.0 2430.1,342.3 2435.6,333.6 2441.1,324.9 2446.5,316.0 2451.8,307.2 2457.0,298.3 2462.1,289.3 2467.1,280.3 2472.1,271.2 2476.9,262.1 2481.7,253.0 2486.3,243.8 2490.9,234.5 2495.3,225.2 2499.7,215.9 2504.0,206.5 2508.2,197.0 2512.2,187.5 2516.2,178.0 2520.1,168.4 2523.9,158.7 2527.6,149.1 2531.1,139.3 2534.6,129.6 2538.0,119.7 2541.3,109.9 M-471.8,181.6 L-467.4,189.8 -462.9,198.0 -458.2,206.1 -453.6,214.2 -448.8,222.3 -443.9,230.3 -439.0,238.2 -434.0,246.2 -428.9,254.0 -423.7,261.9 -418.4,269.6 -413.1,277.4 -407.7,285.1 -402.2,292.7 -396.6,300.3 -391.0,307.9 -385.3,315.4 -379.5,322.8 -373.6,330.2 -367.7,337.6 -361.7,344.9 -355.6,352.2 -349.4,359.4 -343.2,366.6 -336.9,373.7 -330.6,380.8 -324.1,387.8 -317.6,394.8 -311.1,401.7 -304.4,408.6 -297.7,415.4 -291.0,422.2 -284.2,429.0 -277.3,435.6 -270.3,442.3 -263.3,448.9 -256.2,455.4 -249.0,461.9 -241.8,468.3 -234.6,474.7 -227.2,481.1 -219.8,487.4 -212.4,493.6 -204.9,499.8 -197.3,505.9 -189.7,512.0 -182.0,518.1 -174.3,524.0 -166.5,530.0 -158.6,535.9 -150.7,541.7 -142.8,547.5 -134.8,553.2 -126.7,558.9 -118.6,564.5 -110.4,570.1 -102.2,575.6 -93.9,581.1 -85.6,586.5 -77.2,591.9 -68.8,597.2 -60.3,602.5 -51.8,607.7 -43.2,612.8 -34.6,617.9 -26.0,623.0 -17.3,628.0 -8.5,633.0 0.3,637.9 9.1,642.7 18.0,647.5 26.9,652.3 35.9,656.9 44.9,661.6 54.0,666.2 63.1,670.7 72.2,675.2 81.4,679.6 90.6,684.0 99.9,688.3 109.2,692.6 118.5,696.8 127.9,700.9 137.3,705.1 146.7,709.1 156.2,713.1 165.7,717.1 175.3,721.0 184.9,724.8 194.5,728.6 204.1,732.3 213.8,736.0 223.5,739.6 233.3,743.2 243.1,746.7 252.9,750.2 262.7,753.6 272.6,757.0 282.5,760.3 292.4,763.5 302.4,766.7 312.4,769.9 322.4,773.0 332.4,776.0 342.5,779.0 352.6,781.9 362.7,784.8 372.9,787.6 383.1,790.4 393.2,793.1 403.5,795.8 413.7,798.4 424.0,800.9 434.3,803.4 444.6,805.9 454.9,808.3 465.3,810.6 475.6,812.9 486.0,815.1 496.4,817.3 506.9,819.4 517.3,821.5 527.8,823.5 538.2,825.4 548.7,827.3 559.3,829.2 569.8,831.0 580.3,832.7 590.9,834.4 601.5,836.1 612.1,837.6 622.7,839.2 633.3,840.6 643.9,842.0 654.6,843.4 665.2,844.7 675.9,846.0 686.5,847.2 697.2,848.3 707.9,849.4 718.6,850.4 729.3,851.4 740.1,852.3 750.8,853.2 761.5,854.0 772.3,854.8 783.0,855.5 793.8,856.2 804.5,856.8 815.3,857.3 826.1,857.8 836.8,858.2 847.6,858.6 858.4,858.9 869.2,859.2 880.0,859.4 890.7,859.6 901.5,859.7 912.3,859.8 923.1,859.8 933.9,859.7 944.7,859.6 955.5,859.4 966.3,859.2 977.0,859.0 987.8,858.6 998.6,858.3 1009.4,857.8 1020.1,857.3 1030.9,856.8 1041.7,856.2 1052.4,855.5 1063.2,854.8 1073.9,854.1 1084.6,853.3 1095.4,852.4 1106.1,851.5 1116.8,850.5 1127.5,849.5 1138.2,848.4 1148.9,847.2 1159.6,846.0 1170.2,844.8 1180.9,843.5 1191.5,842.1 1202.2,840.7 1212.8,839.2 1223.4,837.7 1234.0,836.1 1244.5,834.5 1255.1,832.8 1265.6,831.1 1276.2,829.3 1286.7,827.5 1297.2,825.6 1307.7,823.6 1318.1,821.6 1328.6,819.5 1339.0,817.4 1349.4,815.2 1359.8,813.0 1370.2,810.7 1380.5,808.4 1390.9,806.0 1401.2,803.6 1411.5,801.1 1421.7,798.5 1432.0,795.9 1442.2,793.3 1452.4,790.6 1462.6,787.8 1472.7,785.0 1482.9,782.1 1492.9,779.2 1503.0,776.2 1513.1,773.1 1523.1,770.1 1533.1,766.9 1543.0,763.7 1553.0,760.5 1562.9,757.2 1572.8,753.8 1582.6,750.4 1592.4,746.9 1602.2,743.4 1612.0,739.8 1621.7,736.2 1631.4,732.5 1641.0,728.8 1650.6,725.0 1660.2,721.2 1669.8,717.3 1679.3,713.3 1688.8,709.3 1698.2,705.3 1707.6,701.2 1717.0,697.0 1726.3,692.8 1735.6,688.6 1744.9,684.2 1754.1,679.9 1763.3,675.4 1772.4,671.0 1781.5,666.4 1790.6,661.9 1799.6,657.2 1808.6,652.5 1817.5,647.8 1826.4,643.0 1835.2,638.2 1844.0,633.3 1852.8,628.3 1861.5,623.3 1870.2,618.2 1878.8,613.1 1887.4,608.0 1895.9,602.8 1904.4,597.5 1912.8,592.2 1921.2,586.8 1929.5,581.4 1937.8,575.9 1946.0,570.4 1954.2,564.8 1962.3,559.2 1970.3,553.5 1978.4,547.8 1986.3,542.0 1994.2,536.2 2002.1,530.3 2009.9,524.4 2017.6,518.4 2025.3,512.4 2032.9,506.3 2040.5,500.2 2048.0,494.0 2055.5,487.7 2062.9,481.4 2070.2,475.1 2077.5,468.7 2084.7,462.3 2091.8,455.8 2098.9,449.3 2105.9,442.7 2112.9,436.0 2119.8,429.4 2126.6,422.6 2133.4,415.8 2140.1,409.0 2146.8,402.1 2153.3,395.2 2159.8,388.2 2166.3,381.2 2172.6,374.1 2178.9,367.0 2185.1,359.8 2191.3,352.6 2197.4,345.3 2203.4,338.0 2209.3,330.7 2215.2,323.3 2221.0,315.8 2226.7,308.3 2232.4,300.8 2237.9,293.2 2243.4,285.5 2248.8,277.8 2254.2,270.1 2259.4,262.3 2264.6,254.5 2269.7,246.6 2274.7,238.7 2279.7,230.8 2284.6,222.8 2289.3,214.7 2294.0,206.6 2298.6,198.5 2303.2,190.3 2307.6,182.1 2312.0,173.8 2316.3,165.5 2320.4,157.2 2324.5,148.8 2328.6,140.3 2332.5,131.9 2336.3,123.3 2340.1,114.8 2343.7,106.2 2347.3,97.6 2350.8,88.9 2354.1,80.2 2357.4,71.4 2360.6,62.6 2363.7,53.8 2366.7,44.9 2369.7,36.0 2372.5,27.0 2375.2,18.0 2377.8,9.0 M-315.5,75.3 L-311.7,82.7 -308.0,90.1 -304.1,97.5 -300.2,104.8 -296.1,112.1 -292.0,119.4 -287.9,126.6 -283.6,133.8 -279.3,140.9 -274.9,148.0 -270.5,155.1 -265.9,162.1 -261.3,169.1 -256.6,176.1 -251.9,183.0 -247.1,189.8 -242.2,196.7 -237.2,203.5 -232.2,210.2 -227.1,216.9 -221.9,223.6 -216.7,230.2 -211.4,236.8 -206.0,243.4 -200.6,249.9 -195.1,256.3 -189.5,262.7 -183.9,269.1 -178.2,275.5 -172.4,281.8 -166.6,288.0 -160.7,294.2 -154.8,300.4 -148.8,306.5 -142.7,312.6 -136.6,318.6 -130.4,324.6 -124.2,330.5 -117.9,336.5 -111.5,342.3 -105.1,348.1 -98.7,353.9 -92.1,359.6 -85.6,365.3 -78.9,370.9 -72.2,376.5 -65.5,382.1 -58.7,387.6 -51.8,393.0 -44.9,398.4 -38.0,403.8 -31.0,409.1 -23.9,414.4 -16.8,419.6 -9.7,424.8 -2.4,429.9 4.8,435.0 12.1,440.1 19.5,445.1 26.9,450.0 34.3,454.9 41.8,459.8 49.3,464.6 56.9,469.3 64.5,474.0 72.2,478.7 79.9,483.3 87.7,487.9 95.5,492.4 103.3,496.9 111.2,501.3 119.2,505.7 127.1,510.0 135.1,514.3 143.2,518.6 151.3,522.8 159.4,526.9 167.6,531.0 175.8,535.0 184.0,539.0 192.3,543.0 200.6,546.9 209.0,550.7 217.3,554.5 225.8,558.3 234.2,562.0 242.7,565.6 251.2,569.3 259.8,572.8 268.4,576.3 277.0,579.8 285.6,583.2 294.3,586.6 303.0,589.9 311.8,593.1 320.6,596.4 329.4,599.5 338.2,602.6 347.1,605.7 356.0,608.7 364.9,611.7 373.8,614.6 382.8,617.5 391.8,620.3 400.8,623.1 409.8,625.8 418.9,628.5 428.0,631.1 437.1,633.6 446.3,636.2 455.4,638.6 464.6,641.1 473.8,643.4 483.0,645.8 492.3,648.0 501.6,650.2 510.9,652.4 520.2,654.5 529.5,656.6 538.8,658.6 548.2,660.6 557.6,662.5 567.0,664.4 576.4,666.2 585.8,668.0 595.3,669.7 604.7,671.4 614.2,673.0 623.7,674.6 633.2,676.1 642.7,677.5 652.3,679.0 661.8,680.3 671.4,681.6 680.9,682.9 690.5,684.1 700.1,685.3 709.7,686.4 719.3,687.5 728.9,688.5 738.6,689.5 748.2,690.4 757.9,691.2 767.5,692.0 777.2,692.8 786.8,693.5 796.5,694.2 806.2,694.8 815.9,695.3 825.6,695.8 835.2,696.3 844.9,696.7 854.6,697.1 864.3,697.4 874.1,697.6 883.8,697.8 893.5,698.0 903.2,698.1 912.9,698.1 922.6,698.1 932.3,698.1 942.0,698.0 951.7,697.8 961.4,697.6 971.1,697.4 980.8,697.1 990.5,696.7 1000.2,696.3 1009.9,695.9 1019.6,695.4 1029.3,694.8 1039.0,694.2 1048.7,693.6 1058.3,692.8 1068.0,692.1 1077.6,691.3 1087.3,690.4 1096.9,689.5 1106.5,688.5 1116.2,687.5 1125.8,686.5 1135.4,685.4 1145.0,684.2 1154.6,683.0 1164.1,681.7 1173.7,680.4 1183.2,679.0 1192.8,677.6 1202.3,676.2 1211.8,674.7 1221.3,673.1 1230.8,671.5 1240.2,669.8 1249.7,668.1 1259.1,666.3 1268.5,664.5 1277.9,662.6 1287.3,660.7 1296.7,658.7 1306.0,656.7 1315.3,654.7 1324.7,652.5 1333.9,650.4 1343.2,648.2 1352.5,645.9 1361.7,643.6 1370.9,641.2 1380.1,638.8 1389.3,636.3 1398.4,633.8 1407.5,631.2 1416.6,628.6 1425.7,625.9 1434.7,623.2 1443.8,620.5 1452.8,617.6 1461.7,614.8 1470.7,611.9 1479.6,608.9 1488.5,605.9 1497.3,602.8 1506.2,599.7 1515.0,596.5 1523.8,593.3 1532.5,590.1 1541.2,586.8 1549.9,583.4 1558.6,580.0 1567.2,576.5 1575.8,573.0 1584.3,569.5 1592.9,565.9 1601.3,562.2 1609.8,558.5 1618.2,554.8 1626.6,551.0 1635.0,547.1 1643.3,543.2 1651.6,539.3 1659.8,535.3 1668.0,531.2 1676.2,527.1 1684.3,523.0 1692.4,518.8 1700.4,514.6 1708.5,510.3 1716.4,506.0 1724.4,501.6 1732.3,497.2 1740.1,492.7 1747.9,488.2 1755.7,483.6 1763.4,479.0 1771.1,474.3 1778.7,469.6 1786.3,464.8 1793.8,460.0 1801.3,455.2 1808.8,450.3 1816.2,445.3 1823.5,440.4 1830.8,435.3 1838.1,430.2 1845.3,425.1 1852.5,419.9 1859.6,414.7 1866.6,409.4 1873.6,404.1 1880.6,398.8 1887.5,393.3 1894.3,387.9 1901.1,382.4 1907.9,376.9 1914.6,371.3 1921.2,365.6 1927.8,360.0 1934.3,354.2 1940.8,348.5 1947.2,342.7 1953.6,336.8 1959.9,330.9 1966.1,325.0 1972.3,319.0 1978.4,312.9 1984.5,306.9 1990.5,300.7 1996.4,294.6 2002.3,288.4 2008.1,282.1 2013.9,275.8 2019.6,269.5 2025.2,263.1 2030.8,256.7 2036.3,250.2 2041.7,243.7 2047.1,237.2 2052.4,230.6 2057.6,224.0 2062.8,217.3 2067.9,210.6 2073.0,203.9 2077.9,197.1 2082.8,190.2 2087.7,183.4 2092.4,176.5 2097.1,169.5 2101.7,162.5 2106.3,155.5 2110.7,148.4 2115.1,141.3 2119.4,134.2 2123.7,127.0 2127.9,119.8 2132.0,112.5 2136.0,105.2 2139.9,97.9 2143.8,90.5 2147.6,83.1 2151.3,75.7 2154.9,68.2 2158.5,60.7 2162.0,53.2 2165.4,45.6 2168.7,38.0 2171.9,30.3 2175.1,22.6 2178.1,14.9 2181.1,7.2 2184.0,-0.6 2186.8,-8.4 2189.6,-16.3 2192.2,-24.2 2194.8,-32.1 2197.2,-40.0 2199.6,-48.0 2201.9,-56.0 2204.1,-64.0 2206.3,-72.1 2208.3,-80.2 M-152.8,-21.0 L-149.8,-14.4 -146.7,-7.9 -143.6,-1.4 -140.3,5.1 -137.0,11.6 -133.7,18.0 -130.3,24.4 -126.8,30.8 -123.2,37.1 -119.6,43.4 -115.9,49.7 -112.1,55.9 -108.3,62.1 -104.4,68.3 -100.4,74.4 -96.4,80.5 -92.3,86.6 -88.2,92.6 -83.9,98.6 -79.7,104.6 -75.3,110.5 -70.9,116.5 -66.5,122.3 -61.9,128.2 -57.4,134.0 -52.7,139.7 -48.0,145.4 -43.3,151.1 -38.5,156.8 -33.6,162.4 -28.7,168.0 -23.7,173.5 -18.6,179.1 -13.5,184.5 -8.4,190.0 -3.2,195.4 2.1,200.7 7.4,206.0 12.8,211.3 18.2,216.6 23.7,221.8 29.2,227.0 34.8,232.1 40.5,237.2 46.1,242.2 51.9,247.3 57.7,252.2 63.5,257.2 69.4,262.1 75.3,266.9 81.3,271.8 87.3,276.5 93.4,281.3 99.5,286.0 105.7,290.6 111.9,295.3 118.2,299.8 124.5,304.4 130.8,308.9 137.2,313.3 143.6,317.7 150.1,322.1 156.6,326.4 163.2,330.7 169.8,335.0 176.4,339.2 183.1,343.4 189.9,347.5 196.6,351.6 203.4,355.6 210.3,359.6 217.2,363.6 224.1,367.5 231.0,371.3 238.0,375.2 245.1,379.0 252.1,382.7 259.3,386.4 266.4,390.1 273.6,393.7 280.8,397.2 288.0,400.8 295.3,404.3 302.6,407.7 310.0,411.1 317.3,414.4 324.7,417.8 332.2,421.0 339.7,424.2 347.2,427.4 354.7,430.6 362.3,433.7 369.8,436.7 377.5,439.7 385.1,442.7 392.8,445.6 400.5,448.4 408.2,451.3 416.0,454.1 423.8,456.8 431.6,459.5 439.4,462.1 447.3,464.7 455.1,467.3 463.0,469.8 471.0,472.3 478.9,474.7 486.9,477.1 494.9,479.4 502.9,481.7 511.0,484.0 519.0,486.2 527.1,488.3 535.2,490.4 543.3,492.5 551.5,494.5 559.6,496.5 567.8,498.4 576.0,500.3 584.2,502.1 592.4,503.9 600.7,505.7 609.0,507.4 617.2,509.0 625.5,510.6 633.8,512.2 642.2,513.7 650.5,515.2 658.8,516.6 667.2,518.0 675.6,519.3 684.0,520.6 692.4,521.9 700.8,523.1 709.2,524.2 717.6,525.3 726.1,526.4 734.5,527.4 743.0,528.4 751.5,529.3 759.9,530.2 768.4,531.0 776.9,531.8 785.4,532.5 793.9,533.2 802.4,533.9 811.0,534.5 819.5,535.0 828.0,535.5 836.6,536.0 845.1,536.4 853.6,536.8 862.2,537.1 870.7,537.4 879.3,537.6 887.8,537.8 896.4,537.9 904.9,538.0 913.5,538.1 922.1,538.1 930.6,538.0 939.2,537.9 947.7,537.8 956.3,537.6 964.8,537.4 973.4,537.1 981.9,536.8 990.5,536.4 999.0,536.0 1007.5,535.5 1016.1,535.0 1024.6,534.5 1033.1,533.9 1041.6,533.2 1050.1,532.6 1058.6,531.8 1067.1,531.0 1075.6,530.2 1084.1,529.3 1092.6,528.4 1101.0,527.5 1109.5,526.4 1117.9,525.4 1126.4,524.3 1134.8,523.1 1143.2,521.9 1151.6,520.7 1160.0,519.4 1168.4,518.1 1176.7,516.7 1185.1,515.3 1193.4,513.8 1201.7,512.3 1210.0,510.7 1218.3,509.1 1226.6,507.5 1234.9,505.8 1243.1,504.0 1251.4,502.2 1259.6,500.4 1267.8,498.5 1275.9,496.6 1284.1,494.6 1292.2,492.6 1300.4,490.5 1308.5,488.4 1316.6,486.3 1324.6,484.1 1332.7,481.8 1340.7,479.6 1348.7,477.2 1356.7,474.8 1364.6,472.4 1372.5,470.0 1380.5,467.4 1388.3,464.9 1396.2,462.3 1404.0,459.6 1411.8,457.0 1419.6,454.2 1427.4,451.4 1435.1,448.6 1442.8,445.7 1450.5,442.8 1458.1,439.9 1465.8,436.9 1473.4,433.8 1480.9,430.7 1488.5,427.6 1496.0,424.4 1503.4,421.2 1510.9,417.9 1518.3,414.6 1525.7,411.3 1533.0,407.9 1540.3,404.5 1547.6,401.0 1554.9,397.4 1562.1,393.9 1569.2,390.3 1576.4,386.6 1583.5,382.9 1590.6,379.2 1597.6,375.4 1604.6,371.6 1611.6,367.7 1618.5,363.8 1625.4,359.8 1632.2,355.8 1639.0,351.8 1645.8,347.7 1652.5,343.6 1659.2,339.4 1665.9,335.2 1672.5,331.0 1679.0,326.7 1685.6,322.4 1692.0,318.0 1698.5,313.6 1704.9,309.1 1711.2,304.6 1717.5,300.1 1723.8,295.5 1730.0,290.9 1736.2,286.2 1742.3,281.6 1748.4,276.8 1754.4,272.0 1760.4,267.2 1766.3,262.4 1772.2,257.5 1778.1,252.5 1783.8,247.6 1789.6,242.5 1795.3,237.5 1800.9,232.4 1806.5,227.3 1812.0,222.1 1817.5,216.9 1822.9,211.6 1828.3,206.4 1833.6,201.0 1838.9,195.7 1844.1,190.3 1849.3,184.8 1854.4,179.4 1859.4,173.9 1864.4,168.3 1869.4,162.7 1874.2,157.1 1879.0,151.5 1883.8,145.8 1888.5,140.1 1893.2,134.3 1897.7,128.5 1902.3,122.7 1906.7,116.8 1911.1,110.9 1915.5,105.0 1919.7,99.0 1924.0,93.0 1928.1,87.0 1932.2,80.9 1936.2,74.8 1940.2,68.6 1944.1,62.5 1947.9,56.3 1951.7,50.0 1955.4,43.8 1959.0,37.5 1962.6,31.1 1966.1,24.8 1969.5,18.4 1972.9,12.0 1976.2,5.5 1979.4,-1.0 1982.6,-7.5 1985.7,-14.0 1988.7,-20.6 1991.6,-27.2 1994.5,-33.8 1997.3,-40.5 2000.0,-47.2 2002.7,-53.9 2005.3,-60.6 2007.8,-67.4 2010.2,-74.2 2012.6,-81.0 2014.9,-87.8 2017.1,-94.7 2019.2,-101.6 2021.3,-108.5 2023.3,-115.5 2025.2,-122.4 2027.0,-129.4 2028.8,-136.5 2030.4,-143.5 2032.0,-150.6 2033.6,-157.6 M15.5,-106.9 L17.8,-101.3 20.2,-95.7 22.7,-90.1 25.3,-84.5 27.9,-79.0 30.5,-73.5 33.3,-68.0 36.1,-62.5 38.9,-57.1 41.8,-51.7 44.8,-46.3 47.8,-40.9 50.9,-35.6 54.0,-30.3 57.2,-25.0 60.4,-19.7 63.7,-14.5 67.1,-9.3 70.5,-4.1 74.0,1.0 77.5,6.2 81.1,11.2 84.7,16.3 88.4,21.4 92.2,26.4 95.9,31.3 99.8,36.3 103.7,41.2 107.6,46.1 111.6,51.0 115.7,55.8 119.8,60.6 123.9,65.4 128.1,70.1 132.4,74.9 136.7,79.5 141.0,84.2 145.4,88.8 149.9,93.4 154.4,98.0 158.9,102.5 163.5,107.0 168.1,111.5 172.8,115.9 177.5,120.3 182.3,124.7 187.1,129.0 192.0,133.3 196.9,137.6 201.8,141.8 206.8,146.0 211.8,150.2 216.9,154.3 222.0,158.4 227.2,162.4 232.4,166.5 237.6,170.5 242.9,174.4 248.2,178.4 253.6,182.3 259.0,186.1 264.4,189.9 269.9,193.7 275.4,197.5 280.9,201.2 286.5,204.9 292.1,208.5 297.8,212.1 303.5,215.7 309.2,219.2 315.0,222.7 320.8,226.2 326.6,229.6 332.5,233.0 338.4,236.4 344.3,239.7 350.3,243.0 356.3,246.2 362.4,249.4 368.4,252.6 374.5,255.8 380.6,258.9 386.8,261.9 393.0,264.9 399.2,267.9 405.5,270.9 411.7,273.8 418.0,276.6 424.4,279.5 430.7,282.3 437.1,285.0 443.5,287.8 450.0,290.4 456.5,293.1 463.0,295.7 469.5,298.2 476.0,300.8 482.6,303.3 489.2,305.7 495.8,308.1 502.4,310.5 509.1,312.8 515.8,315.1 522.5,317.4 529.2,319.6 536.0,321.8 542.8,323.9 549.5,326.0 556.4,328.1 563.2,330.1 570.0,332.1 576.9,334.0 583.8,335.9 590.7,337.8 597.6,339.6 604.6,341.4 611.6,343.1 618.5,344.8 625.5,346.5 632.5,348.1 639.6,349.7 646.6,351.2 653.7,352.7 660.7,354.2 667.8,355.6 674.9,357.0 682.0,358.3 689.1,359.6 696.3,360.9 703.4,362.1 710.6,363.3 717.8,364.4 724.9,365.5 732.1,366.6 739.3,367.6 746.5,368.6 753.8,369.5 761.0,370.4 768.2,371.3 775.5,372.1 782.7,372.9 790.0,373.6 797.3,374.3 804.5,375.0 811.8,375.6 819.1,376.1 826.4,376.7 833.7,377.2 841.0,377.6 848.3,378.0 855.6,378.4 862.9,378.7 870.2,379.0 877.5,379.2 884.9,379.5 892.2,379.6 899.5,379.7 906.8,379.8 914.2,379.9 921.5,379.9 928.8,379.8 936.1,379.7 943.4,379.6 950.8,379.5 958.1,379.3 965.4,379.0 972.7,378.7 980.0,378.4 987.3,378.0 994.6,377.6 1001.9,377.2 1009.2,376.7 1016.5,376.2 1023.8,375.6 1031.1,375.0 1038.4,374.3 1045.6,373.6 1052.9,372.9 1060.2,372.1 1067.4,371.3 1074.6,370.5 1081.9,369.6 1089.1,368.6 1096.3,367.7 1103.5,366.7 1110.7,365.6 1117.9,364.5 1125.1,363.4 1132.2,362.2 1139.4,361.0 1146.5,359.7 1153.6,358.4 1160.7,357.1 1167.8,355.7 1174.9,354.3 1182.0,352.8 1189.0,351.3 1196.1,349.8 1203.1,348.2 1210.1,346.6 1217.1,344.9 1224.1,343.2 1231.1,341.5 1238.0,339.7 1244.9,337.9 1251.8,336.0 1258.7,334.1 1265.6,332.2 1272.5,330.2 1279.3,328.2 1286.1,326.1 1292.9,324.0 1299.7,321.9 1306.4,319.7 1313.2,317.5 1319.9,315.3 1326.6,313.0 1333.2,310.6 1339.9,308.3 1346.5,305.9 1353.1,303.4 1359.7,300.9 1366.2,298.4 1372.7,295.8 1379.2,293.2 1385.7,290.6 1392.1,287.9 1398.6,285.2 1404.9,282.4 1411.3,279.6 1417.6,276.8 1423.9,273.9 1430.2,271.0 1436.5,268.1 1442.7,265.1 1448.9,262.1 1455.1,259.0 1461.2,255.9 1467.3,252.8 1473.4,249.6 1479.4,246.4 1485.4,243.2 1491.4,239.9 1497.3,236.6 1503.2,233.2 1509.1,229.8 1514.9,226.4 1520.7,223.0 1526.5,219.5 1532.2,215.9 1537.9,212.3 1543.6,208.7 1549.2,205.1 1554.8,201.4 1560.4,197.7 1565.9,193.9 1571.3,190.2 1576.8,186.3 1582.2,182.5 1587.5,178.6 1592.9,174.7 1598.1,170.7 1603.4,166.7 1608.6,162.7 1613.7,158.6 1618.9,154.5 1623.9,150.4 1629.0,146.2 1634.0,142.0 1638.9,137.8 1643.8,133.5 1648.7,129.2 1653.5,124.9 1658.3,120.5 1663.0,116.1 1667.7,111.7 1672.3,107.3 1676.9,102.8 1681.4,98.2 1685.9,93.7 1690.4,89.1 1694.8,84.5 1699.1,79.8 1703.4,75.1 1707.7,70.4 1711.9,65.7 1716.0,60.9 1720.1,56.1 1724.2,51.3 1728.2,46.4 1732.1,41.5 1736.0,36.6 1739.9,31.6 1743.7,26.7 1747.4,21.7 1751.1,16.6 1754.8,11.5 1758.3,6.5 1761.9,1.3 1765.3,-3.8 1768.8,-9.0 1772.1,-14.2 1775.4,-19.4 1778.7,-24.7 1781.9,-30.0 1785.0,-35.3 1788.1,-40.6 1791.1,-46.0 1794.1,-51.4 1797.0,-56.8 1799.8,-62.2 1802.6,-67.7 1805.4,-73.2 1808.0,-78.7 1810.6,-84.2 1813.2,-89.8 1815.7,-95.3 1818.1,-100.9 1820.5,-106.6 1822.8,-112.2 1825.0,-117.9 1827.2,-123.6 1829.3,-129.3 1831.4,-135.0 1833.3,-140.8 1835.3,-146.5 1837.1,-152.3 1838.9,-158.2 1840.7,-164.0 1842.3,-169.8 1843.9,-175.7 1845.5,-181.6 1846.9,-187.5 1848.3,-193.4 1849.7,-199.4 1850.9,-205.3 1852.2,-211.3 1853.3,-217.3 1854.4,-223.3 M188.7,-182.2 L190.5,-177.6 192.3,-173.0 194.1,-168.4 196.0,-163.9 198.0,-159.3 200.0,-154.8 202.1,-150.3 204.2,-145.8 206.4,-141.4 208.6,-136.9 210.9,-132.5 213.2,-128.1 215.5,-123.7 217.9,-119.3 220.4,-114.9 222.9,-110.6 225.5,-106.3 228.1,-102.0 230.7,-97.7 233.4,-93.5 236.1,-89.2 238.9,-85.0 241.7,-80.8 244.6,-76.7 247.5,-72.5 250.5,-68.4 253.5,-64.3 256.6,-60.2 259.7,-56.1 262.8,-52.1 266.0,-48.1 269.2,-44.1 272.5,-40.2 275.8,-36.2 279.1,-32.3 282.5,-28.4 286.0,-24.5 289.5,-20.7 293.0,-16.9 296.5,-13.1 300.1,-9.3 303.8,-5.6 307.4,-1.9 311.2,1.8 314.9,5.5 318.7,9.1 322.6,12.7 326.4,16.3 330.3,19.9 334.3,23.4 338.3,26.9 342.3,30.4 346.3,33.9 350.4,37.3 354.6,40.7 358.7,44.1 362.9,47.4 367.2,50.7 371.4,54.0 375.7,57.3 380.1,60.5 384.4,63.7 388.8,66.9 393.3,70.0 397.7,73.1 402.2,76.2 406.8,79.3 411.3,82.3 415.9,85.3 420.6,88.3 425.2,91.2 429.9,94.1 434.6,97.0 439.4,99.8 444.1,102.7 448.9,105.4 453.8,108.2 458.6,110.9 463.5,113.6 468.4,116.3 473.4,118.9 478.3,121.5 483.3,124.1 488.4,126.7 493.4,129.2 498.5,131.7 503.6,134.1 508.7,136.5 513.9,138.9 519.0,141.3 524.2,143.6 529.4,145.9 534.7,148.2 540.0,150.4 545.2,152.6 550.6,154.8 555.9,156.9 561.2,159.0 566.6,161.1 572.0,163.1 577.4,165.1 582.9,167.1 588.3,169.0 593.8,170.9 599.3,172.8 604.8,174.6 610.3,176.4 615.9,178.2 621.5,179.9 627.0,181.6 632.6,183.3 638.3,185.0 643.9,186.6 649.5,188.1 655.2,189.7 660.9,191.2 666.6,192.7 672.3,194.1 678.0,195.5 683.8,196.9 689.5,198.2 695.3,199.5 701.1,200.8 706.9,202.0 712.7,203.3 718.5,204.4 724.3,205.6 730.1,206.7 736.0,207.7 741.9,208.8 747.7,209.8 753.6,210.7 759.5,211.7 765.4,212.6 771.3,213.4 777.2,214.3 783.1,215.1 789.1,215.8 795.0,216.5 801.0,217.2 806.9,217.9 812.9,218.5 818.8,219.1 824.8,219.7 830.8,220.2 836.8,220.7 842.8,221.1 848.8,221.5 854.8,221.9 860.7,222.3 866.8,222.6 872.8,222.8 878.8,223.1 884.8,223.3 890.8,223.5 896.8,223.6 902.8,223.7 908.8,223.8 914.8,223.8 920.9,223.8 926.9,223.8 932.9,223.7 938.9,223.6 944.9,223.5 950.9,223.3 956.9,223.1 962.9,222.9 969.0,222.6 975.0,222.3 981.0,221.9 987.0,221.5 992.9,221.1 998.9,220.7 1004.9,220.2 1010.9,219.7 1016.9,219.1 1022.8,218.5 1028.8,217.9 1034.7,217.3 1040.7,216.6 1046.6,215.9 1052.6,215.1 1058.5,214.3 1064.4,213.5 1070.3,212.6 1076.2,211.7 1082.1,210.8 1088.0,209.8 1093.9,208.8 1099.7,207.8 1105.6,206.7 1111.4,205.6 1117.2,204.5 1123.1,203.3 1128.9,202.1 1134.7,200.9 1140.4,199.6 1146.2,198.3 1152.0,197.0 1157.7,195.6 1163.4,194.2 1169.1,192.8 1174.8,191.3 1180.5,189.8 1186.2,188.2 1191.8,186.7 1197.5,185.1 1203.1,183.4 1208.7,181.7 1214.3,180.0 1219.8,178.3 1225.4,176.5 1230.9,174.7 1236.4,172.9 1241.9,171.0 1247.4,169.1 1252.9,167.2 1258.3,165.2 1263.7,163.2 1269.1,161.2 1274.5,159.1 1279.9,157.0 1285.2,154.9 1290.5,152.7 1295.8,150.5 1301.1,148.3 1306.3,146.0 1311.5,143.7 1316.7,141.4 1321.9,139.1 1327.0,136.7 1332.2,134.3 1337.3,131.8 1342.4,129.3 1347.4,126.8 1352.4,124.3 1357.4,121.7 1362.4,119.1 1367.3,116.5 1372.3,113.8 1377.1,111.1 1382.0,108.4 1386.8,105.6 1391.6,102.8 1396.4,100.0 1401.2,97.2 1405.9,94.3 1410.6,91.4 1415.2,88.4 1419.9,85.5 1424.5,82.5 1429.0,79.4 1433.6,76.4 1438.1,73.3 1442.5,70.2 1447.0,67.0 1451.4,63.9 1455.7,60.7 1460.1,57.4 1464.4,54.2 1468.7,50.9 1472.9,47.6 1477.1,44.3 1481.3,40.9 1485.4,37.5 1489.5,34.1 1493.5,30.6 1497.6,27.1 1501.5,23.6 1505.5,20.1 1509.4,16.5 1513.3,13.0 1517.1,9.3 1520.9,5.7 1524.7,2.0 1528.4,-1.6 1532.1,-5.4 1535.7,-9.1 1539.3,-12.9 1542.9,-16.7 1546.4,-20.5 1549.9,-24.3 1553.3,-28.2 1556.7,-32.1 1560.1,-36.0 1563.4,-39.9 1566.7,-43.9 1569.9,-47.9 1573.1,-51.9 1576.2,-55.9 1579.3,-60.0 1582.4,-64.0 1585.4,-68.1 1588.3,-72.3 1591.3,-76.4 1594.1,-80.6 1597.0,-84.8 1599.8,-89.0 1602.5,-93.2 1605.2,-97.5 1607.8,-101.7 1610.5,-106.0 1613.0,-110.3 1615.5,-114.7 1618.0,-119.0 1620.4,-123.4 1622.7,-127.8 1625.1,-132.2 1627.3,-136.6 1629.6,-141.1 1631.7,-145.6 1633.8,-150.0 1635.9,-154.6 1637.9,-159.1 1639.9,-163.6 1641.8,-168.2 1643.7,-172.7 1645.5,-177.3 1647.3,-181.9 1649.0,-186.6 1650.6,-191.2 1652.3,-195.9 1653.8,-200.5 1655.3,-205.2 1656.8,-209.9 1658.2,-214.6 1659.5,-219.4 1660.8,-224.1 1662.1,-228.9 1663.2,-233.6 1664.4,-238.4 1665.5,-243.2 1666.5,-248.0 1667.5,-252.8 1668.4,-257.7 1669.2,-262.5 1670.0,-267.3 1670.8,-272.2 1671.5,-277.1" stroke-width="1.39" stroke-dasharray="1.39 1.39"/>
<path d="M155.5,610.6 162.3,608.6 169.2,606.5 174.5,610.8 180.2,614.8 185.6,612.0 181.8,608.0 177.8,604.3 174.7,599.7 180.2,592.8 174.7,586.0 179.1,582.9 183.4,579.8 188.4,577.7 193.8,581.0 198.8,585.1 204.8,587.3 210.3,586.9 215.8,586.8 221.3,587.3 227.6,589.1 234.0,590.4 240.5,591.5 246.9,593.4 253.5,594.4 259.7,596.9 265.2,594.2 270.6,591.5 278.9,594.2 283.9,595.1 289.1,593.9 294.2,595.0 299.4,594.2 304.4,595.1 309.5,595.1 314.5,596.9 319.9,594.7 325.5,592.8 332.0,589.8 339.2,588.7 343.7,591.6 348.3,594.3 352.9,596.9 355.6,602.4 362.5,602.3 369.4,602.4 372.7,607.4 372.1,613.4 371.1,620.3 369.4,627.1 366.0,631.2 362.5,635.3 366.6,642.2 373.5,643.0 380.3,643.5 384.4,639.4 386.1,644.4 385.7,649.5 385.8,654.5 395.4,651.8 396.8,660.0 402.1,657.9 407.7,657.3 404.5,661.4 399.8,664.0 396.8,668.2 396.8,675.1 402.2,674.0 407.7,674.1 413.2,673.7 416.0,679.2 420.6,675.6 424.2,671.0 429.6,669.6 435.1,669.1 440.6,668.2 446.2,666.9 451.6,665.5 457.1,664.1 461.9,662.2 467.2,662.3 472.2,661.4 469.4,668.2 459.8,669.6 461.6,674.9 465.3,679.2 469.6,683.1 471.3,688.9 475.1,693.2 478.9,697.5 481.8,702.5 481.2,707.8 483.2,712.6 485.8,717.2 485.8,722.4 486.5,727.4 488.1,732.3 488.4,737.4 490.0,742.3 491.0,747.2 491.4,752.2 491.7,757.3 494.4,761.9 494.6,767.0 496.1,771.8 496.6,776.8 498.6,781.6 499.1,786.6 499.6,791.6 503.3,788.1 507.6,785.3 511.5,782.0 514.7,777.9 519.9,779.0 524.3,782.0 527.6,787.9 529.8,794.4 534.5,797.6 540.6,798.4 544.8,802.6 550.2,800.9 555.8,799.8 561.3,798.5 567.9,800.8 575.0,801.2M874.4,820.1 877.6,814.3 879.8,808.1 884.3,805.1 888.8,802.3 893.5,799.8 897.7,791.6 901.2,795.6 904.5,799.8 909.7,802.4 915.6,802.2 921.0,804.0 926.5,803.9 931.9,804.7 937.4,804.5 942.9,804.7 948.4,804.2 953.9,805.3 959.4,807.4 964.8,809.4M964.8,809.4 966.7,815.6 968.0,822.0 969.5,827.7 972.2,832.9 975.0,838.0 981.0,842.0 987.0,846.0 990.0,850.6M570.0,797.1 578.2,805.3 583.7,820.1M1410.9,694.3 1406.0,692.8 1400.8,692.7 1395.8,691.5 1389.1,689.3 1382.1,688.8 1377.2,690.7 1372.1,692.2 1367.7,695.5 1362.3,696.2 1357.4,698.4 1353.0,701.8 1348.2,704.3 1342.7,705.2 1338.0,707.8 1332.7,709.4 1329.0,714.8 1323.9,719.3 1321.8,725.8 1323.1,731.3 1328.6,730.6 1334.1,731.3 1337.3,736.6 1339.6,742.3 1338.7,747.7 1338.2,753.2 1334.5,758.5 1331.4,764.2 1330.8,769.7 1330.2,775.2 1328.8,780.6 1328.6,786.1 1326.4,792.4 1325.8,799.2 1323.1,805.3 1324.1,810.2 1324.9,815.2 1325.9,820.1M155.5,1035.7 160.6,1032.2 166.5,1030.4 171.9,1027.5 177.3,1025.8 183.0,1026.2 188.4,1024.6 193.9,1023.4 198.8,1021.3 203.5,1018.6 208.6,1016.7 213.0,1013.2 218.5,1012.4 222.0,1007.7 226.8,1004.2 233.7,1002.0 240.5,999.3 246.5,999.3 251.3,1003.2 256.9,1004.2 262.4,1007.3 265.7,1012.9 270.6,1016.5 276.5,1019.4 281.6,1023.4 283.6,1017.4 284.4,1011.0 289.0,1008.4 292.9,1004.5 298.1,1002.8 306.3,1001.5 309.7,1006.3 314.5,1009.7 317.3,1014.6 321.9,1017.9 325.5,1022.0 331.0,1022.7 336.5,1023.7 341.9,1024.8 348.1,1024.3 354.2,1026.3 360.5,1025.4 366.6,1026.1 372.1,1028.1 377.8,1029.6 383.2,1031.8 388.5,1034.4 394.7,1034.7 400.2,1038.1 406.4,1038.5 412.6,1041.8 418.7,1045.3 419.3,1051.0 421.5,1056.3 428.3,1059.0 435.2,1061.8 437.9,1070.0M437.9,1070.0 436.7,1064.6 436.5,1059.0 441.1,1053.4 446.1,1048.1 451.3,1043.6 457.1,1039.8 457.8,1034.4 458.2,1028.8 458.9,1023.4 459.8,1017.9 458.4,1012.5 458.5,1007.0 460.1,1001.4 458.5,996.0 459.3,990.4 461.2,985.0 456.0,983.0 451.6,979.5 457.1,978.8 462.8,978.6 467.9,975.3 473.5,975.4 479.9,974.3 486.3,973.1 492.7,972.7 497.9,973.7 501.6,977.8 506.5,979.5 516.0,979.5 516.0,972.7 509.2,968.5 511.9,963.1 514.7,957.6 516.9,951.8 520.2,946.6 523.4,942.0 525.7,936.8 529.0,932.2 531.3,927.0 534.2,922.1 538.0,917.8 543.5,921.1 550.0,922.0 555.8,924.7 561.2,927.2 566.8,929.2 572.3,931.5 575.0,935.6M437.9,1070.0 431.1,1072.4 424.2,1074.1 417.9,1076.3 411.3,1077.3 405.0,1079.6 400.3,1081.5 395.4,1083.1 390.6,1084.7 385.8,1086.5 381.1,1089.2 377.6,1093.3 371.3,1091.4 364.8,1090.3 358.4,1089.2 353.1,1092.3 347.9,1095.7 341.9,1097.4 336.0,1101.6 331.0,1107.0 324.3,1104.9 317.3,1104.3 315.8,1098.1 314.5,1091.9 309.0,1092.4 303.4,1093.1 298.1,1094.7 292.6,1098.8 286.9,1099.5 281.4,1100.8 276.2,1103.3 270.6,1104.3 266.8,1108.7 266.0,1114.8 262.4,1119.4 256.9,1119.4 255.6,1124.8 255.2,1130.3 254.2,1135.7 254.2,1141.3M195.2,1026.1 200.9,1026.0 206.1,1024.1 210.7,1020.5 215.9,1018.4 221.7,1018.8 226.8,1016.5 228.1,1012.4 222.2,1014.6 215.8,1015.2 211.0,1018.6 205.8,1021.5 202.2,1026.5 196.6,1028.9 203.1,1031.6 207.6,1037.1 209.0,1044.0 213.6,1047.5 218.5,1050.8 222.7,1045.3 230.9,1041.2 232.9,1047.4 235.0,1053.5 238.6,1058.2 241.9,1063.1 247.3,1066.4 253.2,1068.9 258.3,1072.7 252.6,1075.3 246.5,1075.6 240.5,1076.9 232.3,1082.3 227.4,1084.0 222.4,1085.5 217.2,1085.1 211.9,1081.5 206.2,1078.7 200.7,1075.5 194.7,1072.4 188.4,1070.0 181.5,1070.8 174.7,1070.0 180.5,1073.7 185.6,1078.2 191.1,1077.4 196.6,1077.5 202.1,1078.2 203.3,1083.7 204.8,1089.2 199.4,1089.2M155.5,1087.8 161.1,1088.2 166.4,1090.2 171.9,1091.2 177.4,1091.9 180.2,1098.4 185.6,1102.9 190.9,1100.9 196.7,1101.8 202.1,1100.2 205.8,1104.2 209.4,1108.4 213.1,1112.5 219.1,1114.2 224.0,1118.0 229.5,1117.2 235.0,1117.7 240.5,1116.6 246.0,1117.2 251.4,1118.0 257.0,1118.4 262.4,1119.4M155.5,1065.9 159.0,1061.5 161.0,1056.3 165.1,1052.8 169.2,1049.4 176.6,1049.8 182.9,1053.5 188.3,1051.6 193.5,1049.3 199.4,1049.4 200.7,1059.0 196.8,1063.7 190.8,1064.0 185.6,1065.9 179.8,1066.9 174.7,1070.0M155.5,1078.2 166.5,1075.5 174.7,1070.0M166.5,1141.3 177.4,1134.4 188.4,1139.9M185.6,1078.2 187.0,1087.8 191.1,1089.2 193.9,1082.3 202.1,1078.2M583.7,815.0 585.0,820.5 586.5,826.0 592.5,829.3 597.4,834.2 600.9,840.8 602.9,847.9 608.3,849.5 613.9,849.4 619.4,850.0 624.8,850.6 631.7,847.9 633.1,853.4 634.4,858.9 635.8,864.4 644.0,869.8 653.6,869.8 659.5,866.2 664.6,861.6 671.5,862.1 678.3,861.6 684.5,859.0 690.6,856.1 694.7,852.2 700.0,850.1 704.4,846.5 709.0,844.3 714.2,843.9 718.4,840.4 723.5,839.7 729.0,836.8 734.5,834.2 740.0,831.5 745.1,828.6 751.4,829.1 756.5,826.0 761.9,830.1 770.2,830.1 771.5,834.2 776.6,835.9 782.0,834.9 787.1,836.5 792.3,836.7 797.6,836.9 801.0,843.4 800.3,850.6 808.5,856.1 814.9,857.2 821.4,857.9 827.7,858.9 833.2,859.4 838.8,858.9 844.2,860.2 849.8,862.3 855.2,864.7 860.6,867.1 868.9,861.6 873.2,858.6 876.4,854.5 879.8,850.6 882.6,842.4 879.8,836.9 877.1,831.5 874.4,823.2 875.7,815.0M653.6,869.8 650.9,879.4 653.3,884.9 657.7,889.0 664.6,894.5 667.3,902.7 673.8,906.5 679.7,911.0 685.3,912.7 690.6,915.1 696.1,920.6 700.1,924.9 700.5,931.2 704.4,935.6 706.4,940.6 709.2,945.2 712.6,949.4 712.7,956.3 714.0,963.1 712.5,968.5 711.0,974.0 709.8,979.5 705.9,985.1 701.6,990.5 703.1,995.9 704.4,1001.5 712.6,1006.9 718.1,1008.3 723.3,1010.9 728.9,1011.5 734.5,1012.4 740.0,1013.2 745.6,1013.6 751.0,1014.4 756.3,1017.0 761.9,1016.5 767.2,1020.1 772.9,1023.0 778.4,1026.1 784.0,1029.6 789.8,1032.7 794.8,1037.1 801.0,1040.5 807.2,1044.0 808.6,1050.3 811.3,1056.3 814.3,1061.6 816.9,1067.2 819.5,1072.7 823.8,1078.1 827.7,1083.7 829.7,1088.5 831.9,1093.3 836.8,1091.8 841.9,1092.6 846.9,1092.5 853.2,1092.7 859.2,1095.0 865.5,1094.5 871.6,1096.0 877.0,1097.3 882.4,1098.9 888.1,1098.3 893.6,1098.9 899.0,1100.2 904.5,1099.7 910.0,1098.8 915.4,1097.4 921.0,1097.9 926.5,1096.9 931.7,1099.4 937.5,1098.5 942.9,1099.5 948.5,1099.8 953.9,1101.5 959.2,1105.0 965.3,1107.1 970.3,1111.1 975.5,1111.4 980.0,1114.3 985.3,1113.7 989.9,1116.4 995.0,1116.6M570.0,935.6 575.8,935.5 581.0,932.9 585.7,929.4 590.4,925.9 594.7,921.9 596.9,915.9 595.9,909.6 596.3,903.4 597.4,897.3 600.8,892.4 605.6,889.0 611.1,887.7 616.9,887.4 622.1,884.9 626.2,879.8 629.0,874.0 635.8,869.8 644.0,869.8M963.5,815.0 965.6,820.3 966.9,825.8 967.6,831.5 971.5,835.3 974.7,839.8 978.5,843.8 984.1,846.4 989.5,849.3 995.0,850.6M990.0,850.6 995.5,851.8 1001.0,852.6 1006.5,850.5 1011.9,847.9 1016.7,846.0 1021.5,844.4 1026.4,842.9 1031.1,841.0 1038.0,841.7 1044.8,842.4 1051.7,843.5 1058.5,843.8 1063.1,849.1 1069.5,852.0 1075.9,852.9 1082.3,853.0 1088.7,853.4 1091.4,858.5 1091.5,864.4 1096.7,868.7 1102.4,872.6 1107.8,870.6 1113.3,870.5 1118.9,871.2 1124.2,872.8 1129.7,873.6 1135.3,874.0 1142.2,873.8 1149.0,874.0 1153.9,870.0 1159.9,868.2 1165.5,865.7 1170.8,863.5 1176.6,862.8 1182.5,862.3 1187.4,858.9 1192.1,856.3 1196.2,852.9 1201.1,850.6 1203.0,844.7 1206.6,839.7 1212.1,834.8 1217.6,830.1 1224.4,828.6 1231.3,827.3 1236.3,829.3 1240.4,832.9 1245.0,835.6 1251.6,832.6 1258.7,831.5 1265.6,832.3 1272.4,831.5 1277.9,836.9 1283.6,838.6 1289.4,839.4 1295.4,839.0 1301.2,840.2 1305.3,835.9 1308.7,831.0 1312.3,826.3 1316.3,821.9 1322.4,819.5 1328.6,817.7 1330.0,815.0M1275.2,834.2 1275.1,839.4 1274.1,844.3 1271.3,848.9 1270.9,854.0 1269.7,858.9 1268.8,865.0 1267.5,871.1 1269.0,877.5 1266.9,883.5 1265.5,888.6 1262.8,893.1 1266.4,897.4 1269.9,901.6 1273.8,905.5 1277.9,900.0 1283.3,898.3 1289.1,898.1 1294.4,895.9 1299.8,898.1 1305.3,900.0 1308.6,893.3 1313.5,887.7 1320.3,886.2 1327.3,886.3 1332.4,890.0 1338.0,893.0 1343.7,895.9 1349.2,897.8 1352.2,903.2 1357.4,905.5 1361.1,911.3 1365.6,916.5 1368.4,923.3 1362.6,923.6 1357.4,926.0 1351.9,925.7 1346.5,924.7 1341.0,926.7 1335.8,929.2 1330.0,930.2 1321.8,935.6 1314.9,935.6 1313.5,942.5 1306.1,942.6 1299.8,946.6 1297.7,952.2 1294.1,957.1 1293.0,963.1 1288.9,971.3 1283.7,975.8 1277.9,979.5 1271.5,980.8 1265.4,983.6 1258.7,983.6 1256.9,988.5 1254.6,993.2 1249.2,997.5 1245.0,1002.8 1238.1,1008.3 1233.1,1009.3 1228.1,1007.4 1223.1,1008.3 1217.7,1006.0 1212.1,1004.2 1205.8,1004.3 1199.8,1002.8 1192.9,1005.6 1192.8,1010.6 1192.4,1015.7 1191.5,1020.6 1188.8,1027.5 1193.6,1033.0 1198.4,1038.5 1203.9,1046.7 1200.1,1051.8 1195.6,1056.3 1191.4,1059.6 1186.6,1062.0 1181.9,1064.5 1179.4,1070.0 1176.4,1075.1 1172.3,1079.6 1166.9,1083.1 1161.4,1086.5 1154.8,1090.0 1149.0,1094.7 1142.3,1096.6 1135.3,1096.0 1129.8,1096.5 1124.4,1097.5 1118.9,1097.4 1113.0,1098.7 1106.9,1097.7 1101.0,1098.8 1096.2,1101.0 1090.6,1101.3 1086.0,1104.3 1081.5,1107.6 1076.2,1109.5 1071.7,1112.7 1066.8,1115.2 1062.1,1118.7 1056.7,1120.6 1052.0,1124.1 1046.8,1126.5 1042.1,1129.8 1035.9,1128.7 1029.8,1127.6 1029.8,1122.1 1024.9,1123.7 1019.7,1123.6 1014.7,1124.3 1007.8,1122.5 1001.0,1120.7 995.8,1117.3 990.0,1115.2" stroke-width="0.85" stroke-linejoin="round" stroke-linecap="round"/>
<path d="M514.7,258.7 519.4,257.2 524.2,258.7 528.7,261.0 534.1,259.4 539.5,257.9 548.8,255.6 555.0,249.4 559.2,245.6 564.3,243.2 569.1,240.4 573.6,237.0M514.7,263.4 519.4,266.5 524.3,269.1 528.7,272.6 533.2,276.3 536.4,281.2 544.1,279.6 549.5,276.1 555.0,272.6 560.3,271.6 565.1,268.8 570.5,268.0M511.9,171.9 515.1,176.4 517.4,181.5 518.9,186.3 520.2,191.2 520.5,196.3 522.2,201.1 522.9,206.1 527.1,202.8 531.8,200.3 535.9,196.8 540.6,194.2 544.8,191.0 541.7,185.3 538.8,179.4 536.6,173.2M516.0,255.5 511.9,259.6 516.0,265.1 520.2,259.6 516.0,255.5ZM522.9,262.3 528.4,261.0 529.8,265.1 524.3,267.0ZM551.7,222.6 557.2,225.3 559.9,230.3 554.4,229.4ZM446.1,254.1 450.2,253.3 448.3,257.7ZM597.4,171.9 595.5,177.4 591.1,181.7 589.3,187.4 586.5,192.4 586.9,197.9 587.6,203.4 588.0,208.9 588.6,214.4 589.2,219.8 584.9,222.8 582.2,227.5 578.2,230.8 574.7,235.5 570.0,239.0M612.5,171.9 610.5,176.8 608.2,181.5 604.8,185.7 602.3,190.3 600.2,195.2 602.9,204.8 608.4,205.0 614.0,205.4 619.4,206.6 624.8,207.5 627.8,211.7 632.7,214.1 634.9,219.0 638.5,222.6 640.0,228.0 639.9,233.6 641.3,239.0 635.8,244.5 632.8,249.0 629.0,252.7 629.0,258.2 635.2,260.8 641.3,263.7 639.9,269.2 634.5,266.6 629.6,263.2 624.8,259.6 622.1,252.7 626.8,247.7 630.3,241.8 631.4,236.3 631.7,230.8 628.8,225.4 626.2,219.8 620.2,219.4 614.2,218.9 608.4,217.1 603.0,220.7 597.4,224.0 596.4,229.8 595.4,235.6 594.4,241.4 593.3,247.3 589.8,250.9 585.6,253.7 581.7,256.9 577.4,259.6 573.3,262.5 570.0,266.5M719.4,171.9 716.7,181.5 711.2,184.2 712.6,189.7 716.0,185.5 719.4,181.5 723.5,176.0 726.3,181.5 723.9,187.1 720.8,192.4 719.4,197.9M729.0,171.9 730.4,186.9 724.9,193.8 719.4,197.9M718.1,206.1 722.2,211.6 726.3,217.1 731.4,217.7 736.4,218.6 741.4,219.8 745.5,224.6 749.6,229.4 748.7,235.5 746.6,241.2 745.5,247.3 746.6,254.1 747.7,261.0 745.4,267.8 743.3,274.7 741.7,280.2 740.0,285.6 740.8,291.1 741.4,296.6 741.4,302.1 739.2,308.3 736.7,314.4 740.0,319.8 742.7,325.4 746.1,331.6 749.6,337.7M771.5,230.8 770.2,225.8 768.1,220.9 767.4,215.7 771.5,212.2 775.1,214.4 771.5,218.5 771.5,224.6 771.5,230.8M1219.0,181.5 1218.8,186.6 1217.7,191.6 1216.8,196.6 1216.9,201.7 1215.0,206.6 1214.3,211.6 1215.6,217.1 1217.1,222.6 1218.6,228.0 1219.8,233.5 1217.9,239.1 1215.7,244.5 1218.4,249.8 1220.4,255.4 1222.5,261.0 1226.4,265.4 1229.8,270.1 1233.5,274.7 1236.8,279.9 1239.0,285.6 1242.2,289.6 1245.5,293.4 1248.9,297.1 1252.3,300.9 1255.4,304.8 1257.9,310.4 1261.6,315.4 1263.6,321.3 1268.1,324.7 1272.7,327.8 1277.4,330.9 1281.9,333.3 1286.4,335.6 1291.1,337.7 1298.3,339.5 1305.3,341.9 1309.9,344.8 1314.1,348.3 1318.6,351.3 1323.1,354.2 1328.3,355.8 1333.6,356.5 1338.5,359.0 1343.7,360.2M391.3,531.7 395.4,531.1 399.5,533.3 395.4,535.0ZM396.8,581.9 403.6,583.2 402.3,586.5 397.6,586.0ZM315.9,567.3 320.0,566.8 322.7,569.5 318.6,571.2ZM336.5,634.0 339.7,631.8 342.5,634.8 340.0,638.1 337.0,637.2ZM348.8,647.7 351.5,644.1 352.4,646.3 350.2,649.0ZM390.2,659.2 393.5,658.4 394.6,661.9 391.3,663.3ZM385.3,677.5 389.9,675.4 394.6,677.3 393.0,682.2 392.7,687.4 389.9,681.9ZM400.9,677.3 404.5,677.0 405.0,679.7 401.4,680.3ZM218.5,646.8 225.4,643.0 230.2,641.0 234.5,638.1 232.3,643.5 224.6,647.4ZM201.3,681.9 203.5,675.1 207.0,671.0 206.2,677.8 203.5,682.8ZM266.5,746.4 270.6,739.5 278.9,736.8 287.1,736.2 290.4,740.1 284.4,740.9 277.5,743.6 278.9,749.1 270.6,749.9ZM293.1,745.5 295.9,746.4 295.3,749.4 293.4,748.6ZM472.2,651.8 479.0,648.5 485.9,649.6 492.7,646.8 494.1,649.0 488.6,653.1 491.4,657.3 496.9,661.4 495.5,664.9 491.4,662.2 485.9,655.9 480.4,654.0 474.9,654.5ZM505.9,652.3 509.7,650.7 512.5,653.4 508.6,655.1ZM536.1,643.5 542.1,640.8 546.5,642.2 542.6,646.3 537.2,646.8ZM505.9,719.0 509.2,714.8 513.6,717.0 512.5,722.5 507.8,723.1ZM509.7,729.1 512.5,728.0 513.0,731.8 510.3,732.4ZM480.1,701.7 482.3,700.6 483.4,703.3 481.2,704.4ZM570.0,686.0 575.5,682.7 581.0,679.2 585.5,676.4 590.6,675.1 594.7,679.2 586.5,680.6 580.8,682.9 575.5,686.0 570.0,688.0M774.3,683.3 768.8,685.7 763.3,688.0 757.4,690.7 751.0,691.0 745.5,695.6 743.8,703.9 747.7,711.5 753.2,717.6M923.7,820.1 926.5,810.8 930.6,808.1 933.3,813.5 934.7,820.1M1101.0,663.6 1106.5,666.9 1106.6,671.9 1107.8,676.9 1107.4,681.9 1107.3,687.5 1106.2,692.9 1105.2,698.4 1104.3,704.8 1105.0,711.2 1104.6,717.6 1102.7,724.4 1101.0,731.3 1096.9,734.8 1094.2,739.5 1090.8,743.7 1088.8,748.7 1086.0,753.2 1083.3,757.9 1081.0,762.7 1077.7,766.9 1073.9,770.6 1069.4,773.6 1065.3,777.1 1061.3,780.6 1057.1,784.0 1052.7,787.1 1049.2,791.2 1044.8,794.4 1039.4,797.6 1033.7,800.4 1028.4,804.0 1022.8,805.5 1017.3,807.1 1011.9,809.4 1006.5,808.6 1001.0,808.1 995.5,802.6 1000.9,801.1 1006.5,799.8 1013.4,798.0 1020.2,795.7 1025.4,792.5 1030.8,789.5 1036.6,787.5 1040.9,783.2 1044.8,778.6 1049.1,774.2 1053.1,769.7 1055.8,764.4 1059.8,760.0 1063.1,755.1 1066.8,750.5 1069.8,745.4 1072.7,740.2 1076.9,736.0 1080.5,731.3 1082.6,726.6 1084.1,721.8 1085.3,716.8 1087.3,712.1 1089.2,705.7 1091.4,699.4 1092.8,692.9 1091.9,687.3 1093.7,681.9 1094.2,676.5 1096.9,666.9ZM1055.8,756.0 1072.3,745.0 1073.6,749.1 1058.5,757.3ZM1091.5,738.1 1095.6,728.5 1099.7,726.4 1101.0,731.3M1165.5,675.9 1168.2,672.9 1169.6,675.9ZM1050.9,817.7 1053.1,814.1 1054.4,816.8ZM313.1,917.8 316.8,913.9 320.0,909.6 325.7,906.5 331.0,902.7 336.9,900.3 342.2,896.8 347.4,893.1 352.9,893.3 358.4,893.1 363.8,896.0 369.4,898.6 374.8,899.0 380.3,898.4 385.8,898.6 390.4,901.8 394.7,905.4 399.5,908.2 406.1,911.2 413.2,912.3 418.7,913.2 424.2,914.1 429.7,915.1 435.2,914.5 440.6,913.7 448.9,916.5 447.5,923.3 437.9,926.0 432.4,925.4 426.9,926.0 422.1,923.3 417.3,920.6 411.4,917.8 405.0,916.5 400.2,914.6 395.8,912.0 391.3,909.6 384.4,907.6 377.6,905.5 372.2,903.7 366.6,902.7 359.7,903.6 352.9,905.5 347.9,910.2 341.9,913.7 332.3,916.5 331.0,924.7 324.1,930.2 323.2,937.1 321.4,943.9 318.6,943.9 317.4,938.3 315.6,933.0 314.5,927.4ZM320.5,948.5 324.1,947.4 326.0,951.5 322.7,952.9ZM480.4,924.7 485.9,926.0 492.7,932.9 499.3,935.7 505.1,939.8 505.3,945.0 506.2,950.1 506.9,955.2 507.8,960.3 499.6,957.6 496.0,952.2 492.7,946.6 492.6,941.1 491.4,935.6 487.6,932.1 484.4,927.9ZM543.5,884.9 553.1,883.5 558.1,886.6 562.9,890.1 567.4,893.9 572.3,897.3 569.5,905.5 564.8,903.0 560.6,899.7 555.8,897.3 551.8,893.1 547.3,889.4ZM344.7,1039.3 351.5,1038.9 358.4,1038.5 364.8,1038.9 371.1,1040.2 377.6,1040.4 383.5,1040.3 389.5,1040.7 395.4,1041.2 391.3,1046.7 383.1,1048.1 377.6,1053.5 370.7,1052.9 363.9,1053.5 358.2,1049.8 351.5,1048.1 348.9,1043.1ZM378.1,998.2 383.1,996.5 387.9,998.2 392.6,999.9 397.2,1002.2 402.3,1003.1 398.1,1006.4 393.1,1005.3 388.0,1004.5 383.1,1002.8ZM473.0,992.7 476.8,989.9 481.2,993.8 477.7,997.6 473.5,996.5ZM514.7,991.9 520.2,989.1 524.3,993.8 520.2,997.3 516.0,996.0ZM512.8,985.0 516.0,983.9 516.9,987.2 513.6,987.7ZM311.8,1051.4 315.1,1049.4 317.8,1052.5 315.1,1055.7 312.3,1054.6ZM303.5,1091.9 307.7,1090.0 310.4,1091.9 306.3,1094.1ZM243.8,1134.4 247.3,1129.8 251.5,1131.7 249.3,1136.4 246.0,1135.3ZM160.4,865.7 162.3,862.2 164.3,864.4 162.3,868.2ZM174.7,1068.6 180.2,1067.3 187.0,1067.8 185.6,1070.5 177.4,1071.1ZM752.3,839.7 759.2,835.6 767.4,832.8 770.2,841.0 775.6,843.8 771.5,847.2 767.4,850.6 761.9,853.4 755.1,849.3ZM722.7,845.2 725.7,843.0 728.5,845.7 725.7,848.5ZM710.7,866.5 713.4,863.0 716.7,864.4 715.3,869.3ZM761.9,876.7 767.4,877.6 772.9,878.1 777.9,879.7 782.5,882.2 778.4,886.3 774.3,890.4 767.4,883.5ZM772.4,888.5 775.6,890.4 774.3,892.3ZM745.5,906.9 755.1,906.9 757.8,912.3 753.3,915.2 748.2,916.5 745.5,923.3 740.0,924.7 738.6,917.8 744.1,915.1ZM749.6,908.2 753.2,909.6 754.3,913.7 749.6,914.3ZM763.3,913.7 771.5,912.3 768.8,920.6 772.2,925.0 774.3,930.2 771.5,932.9 769.8,928.0 767.4,923.3 763.3,917.8ZM626.2,928.0 638.5,926.0 631.7,937.0ZM632.0,941.1 634.7,939.8 635.8,942.5 633.1,943.9ZM601.0,876.7 605.6,874.8 611.1,877.0 606.2,880.3ZM570.0,841.0 575.5,841.0 576.9,850.6 579.6,858.9 570.0,861.6M570.0,897.3 574.1,900.0 570.0,904.1M587.0,974.0 593.3,971.3 600.2,969.9 598.8,973.5 590.6,976.2ZM591.9,1101.5 597.4,1095.2 603.1,1098.1 608.4,1101.5 608.4,1105.6 603.6,1104.1 598.8,1102.4 591.9,1104.3ZM743.8,1059.0 746.9,1055.7 747.7,1059.6 744.9,1061.0ZM855.7,895.9 860.6,894.5 862.8,897.3 857.9,898.1ZM894.1,1002.8 898.5,999.5 903.1,1004.7ZM923.7,815.0 922.3,842.4 926.5,841.0 934.7,815.0M1288.9,864.4 1294.4,856.1 1297.2,851.0 1299.8,845.7 1302.6,853.4 1309.4,853.4 1302.6,858.9 1299.6,863.5 1297.1,868.5 1293.0,874.0 1290.8,869.2ZM1308.1,894.5 1312.2,889.6 1314.9,894.5 1310.8,900.5ZM1319.9,971.8 1323.1,968.5 1325.1,972.7 1321.8,974.0ZM1313.5,1046.7 1316.8,1042.6 1319.0,1046.7 1315.7,1048.1ZM1247.2,1136.4 1250.5,1134.2 1251.0,1137.2ZM1050.3,818.3 1052.5,815.0 1053.6,817.7Z" stroke-width="1.25" stroke-linejoin="round" stroke-linecap="round"/>
<path d="M304.9,173.2 299.9,176.3 295.8,180.7 290.7,183.8 285.7,186.9 289.9,191.9 292.6,197.9 297.5,199.4 302.6,198.8 307.7,199.3 313.4,196.8 319.4,195.3 325.5,193.8 330.9,192.2 336.6,191.7 341.9,189.7 347.3,190.4 351.5,193.8 351.1,200.8 348.8,207.5 345.6,211.8 341.9,215.7 339.2,222.6M514.7,258.7 508.5,251.7 502.3,251.0 497.7,253.3 493.0,254.8 488.4,251.0 485.3,248.6 480.7,247.9 474.5,243.2 466.7,248.6 461.0,248.9 457.4,253.3 455.9,256.4 451.4,260.1 448.1,264.9 441.9,272.6 437.7,277.3 433.4,281.9 437.3,285.8 432.6,288.1 430.3,297.4 429.6,306.7 426.5,312.1 422.1,316.0 418.7,320.7 413.3,326.8 407.9,329.9 400.1,334.6 394.7,340.0 393.3,345.2 395.5,350.1 398.6,359.4 404.0,366.3 406.3,374.8 408.4,379.4 410.2,384.1M410.5,384.4 411.5,391.2 411.9,398.1 413.6,404.0 417.3,409.0 418.3,414.6 420.1,420.0 421.8,425.3 425.1,429.9 426.9,435.1 423.6,439.7 422.0,444.9 421.3,450.3 420.1,455.6 413.6,459.2 407.7,463.9 402.8,467.4 396.6,467.0 391.3,469.4 388.7,473.8 385.5,477.9 382.5,482.2 380.6,487.1 377.6,491.3 372.1,495.1M420.1,420.0 425.3,418.8 430.3,421.0 435.5,420.4 440.6,421.4 445.5,422.8 450.4,424.3 455.1,426.2 459.8,428.2 466.7,427.6 472.4,432.0 479.0,432.3 483.9,434.5 488.5,437.1 493.2,439.8 498.8,440.0 503.7,441.9 509.9,443.2 515.0,446.7 520.6,449.2 525.6,452.9 529.8,455.9 533.3,459.5 538.3,461.4 540.8,466.3 544.8,469.4 549.2,472.3 551.2,477.2 554.8,480.8 558.2,484.5 561.3,488.5 564.0,495.1M218.5,369.3 217.2,375.5 215.8,381.6 210.6,385.5 204.8,388.5 201.9,393.6 198.0,398.1 193.0,400.3 187.7,399.5 182.3,398.5 177.4,400.8 182.5,403.9 188.4,403.5 185.9,408.7 185.6,414.5 191.1,421.4 184.3,425.5 181.5,435.1M204.8,388.5 209.0,384.4 211.7,387.1M198.0,398.1 202.1,400.8M161.0,417.3 159.6,425.5 156.9,431.0M389.9,350.1 392.7,352.8M391.3,365.2 394.6,367.4M400.1,390.4 402.8,394.0M341.9,435.1 346.0,437.8 350.2,441.4M413.2,430.4 421.5,431.5M411.9,438.6 417.5,438.2 422.8,436.5M711.2,197.9 719.4,202.0 721.4,207.4 722.2,213.0 727.8,216.9 734.5,218.5 740.0,221.2 745.5,224.0 748.2,230.8 746.5,236.3 744.8,241.9 742.7,247.3 744.0,254.1 745.5,261.0 743.8,267.9 741.4,274.7 739.4,280.2 737.3,285.6 738.7,291.0 738.5,296.6 738.6,302.1 734.7,306.9 734.5,313.1 730.4,315.8 735.2,319.9 740.0,324.0 744.3,329.4 748.2,335.0 746.9,344.6M746.9,344.6 745.7,350.7 745.5,356.9 742.2,362.1 740.0,367.9 739.6,373.1 737.4,377.8 735.1,382.5 734.3,387.6 733.1,392.6 731.2,398.0 728.2,403.1 727.7,409.0 722.2,417.3 727.4,422.3 731.8,428.2 734.0,432.8 736.8,437.2 738.6,441.9 740.2,447.8 744.1,452.4M746.9,344.6 752.5,340.9 759.2,340.5 767.4,344.6 771.3,348.3 774.3,352.8 774.3,358.8 772.8,364.7 772.9,370.6 775.9,376.4 779.8,381.6 783.7,386.7 789.4,389.8 795.3,390.6 800.3,394.0M781.1,237.7 786.7,237.4 792.1,235.6 797.6,234.9 803.2,235.2 808.5,237.2 814.0,237.7M789.4,237.7 795.9,239.6 801.7,243.1M804.4,248.6 810.3,245.8 816.8,246.7M786.6,254.1 794.8,258.2 800.7,257.2 806.6,255.4 812.7,256.0M781.1,267.8 789.4,271.4 796.1,269.4 803.1,268.6 808.5,269.2 814.0,269.3 819.5,269.2M838.7,269.7 833.4,267.8 827.7,268.6 823.8,273.8 819.5,278.8 815.8,285.2 809.9,289.8M838.7,242.3 842.7,247.4 845.6,253.3 848.3,252.7M825.0,300.7 823.6,307.6 819.0,312.5M836.0,311.7 833.2,321.3 836.1,326.8 837.3,332.8M847.8,316.4 850.5,321.5 851.0,327.3M912.2,177.3 916.9,173.8 923.7,171.9M942.9,171.9 951.1,176.5M624.8,374.8 633.1,376.7M581.0,461.1 583.7,462.5M1220.3,171.9 1217.2,177.9 1214.8,184.2 1214.9,189.7 1215.5,195.3 1212.6,200.6 1212.7,206.1 1212.1,211.6 1213.2,217.2 1214.7,222.6 1215.7,228.2 1217.6,233.5 1215.5,239.0 1213.5,244.5 1214.7,250.4 1217.7,255.6 1220.3,261.0 1223.7,265.8 1227.3,270.3 1231.3,274.7 1235.2,279.6 1236.8,285.6 1240.2,289.4 1243.5,293.2 1246.5,297.3 1250.9,300.2 1253.2,304.8 1254.7,311.0 1258.6,315.8 1261.5,321.3 1266.7,324.1 1271.6,327.4 1275.2,332.3 1279.8,334.3 1284.3,336.8 1288.9,339.1 1294.1,339.9 1298.9,341.9 1304.0,343.2 1310.1,345.4 1315.6,349.2 1321.8,351.5 1327.5,352.5 1332.8,354.8 1338.0,357.4 1343.7,358.3 1351.0,359.2 1357.4,355.6 1362.8,354.0 1368.3,353.8 1373.8,352.8 1379.4,352.8 1385.9,351.7 1391.9,348.2 1398.5,347.3 1404.5,342.9 1410.9,339.1M1357.4,355.6 1361.1,359.7 1365.4,363.2 1368.4,367.9 1372.7,370.9 1376.0,374.9 1379.4,378.9 1383.0,384.7 1384.3,391.3 1384.8,398.1 1383.8,403.6 1382.0,409.0 1380.9,414.6 1379.4,420.0 1374.8,425.4 1368.4,428.2 1363.1,432.2 1357.0,434.9 1351.9,439.2 1346.2,441.5 1341.0,444.7 1336.9,448.8 1333.3,453.5 1328.2,456.6 1324.5,461.1 1319.3,465.0 1313.5,468.0 1308.4,470.7 1302.8,472.1 1296.7,471.9 1291.6,474.8 1286.1,475.7 1280.5,475.9 1275.2,478.3 1269.7,479.0 1265.0,482.5 1261.5,487.2 1258.4,491.5 1254.6,495.1M1304.0,343.2 1302.7,350.1 1301.2,356.9 1294.6,358.0 1290.2,363.0 1285.3,361.9 1280.2,362.7 1275.2,361.9 1269.7,365.6 1264.2,369.3 1259.3,370.7 1254.2,371.7 1249.9,374.8 1245.0,376.1 1239.6,380.9 1232.7,383.0 1230.1,387.9 1227.2,392.6 1217.6,392.0 1212.1,395.0 1206.6,398.1M1261.5,489.9 1269.7,488.5 1272.4,495.1M373.5,654.5 373.5,651.2 377.0,649.6M174.7,720.3 177.4,713.5 181.5,708.0M392.7,799.3 398.1,797.1 400.1,799.8M366.6,501.0 369.4,495.5 374.2,492.8 379.0,490.0M561.3,490.0 562.0,495.9 564.7,501.1 566.8,506.5 568.9,511.4 573.1,515.1 575.0,520.2M550.3,697.0 551.7,693.5 555.8,691.5 561.0,689.8 566.2,688.4 570.5,685.0 575.0,681.9M570.0,517.4 575.4,520.4 581.0,522.9 585.0,528.5 589.2,533.9 591.3,540.2 596.0,544.8 601.5,549.8 605.6,555.8 609.4,559.4 612.7,563.4 616.6,566.8 617.8,572.5 620.6,577.6 622.1,583.2 627.6,587.3 628.0,593.5 629.0,599.7 633.1,605.2 631.2,610.7 629.0,616.1 623.5,623.0 619.9,631.2M772.9,677.3 771.5,681.9 766.7,683.9 761.9,686.0 755.8,687.5 749.6,688.8 742.7,694.3 741.4,703.9 745.5,712.1 751.0,717.6 749.6,725.8 748.2,731.3M751.0,723.1 756.5,724.4M657.7,786.7 663.2,786.7 664.9,793.2 664.6,799.8M940.2,665.5 945.7,667.5 951.1,669.6 953.9,660.0 959.6,658.7 964.8,655.9 974.4,658.6 976.0,664.7 975.8,671.0 978.7,676.4 981.3,681.9 980.7,687.4 982.3,692.9 981.3,698.4 979.8,703.8 978.5,709.4 980.9,716.0 981.3,723.1 986.8,725.8 983.8,730.9 982.7,736.8 986.4,741.3 992.3,742.3 988.7,746.7 988.8,752.4 986.8,757.3M953.9,671.0 957.1,675.1 961.1,678.4 964.8,681.9 964.1,687.4 963.5,692.9 959.4,697.0M931.9,687.4 933.3,686.0 942.9,686.0M949.8,657.3 952.5,664.1M964.8,654.5 966.2,658.6M975.8,714.8 978.5,719.5 984.0,721.3 986.8,725.8M975.8,736.8 982.7,736.8M1132.6,548.4 1134.8,540.7 1138.1,535.2 1144.2,531.2 1149.0,525.6 1151.7,520.1 1155.6,515.2 1157.3,509.2 1161.5,503.8 1165.5,498.2 1170.7,495.2 1176.5,493.3 1181.9,494.7 1187.3,496.3 1192.9,496.9 1197.5,499.6 1201.8,502.7 1206.6,505.1 1212.4,508.8 1217.6,513.3 1224.4,513.5 1229.9,517.4 1232.7,510.6 1238.0,506.3 1242.3,501.0 1248.0,498.8 1253.2,495.5 1256.0,490.0M1272.4,490.0 1273.0,495.5M1179.2,773.0 1183.3,770.2M990.0,740.9 992.7,745.0M1007.8,786.1 1013.3,794.4M320.0,909.6 325.6,906.3 331.0,902.7 336.5,899.6 342.4,897.1 347.4,893.1 352.9,892.7 358.4,893.1 364.2,895.3 369.4,898.6 374.8,898.5 380.3,899.7 385.8,898.6M561.3,841.0 566.8,846.5 572.3,845.2 575.0,850.6M575.0,863.0 568.3,864.9 561.3,864.4 557.0,868.5 554.4,874.0 555.8,880.8 564.0,882.2M377.6,1053.5 383.1,1048.1 391.3,1046.7 395.4,1041.2M893.0,882.2 897.7,883.5 900.4,885.7M931.9,1019.5 938.8,1019.5M1338.2,1134.4 1343.7,1133.1" stroke-width="2.0" stroke-linejoin="round" stroke-linecap="round"/>
</g>
<rect x="155.6" y="171.6" width="1255.8000000000002" height="970.4" fill="none" stroke="#000" stroke-width="1.4"/>
<g font-size="17.86px">
<circle cx="772.9" cy="235.7" r="4.2"/><text x="773.9" y="234.9">Норильск</text>
<circle cx="420.1" cy="421.4" r="4.2"/><text x="421.1" y="420.6">Ханты-Мансийск</text>
<circle cx="224" cy="489.4" r="4.2"/><text x="224.9" y="488.6">Екатеринбург</text>
<circle cx="278.3" cy="565.1" r="4.2"/><text x="279.2" y="564.3">Курган</text>
<circle cx="413.2" cy="628.5" r="4.2"/><text x="414.1" y="627.7">Омск</text>
<circle cx="639.4" cy="627.9" r="4.2"/><text x="640.4" y="627.1">Томск</text>
<circle cx="591.4" cy="668.2" r="4.2"/><text x="592.4" y="667.4">Новосибирск</text>
<circle cx="783.3" cy="661.4" r="4.2"/><text x="784.2" y="660.6">Красноярск</text>
<circle cx="663.2" cy="721.1" r="4.2"/><text x="664.2" y="720.3">Новокузнецк</text>
<circle cx="803.1" cy="801.2" r="4.2"/><text x="804.1" y="800.4">Кызыл</text>
<circle cx="1006.5" cy="783.9" r="4.2"/><text x="1007.5" y="783.1">Иркутск</text>
<circle cx="1076.4" cy="794.4" r="4.2"/><text x="1077.4" y="793.6">Улан-Удэ</text>
<circle cx="1196.2" cy="775.7" r="4.2"/><text x="1197.2" y="774.9">Чита</text>
</g>
<g font-size="25px">
<text x="142" y="334" text-anchor="end">60°N</text>
<text x="142" y="532.5" text-anchor="end">55°N</text>
<text x="142" y="720.5" text-anchor="end">50°N</text>
<text x="142" y="899.5" text-anchor="end">45°N</text>
<text x="142" y="1078.5" text-anchor="end">40°N</text>
<text x="155.5" y="1174" text-anchor="middle">70°E</text>
<text x="417.5" y="1174" text-anchor="middle">80°E</text>
<text x="669.5" y="1174" text-anchor="middle">90°E</text>
<text x="918" y="1174" text-anchor="middle">100°E</text>
<text x="1167.5" y="1174" text-anchor="middle">110°E</text>
</g>
<g>
<polygon points="155.6,1214.6999999999998 212.70000000000002,1190.3 212.70000000000002,1239.1" fill="#8000ff"/>
<g shape-rendering="crispEdges"><rect x="212.4" y="1190.3" width="23.8" height="48.8" fill="#7b06fe"/><rect x="235.2" y="1190.3" width="23.8" height="48.8" fill="#7115fe"/><rect x="258.0" y="1190.3" width="23.8" height="48.8" fill="#6725fe"/><rect x="280.8" y="1190.3" width="23.8" height="48.8" fill="#5d35fd"/><rect x="303.6" y="1190.3" width="23.8" height="48.8" fill="#5147fc"/><rect x="326.4" y="1190.3" width="23.8" height="48.8" fill="#4756fb"/><rect x="349.2" y="1190.3" width="23.8" height="48.8" fill="#3d64f9"/><rect x="372.0" y="1190.3" width="23.8" height="48.8" fill="#3373f8"/><rect x="394.8" y="1190.3" width="23.8" height="48.8" fill="#2980f6"/><rect x="417.6" y="1190.3" width="23.8" height="48.8" fill="#1f8ef3"/><rect x="440.4" y="1190.3" width="23.8" height="48.8" fill="#159af1"/><rect x="463.2" y="1190.3" width="23.8" height="48.8" fill="#0ba7ee"/><rect x="486.0" y="1190.3" width="23.8" height="48.8" fill="#00b4eb"/><rect x="508.8" y="1190.3" width="23.8" height="48.8" fill="#0abfe8"/><rect x="531.6" y="1190.3" width="23.8" height="48.8" fill="#14c9e4"/><rect x="554.4" y="1190.3" width="23.8" height="48.8" fill="#1ed2e1"/><rect x="577.2" y="1190.3" width="23.8" height="48.8" fill="#28dbdd"/><rect x="600.0" y="1190.3" width="23.8" height="48.8" fill="#32e2d9"/><rect x="622.8" y="1190.3" width="23.8" height="48.8" fill="#3ce9d5"/><rect x="645.6" y="1190.3" width="23.8" height="48.8" fill="#46efd1"/><rect x="668.4" y="1190.3" width="23.8" height="48.8" fill="#50f4cc"/><rect x="691.2" y="1190.3" width="23.8" height="48.8" fill="#5cf9c6"/><rect x="714.0" y="1190.3" width="23.8" height="48.8" fill="#66fbc1"/><rect x="736.8" y="1190.3" width="23.8" height="48.8" fill="#70fdbc"/><rect x="759.6" y="1190.3" width="23.8" height="48.8" fill="#7afeb7"/><rect x="782.4" y="1190.3" width="23.8" height="48.8" fill="#84feb1"/><rect x="805.2" y="1190.3" width="23.8" height="48.8" fill="#8efdab"/><rect x="828.0" y="1190.3" width="23.8" height="48.8" fill="#98fba5"/><rect x="850.8" y="1190.3" width="23.8" height="48.8" fill="#a2f99f"/><rect x="873.6" y="1190.3" width="23.8" height="48.8" fill="#aef498"/><rect x="896.4" y="1190.3" width="23.8" height="48.8" fill="#b8ef92"/><rect x="919.2" y="1190.3" width="23.8" height="48.8" fill="#c2e98b"/><rect x="942.0" y="1190.3" width="23.8" height="48.8" fill="#cce284"/><rect x="964.8" y="1190.3" width="23.8" height="48.8" fill="#d6db7e"/><rect x="987.6" y="1190.3" width="23.8" height="48.8" fill="#e0d277"/><rect x="1010.4" y="1190.3" width="23.8" height="48.8" fill="#eac970"/><rect x="1033.2" y="1190.3" width="23.8" height="48.8" fill="#f4bf69"/><rect x="1056.0" y="1190.3" width="23.8" height="48.8" fill="#ffb260"/><rect x="1078.8" y="1190.3" width="23.8" height="48.8" fill="#ffa759"/><rect x="1101.6" y="1190.3" width="23.8" height="48.8" fill="#ff9a51"/><rect x="1124.4" y="1190.3" width="23.8" height="48.8" fill="#ff8e4a"/><rect x="1147.2" y="1190.3" width="23.8" height="48.8" fill="#ff8042"/><rect x="1170.0" y="1190.3" width="23.8" height="48.8" fill="#ff733b"/><rect x="1192.8" y="1190.3" width="23.8" height="48.8" fill="#ff6433"/><rect x="1215.6" y="1190.3" width="23.8" height="48.8" fill="#ff562b"/><rect x="1238.4" y="1190.3" width="23.8" height="48.8" fill="#ff4724"/><rect x="1261.2" y="1190.3" width="23.8" height="48.8" fill="#ff351a"/><rect x="1284.0" y="1190.3" width="23.8" height="48.8" fill="#ff2512"/><rect x="1306.8" y="1190.3" width="23.8" height="48.8" fill="#ff150a"/><rect x="1329.6" y="1190.3" width="23.8" height="48.8" fill="#ff0603"/></g>
<polygon points="1411.4,1214.6999999999998 1352.1,1190.3 1352.1,1239.1" fill="#ff0000"/>
<polygon points="155.6,1214.6999999999998 212.4,1190.3 1352.4,1190.3 1411.4,1214.6999999999998 1352.4,1239.1 212.4,1239.1" fill="none" stroke="#000" stroke-width="1.1"/>
<g font-size="25px" text-anchor="middle">
<line x1="212.4" y1="1239.1" x2="212.4" y2="1244.1" stroke="#000" stroke-width="1.1"/><text x="212.4" y="1268">310</text>
<line x1="440.4" y1="1239.1" x2="440.4" y2="1244.1" stroke="#000" stroke-width="1.1"/><text x="440.4" y="1268">320</text>
<line x1="668.4" y1="1239.1" x2="668.4" y2="1244.1" stroke="#000" stroke-width="1.1"/><text x="668.4" y="1268">330</text>
<line x1="896.4" y1="1239.1" x2="896.4" y2="1244.1" stroke="#000" stroke-width="1.1"/><text x="896.4" y="1268">340</text>
<line x1="1124.4" y1="1239.1" x2="1124.4" y2="1244.1" stroke="#000" stroke-width="1.1"/><text x="1124.4" y="1268">350</text>
<line x1="1352.4" y1="1239.1" x2="1352.4" y2="1244.1" stroke="#000" stroke-width="1.1"/><text x="1352.4" y="1268">360</text>
</g></g>
<g font-size="25px" text-anchor="middle">
<text x="782.5" y="79.6" font-size="25.05px">ФЕДЕРАЛЬНАЯ СЛУЖБА ПО ГИДРОМЕТЕОРОЛОГИИ И МОНИТОРИНГУ ОКРУЖАЮЩЕЙ СРЕДЫ</text>
<text x="782.5" y="111.6" font-size="25.05px">ФГБУ "НАУЧНО-ИССЛЕДОВАТЕЛЬСКИЙ ЦЕНТР КОСМИЧЕСКОЙ ГИДРОМЕТЕОРОЛОГИИ "ПЛАНЕТА"</text>
<text x="782.5" y="143.6" font-size="25.05px">СИБИРСКИЙ ЦЕНТР</text>
<text x="783" y="1356">Среднее отношение смеси оксида азота (N2O)</text>
<text x="783" y="1385">в атмосферном столбе, ppbv</text>
</g>
<g class="a" font-size="18.1px" stroke="#000" stroke-width="0.2">
<text x="1241" y="1348.0">KA NOAA-20/(CRIS/ATMS)</text>
<text x="1241" y="1369.0">2025-10-22 18:30:10</text>
<text x="1241" y="1390.0">2025-10-22 20:08:42</text>
<text x="1241" y="1411.0">2025-10-22 21:49:30</text>
</g>
<g class="a" font-size="14.1px" fill="#222">
<text x="16.8" y="1430.1" fill="#222">Сибирский центр ФГБУ «НИЦ «Планета»</text>
<text x="16.8" y="1446.8" fill="#222">Россия, 630099, г. Новосибирск, ул. Советская, 30</text>
<text x="16.8" y="1463.5" fill="#222">Тел.: (383) 363-46-05, Факс: (383) 363-46-05</text>
<text x="16.8" y="1480.2" fill="#222">E-Mail: <tspan font-family="DejaVu Sans,sans-serif" font-size="13px">alexk@rcpod.ru, www.rcpod.ru</tspan></text>
</g>
<g id="logo">
<rect x="11.3" y="60.3" width="98.2" height="95.2" fill="#fff" stroke="#0b0080" stroke-width="1.6"/>
<g transform="translate(0,50) scale(0.083871)">
<path d="M150,540 C130,330 330,150 560,150 C780,150 930,320 952,500 C920,520 870,510 832,470 C790,570 680,640 560,640 C440,640 350,590 318,520 C280,570 200,585 150,540Z" fill="#2222ee"/>
<path d="M200,730 C260,680 380,670 470,695 C580,730 700,760 790,738 C860,720 910,680 945,640 C930,740 880,830 780,880 C690,930 560,950 450,930 C350,905 230,820 200,730Z" fill="#0b0083"/>
<path d="M940,125 A565,565 0 0 1 140,930" fill="none" stroke="#0b0080" stroke-width="20"/>
<circle cx="1120" cy="485" r="70" fill="#0b0080"/>
<path d="M845,1165 L1215,1165 L1215,815 A700,700 0 0 1 845,1165Z" fill="#0b0083"/>
</g>
</g>
<g id="stamp" class="a">
<rect x="355.3" y="1393" width="98.5" height="95.6" fill="#fff" stroke="#c8c8c8" stroke-width="0.8"/>
<line x1="355.3" y1="1393" x2="355.3" y2="1488.6" stroke="#111" stroke-width="1.1"/>
<line x1="453.8" y1="1393" x2="453.8" y2="1488.6" stroke="#111" stroke-width="1.1"/>
<g transform="translate(345,1385) scale(0.077419)">
<path d="M1300,352 C1160,280 990,243 830,243 C480,243 218,450 218,715 C218,980 480,1192 830,1192 C990,1192 1160,1158 1300,1078 L1300,897 L1045,912 C935,905 858,820 858,715 C858,610 935,525 1045,518 L1300,540 Z" fill="none" stroke="#000" stroke-width="17" stroke-linejoin="miter"/>
<path id="arcT" d="M290,385 C540,150 1010,95 1330,290" fill="none"/>
<path id="arcB" d="M492,1222 C720,1330 980,1325 1180,1238" fill="none"/>
<text font-size="98" font-weight="bold" font-family="Liberation Sans,sans-serif"><textPath href="#arcT" textLength="1120" lengthAdjust="spacingAndGlyphs">ДОБРОСОВЕСТНЫЙ</textPath></text>
<text font-size="92" font-weight="bold" font-style="italic" font-family="Liberation Sans,sans-serif"><textPath href="#arcB" textLength="715" lengthAdjust="spacingAndGlyphs">ПОСТАВЩИК</textPath></text>
<text x="425" y="600" font-size="168" font-weight="bold" font-family="Liberation Sans,sans-serif">ИСО</text>
<text x="358" y="770" font-size="181" font-weight="bold" font-family="Liberation Sans,sans-serif">9001</text>
<text x="358" y="935" font-size="181" font-weight="bold" font-family="Liberation Sans,sans-serif">-2015</text>
</g>
</g>
</svg>
</body></html>
